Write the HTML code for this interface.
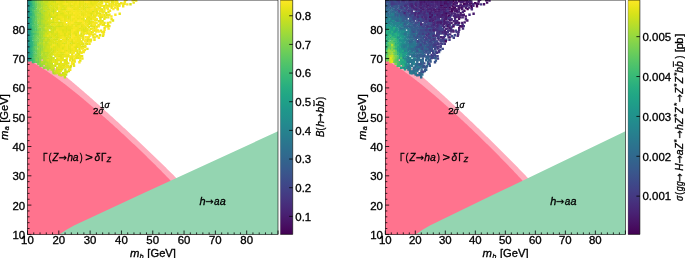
<!DOCTYPE html>
<html><head><meta charset="utf-8"><style>
html,body{margin:0;padding:0;background:#fff;}
svg{display:block;}
</style></head><body>
<svg width="685" height="258" viewBox="0 0 685 258" style="will-change:transform">
<rect width="685" height="258" fill="#fff"/>
<defs><clipPath id="clipL"><rect x="27.50" y="0.00" width="250.50" height="234.40"/></clipPath><clipPath id="clipR"><rect x="385.30" y="0.00" width="240.10" height="234.40"/></clipPath><linearGradient id="gL" x1="0" y1="0" x2="0" y2="1"><stop offset="0.0000" stop-color="#fde725"/><stop offset="0.0312" stop-color="#eae51a"/><stop offset="0.0625" stop-color="#d5e21a"/><stop offset="0.0938" stop-color="#c0df25"/><stop offset="0.1250" stop-color="#aadc32"/><stop offset="0.1562" stop-color="#95d840"/><stop offset="0.1875" stop-color="#81d34d"/><stop offset="0.2188" stop-color="#6ece58"/><stop offset="0.2500" stop-color="#5cc863"/><stop offset="0.2812" stop-color="#4cc26c"/><stop offset="0.3125" stop-color="#3dbc74"/><stop offset="0.3438" stop-color="#31b57b"/><stop offset="0.3750" stop-color="#27ad81"/><stop offset="0.4062" stop-color="#21a685"/><stop offset="0.4375" stop-color="#1f9f88"/><stop offset="0.4688" stop-color="#1f978b"/><stop offset="0.5000" stop-color="#21918c"/><stop offset="0.5312" stop-color="#23898e"/><stop offset="0.5625" stop-color="#26828e"/><stop offset="0.5938" stop-color="#297a8e"/><stop offset="0.6250" stop-color="#2c728e"/><stop offset="0.6562" stop-color="#2f6b8e"/><stop offset="0.6875" stop-color="#33638d"/><stop offset="0.7188" stop-color="#375b8d"/><stop offset="0.7500" stop-color="#3b528b"/><stop offset="0.7812" stop-color="#3e4989"/><stop offset="0.8125" stop-color="#424086"/><stop offset="0.8438" stop-color="#453781"/><stop offset="0.8750" stop-color="#472d7b"/><stop offset="0.9062" stop-color="#482374"/><stop offset="0.9375" stop-color="#48186a"/><stop offset="0.9688" stop-color="#470d60"/><stop offset="1.0000" stop-color="#440154"/></linearGradient><linearGradient id="gR" x1="0" y1="0" x2="0" y2="1"><stop offset="0.0000" stop-color="#fde725"/><stop offset="0.0312" stop-color="#eae51a"/><stop offset="0.0625" stop-color="#d5e21a"/><stop offset="0.0938" stop-color="#c0df25"/><stop offset="0.1250" stop-color="#aadc32"/><stop offset="0.1562" stop-color="#95d840"/><stop offset="0.1875" stop-color="#81d34d"/><stop offset="0.2188" stop-color="#6ece58"/><stop offset="0.2500" stop-color="#5cc863"/><stop offset="0.2812" stop-color="#4cc26c"/><stop offset="0.3125" stop-color="#3dbc74"/><stop offset="0.3438" stop-color="#31b57b"/><stop offset="0.3750" stop-color="#27ad81"/><stop offset="0.4062" stop-color="#21a685"/><stop offset="0.4375" stop-color="#1f9f88"/><stop offset="0.4688" stop-color="#1f978b"/><stop offset="0.5000" stop-color="#21918c"/><stop offset="0.5312" stop-color="#23898e"/><stop offset="0.5625" stop-color="#26828e"/><stop offset="0.5938" stop-color="#297a8e"/><stop offset="0.6250" stop-color="#2c728e"/><stop offset="0.6562" stop-color="#2f6b8e"/><stop offset="0.6875" stop-color="#33638d"/><stop offset="0.7188" stop-color="#375b8d"/><stop offset="0.7500" stop-color="#3b528b"/><stop offset="0.7812" stop-color="#3e4989"/><stop offset="0.8125" stop-color="#424086"/><stop offset="0.8438" stop-color="#453781"/><stop offset="0.8750" stop-color="#472d7b"/><stop offset="0.9062" stop-color="#482374"/><stop offset="0.9375" stop-color="#48186a"/><stop offset="0.9688" stop-color="#470d60"/><stop offset="1.0000" stop-color="#440154"/></linearGradient></defs>
<g clip-path="url(#clipL)">
<path d="M24.37 237.33 L24.37 47.15 L25.15 47.57 L25.93 47.99 L26.72 48.43 L27.50 48.87 L28.28 49.32 L29.07 49.78 L29.85 50.24 L30.63 50.71 L31.41 51.19 L32.20 51.68 L32.98 52.17 L33.76 52.66 L34.55 53.16 L35.33 53.67 L36.11 54.18 L36.89 54.70 L37.68 55.22 L38.46 55.75 L39.24 56.28 L40.02 56.82 L40.81 57.36 L41.59 57.91 L42.37 58.46 L43.16 59.01 L43.94 59.57 L44.72 60.14 L45.50 60.70 L46.29 61.28 L47.07 61.85 L47.85 62.43 L48.64 63.01 L49.42 63.60 L50.20 64.19 L50.98 64.78 L51.77 65.37 L52.55 65.97 L53.33 66.57 L54.12 67.18 L54.90 67.79 L55.68 68.40 L56.46 69.01 L57.25 69.62 L58.03 70.24 L58.81 70.86 L59.60 71.49 L60.38 72.11 L61.16 72.74 L61.94 73.37 L62.73 74.00 L63.51 74.64 L64.29 75.27 L65.08 75.91 L65.86 76.55 L66.64 77.20 L67.42 77.84 L68.21 78.49 L68.99 79.14 L69.77 79.79 L70.55 80.44 L71.34 81.09 L72.12 81.75 L72.90 82.41 L73.69 83.06 L74.47 83.73 L75.25 84.39 L76.03 85.05 L76.82 85.72 L77.60 86.38 L78.38 87.05 L79.17 87.72 L79.95 88.39 L80.73 89.06 L81.51 89.74 L82.30 90.41 L83.08 91.09 L83.86 91.77 L84.65 92.45 L85.43 93.13 L86.21 93.81 L86.99 94.49 L87.78 95.17 L88.56 95.86 L89.34 96.54 L90.12 97.23 L90.91 97.92 L91.69 98.61 L92.47 99.30 L93.26 99.99 L94.04 100.68 L94.82 101.38 L95.60 102.07 L96.39 102.76 L97.17 103.46 L97.95 104.16 L98.74 104.86 L99.52 105.56 L100.30 106.26 L101.08 106.96 L101.87 107.66 L102.65 108.36 L103.43 109.06 L104.22 109.77 L105.00 110.47 L105.78 111.18 L106.56 111.89 L107.35 112.60 L108.13 113.30 L108.91 114.01 L109.70 114.72 L110.48 115.44 L111.26 116.15 L112.04 116.86 L112.83 117.57 L113.61 118.29 L114.39 119.00 L115.17 119.72 L115.96 120.44 L116.74 121.15 L117.52 121.87 L118.31 122.59 L119.09 123.31 L119.87 124.03 L120.65 124.75 L121.44 125.47 L122.22 126.19 L123.00 126.92 L123.79 127.64 L124.57 128.37 L125.35 129.09 L126.13 129.82 L126.92 130.54 L127.70 131.27 L128.48 132.00 L129.27 132.73 L130.05 133.46 L130.83 134.19 L131.61 134.92 L132.40 135.65 L133.18 136.39 L133.96 137.12 L134.75 137.85 L135.53 138.59 L136.31 139.32 L137.09 140.06 L137.88 140.80 L138.66 141.53 L139.44 142.27 L140.22 143.01 L141.01 143.75 L141.79 144.49 L142.57 145.23 L143.36 145.97 L144.14 146.72 L144.92 147.46 L145.70 148.21 L146.49 148.95 L147.27 149.70 L148.05 150.44 L148.84 151.19 L149.62 151.94 L150.40 152.69 L151.18 153.44 L151.97 154.19 L152.75 154.94 L153.53 155.69 L154.32 156.45 L155.10 157.20 L155.88 157.96 L156.66 158.71 L157.45 159.47 L158.23 160.23 L159.01 160.98 L159.80 161.74 L160.58 162.51 L161.36 163.27 L162.14 164.03 L162.93 164.79 L163.71 165.56 L164.49 166.32 L165.28 167.09 L166.06 167.86 L166.84 168.63 L167.62 169.40 L168.41 170.17 L169.19 170.94 L169.97 171.71 L170.75 172.49 L171.54 173.26 L172.32 174.04 L173.10 174.82 L173.89 175.60 L174.67 176.38 L175.45 177.16 L176.23 177.94 L177.02 178.73 L177.80 179.51 L178.58 180.30 L179.37 181.09 L180.15 181.88 L180.93 182.67 L181.71 183.47 L182.50 184.26 L183.28 185.06 L184.06 185.86 L184.85 186.66 L185.63 187.46 L186.41 188.27 L187.19 189.07 L187.98 189.88 L188.76 190.69 L189.54 191.51 L190.32 192.32 L191.11 193.14 L191.89 193.96 L192.67 194.78 L193.46 195.61 L194.24 196.43 L195.02 197.26 L195.80 198.10 L196.59 198.93 L197.37 199.77 L198.15 200.61 L198.94 201.46 L199.72 202.31 L200.50 203.16 L201.28 204.02 L202.07 204.88 L202.85 205.74 L203.63 206.61 L204.42 207.48 L205.20 208.36 L205.98 209.24 L206.76 210.13 L207.55 211.02 L208.33 211.92 L209.11 212.82 L209.90 213.73 L210.68 214.64 L211.46 215.57 L212.24 216.50 L213.03 217.43 L213.81 218.38 L214.59 219.33 L215.38 220.30 L216.16 221.27 L216.94 222.25 L217.72 223.25 L218.51 224.25 L219.29 225.27 L220.07 226.31 L220.85 227.36 L221.64 228.42 L222.42 229.51 L223.20 230.61 L223.99 231.74 L224.77 232.89 L225.55 234.07 L226.33 235.27 L227.12 236.52 L227.90 237.80 L228.68 239.13 L229.47 240.51 L230.25 241.96 L231.03 243.48 L231.81 245.10 L232.60 246.85 L233.38 248.76 L233.38 237.33 Z" fill="#ffabbc"/>
<path d="M24.37 237.33 L24.37 58.33 L25.15 58.69 L25.93 59.05 L26.72 59.43 L27.50 59.81 L28.28 60.20 L29.07 60.59 L29.85 60.99 L30.63 61.40 L31.41 61.82 L32.20 62.24 L32.98 62.67 L33.76 63.10 L34.55 63.54 L35.33 63.99 L36.11 64.44 L36.89 64.90 L37.68 65.36 L38.46 65.83 L39.24 66.31 L40.02 66.79 L40.81 67.27 L41.59 67.76 L42.37 68.26 L43.16 68.76 L43.94 69.26 L44.72 69.77 L45.50 70.29 L46.29 70.81 L47.07 71.33 L47.85 71.86 L48.64 72.39 L49.42 72.92 L50.20 73.46 L50.98 74.01 L51.77 74.55 L52.55 75.10 L53.33 75.66 L54.12 76.22 L54.90 76.78 L55.68 77.34 L56.46 77.91 L57.25 78.48 L58.03 79.06 L58.81 79.64 L59.60 80.22 L60.38 80.80 L61.16 81.39 L61.94 81.98 L62.73 82.58 L63.51 83.17 L64.29 83.77 L65.08 84.37 L65.86 84.98 L66.64 85.59 L67.42 86.20 L68.21 86.81 L68.99 87.42 L69.77 88.04 L70.55 88.66 L71.34 89.28 L72.12 89.91 L72.90 90.53 L73.69 91.16 L74.47 91.79 L75.25 92.42 L76.03 93.06 L76.82 93.70 L77.60 94.34 L78.38 94.98 L79.17 95.62 L79.95 96.27 L80.73 96.91 L81.51 97.56 L82.30 98.21 L83.08 98.87 L83.86 99.52 L84.65 100.18 L85.43 100.84 L86.21 101.49 L86.99 102.16 L87.78 102.82 L88.56 103.48 L89.34 104.15 L90.12 104.82 L90.91 105.49 L91.69 106.16 L92.47 106.83 L93.26 107.51 L94.04 108.18 L94.82 108.86 L95.60 109.54 L96.39 110.22 L97.17 110.90 L97.95 111.58 L98.74 112.27 L99.52 112.95 L100.30 113.64 L101.08 114.33 L101.87 115.02 L102.65 115.71 L103.43 116.40 L104.22 117.10 L105.00 117.79 L105.78 118.49 L106.56 119.19 L107.35 119.88 L108.13 120.59 L108.91 121.29 L109.70 121.99 L110.48 122.69 L111.26 123.40 L112.04 124.11 L112.83 124.81 L113.61 125.52 L114.39 126.23 L115.17 126.94 L115.96 127.66 L116.74 128.37 L117.52 129.08 L118.31 129.80 L119.09 130.52 L119.87 131.24 L120.65 131.96 L121.44 132.68 L122.22 133.40 L123.00 134.12 L123.79 134.85 L124.57 135.57 L125.35 136.30 L126.13 137.03 L126.92 137.76 L127.70 138.49 L128.48 139.22 L129.27 139.95 L130.05 140.68 L130.83 141.42 L131.61 142.15 L132.40 142.89 L133.18 143.63 L133.96 144.37 L134.75 145.11 L135.53 145.85 L136.31 146.60 L137.09 147.34 L137.88 148.09 L138.66 148.83 L139.44 149.58 L140.22 150.33 L141.01 151.08 L141.79 151.83 L142.57 152.59 L143.36 153.34 L144.14 154.10 L144.92 154.86 L145.70 155.61 L146.49 156.37 L147.27 157.14 L148.05 157.90 L148.84 158.66 L149.62 159.43 L150.40 160.20 L151.18 160.96 L151.97 161.73 L152.75 162.51 L153.53 163.28 L154.32 164.05 L155.10 164.83 L155.88 165.61 L156.66 166.39 L157.45 167.17 L158.23 167.95 L159.01 168.74 L159.80 169.52 L160.58 170.31 L161.36 171.10 L162.14 171.89 L162.93 172.68 L163.71 173.48 L164.49 174.28 L165.28 175.08 L166.06 175.88 L166.84 176.68 L167.62 177.49 L168.41 178.30 L169.19 179.11 L169.97 179.92 L170.75 180.73 L171.54 181.55 L172.32 182.37 L173.10 183.19 L173.89 184.02 L174.67 184.84 L175.45 185.67 L176.23 186.51 L177.02 187.34 L177.80 188.18 L178.58 189.02 L179.37 189.87 L180.15 190.72 L180.93 191.57 L181.71 192.42 L182.50 193.28 L183.28 194.14 L184.06 195.01 L184.85 195.88 L185.63 196.76 L186.41 197.63 L187.19 198.52 L187.98 199.41 L188.76 200.30 L189.54 201.20 L190.32 202.10 L191.11 203.01 L191.89 203.92 L192.67 204.84 L193.46 205.77 L194.24 206.70 L195.02 207.64 L195.80 208.59 L196.59 209.54 L197.37 210.51 L198.15 211.48 L198.94 212.46 L199.72 213.45 L200.50 214.44 L201.28 215.45 L202.07 216.47 L202.85 217.51 L203.63 218.55 L204.42 219.61 L205.20 220.68 L205.98 221.77 L206.76 222.88 L207.55 224.00 L208.33 225.15 L209.11 226.31 L209.90 227.50 L210.68 228.72 L211.46 229.96 L212.24 231.24 L213.03 232.56 L213.81 233.91 L214.59 235.31 L215.38 236.77 L216.16 238.29 L216.94 239.89 L217.72 241.58 L218.51 243.38 L219.29 245.33 L220.07 247.49 L220.07 237.33 Z" fill="#ff738e"/>
<path d="M58.19 237.33 L58.81 234.40 L61.94 232.79 L66.01 230.06 L74.00 225.46 L140.01 194.84 L278.00 131.26 L284.26 128.33 L284.26 237.33 Z" fill="#94d5b1"/>
<path fill="#1e9b8a" d="M28.1 17.8h2.4v2.4h-2.4zM27.8 19.4h2.4v2.4h-2.4zM28.1 32.5h2.4v2.4h-2.4z"/>
<path fill="#1e9c89" d="M27.7 -1h2.4v2.4h-2.4zM27.8 43.9h2.4v2.4h-2.4zM28 59.1h2.4v2.4h-2.4z"/>
<path fill="#1f958b" d="M27.7 2.7h2.4v2.4h-2.4zM27.8 8.4h2.4v2.4h-2.4zM27.7 25.1h2.4v2.4h-2.4zM27.9 45.8h2.4v2.4h-2.4z"/>
<path fill="#1f968b" d="M27.9 10.1h2.4v2.4h-2.4zM28 28.8h2.4v2.4h-2.4zM27.8 42.2h2.4v2.4h-2.4z"/>
<path fill="#1f978b" d="M27.9 0.6h2.4v2.4h-2.4zM28 34.4h2.4v2.4h-2.4zM27.9 55.1h2.4v2.4h-2.4z"/>
<path fill="#1f988b" d="M28.1 6.5h2.4v2.4h-2.4z"/>
<path fill="#1f998a" d="M27.8 12.1h2.4v2.4h-2.4zM27.7 23.2h2.4v2.4h-2.4z"/>
<path fill="#1f9a8a" d="M27.8 15.7h2.4v2.4h-2.4zM27.7 27.1h2.4v2.4h-2.4zM27.8 36.3h2.4v2.4h-2.4zM28 38.4h2.4v2.4h-2.4z"/>
<path fill="#1f9e89" d="M28 14.1h2.4v2.4h-2.4z"/>
<path fill="#1f9f88" d="M27.8 47.8h2.4v2.4h-2.4z"/>
<path fill="#1fa088" d="M28 40h2.4v2.4h-2.4zM28.1 51.2h2.4v2.4h-2.4z"/>
<path fill="#1fa287" d="M29.8 2.7h2.4v2.4h-2.4zM28 4.5h2.4v2.4h-2.4z"/>
<path fill="#20928c" d="M27.7 21.3h2.4v2.4h-2.4zM27.9 57h2.4v2.4h-2.4z"/>
<path fill="#20938c" d="M27.9 49.7h2.4v2.4h-2.4zM27.8 53.3h2.4v2.4h-2.4z"/>
<path fill="#218f8d" d="M27.8 30.8h2.4v2.4h-2.4z"/>
<path fill="#21a585" d="M29.8 26.9h2.4v2.4h-2.4zM29.9 34.4h2.4v2.4h-2.4z"/>
<path fill="#228c8d" d="M26 30.9h2.4v2.4h-2.4zM26.1 36.5h2.4v2.4h-2.4z"/>
<path fill="#22a785" d="M29.5 51.6h2.4v2.4h-2.4z"/>
<path fill="#22a884" d="M29.7 4.6h2.4v2.4h-2.4zM29.6 43.9h2.4v2.4h-2.4z"/>
<path fill="#23a983" d="M29.6 12.2h2.4v2.4h-2.4zM29.7 31h2.4v2.4h-2.4zM29.8 32.6h2.4v2.4h-2.4zM29.8 45.8h2.4v2.4h-2.4z"/>
<path fill="#24868e" d="M26.2 4.6h2.4v2.4h-2.4zM26.1 29.1h2.4v2.4h-2.4z"/>
<path fill="#24878e" d="M26.2 16h2.4v2.4h-2.4zM26 19.4h2.4v2.4h-2.4zM26.2 34.5h2.4v2.4h-2.4zM26.1 47.7h2.4v2.4h-2.4z"/>
<path fill="#24aa83" d="M29.6 14.1h2.4v2.4h-2.4zM29.6 25.1h2.4v2.4h-2.4zM30 53.2h2.4v2.4h-2.4z"/>
<path fill="#25838e" d="M25.8 8.4h2.4v2.4h-2.4zM26.2 10.3h2.4v2.4h-2.4zM26.1 40.1h2.4v2.4h-2.4z"/>
<path fill="#25848e" d="M26.1 6.4h2.4v2.4h-2.4z"/>
<path fill="#25ab82" d="M29.7 -1h2.4v2.4h-2.4zM29.8 28.8h2.4v2.4h-2.4zM29.8 38.1h2.4v2.4h-2.4zM29.6 40.4h2.4v2.4h-2.4z"/>
<path fill="#25ac82" d="M29.6 10.1h2.4v2.4h-2.4zM29.6 17.8h2.4v2.4h-2.4zM29.5 19.5h2.4v2.4h-2.4zM29.7 36.6h2.4v2.4h-2.4zM29.9 57.1h2.4v2.4h-2.4z"/>
<path fill="#26818e" d="M26.2 27.2h2.4v2.4h-2.4zM26 32.8h2.4v2.4h-2.4z"/>
<path fill="#26828e" d="M26.2 0.8h2.4v2.4h-2.4zM25.9 12.2h2.4v2.4h-2.4zM25.9 17.6h2.4v2.4h-2.4zM25.8 38.3h2.4v2.4h-2.4zM26 45.9h2.4v2.4h-2.4zM25.8 51.4h2.4v2.4h-2.4zM25.9 53.5h2.4v2.4h-2.4zM25.9 55.1h2.4v2.4h-2.4z"/>
<path fill="#26ad81" d="M29.8 0.7h2.4v2.4h-2.4zM29.8 21.3h2.4v2.4h-2.4z"/>
<path fill="#277e8e" d="M25.9 49.5h2.4v2.4h-2.4z"/>
<path fill="#277f8e" d="M26.1 13.9h2.4v2.4h-2.4zM26 25.1h2.4v2.4h-2.4zM26.1 57h2.4v2.4h-2.4z"/>
<path fill="#27808e" d="M26 -1.2h2.4v2.4h-2.4zM26.1 21.3h2.4v2.4h-2.4z"/>
<path fill="#287d8e" d="M25.9 2.7h2.4v2.4h-2.4zM25.8 42.1h2.4v2.4h-2.4zM26.1 43.8h2.4v2.4h-2.4z"/>
<path fill="#28ae80" d="M29.9 49.6h2.4v2.4h-2.4z"/>
<path fill="#297a8e" d="M26.1 58.9h2.4v2.4h-2.4z"/>
<path fill="#297b8e" d="M26.1 23.2h2.4v2.4h-2.4z"/>
<path fill="#29af7f" d="M30 47.6h2.4v2.4h-2.4z"/>
<path fill="#2ab07f" d="M29.8 42h2.4v2.4h-2.4zM29.6 55.1h2.4v2.4h-2.4zM29.8 58.8h2.4v2.4h-2.4z"/>
<path fill="#2db27d" d="M29.8 6.4h2.4v2.4h-2.4z"/>
<path fill="#2eb37c" d="M29.9 8.3h2.4v2.4h-2.4z"/>
<path fill="#2fb47c" d="M31.5 4.4h2.4v2.4h-2.4zM29.8 23.2h2.4v2.4h-2.4zM31.4 51.3h2.4v2.4h-2.4z"/>
<path fill="#31b57b" d="M31.4 42h2.4v2.4h-2.4z"/>
<path fill="#34b679" d="M31.5 43.8h2.4v2.4h-2.4zM31.6 46h2.4v2.4h-2.4z"/>
<path fill="#35b779" d="M31.7 6.5h2.4v2.4h-2.4zM31.8 40.4h2.4v2.4h-2.4zM31.6 59h2.4v2.4h-2.4z"/>
<path fill="#37b878" d="M29.9 15.7h2.4v2.4h-2.4zM31.8 55h2.4v2.4h-2.4z"/>
<path fill="#38b977" d="M31.6 32.6h2.4v2.4h-2.4zM31.6 53.4h2.4v2.4h-2.4z"/>
<path fill="#3aba76" d="M31.7 12h2.4v2.4h-2.4zM31.8 13.8h2.4v2.4h-2.4zM31.4 34.4h2.4v2.4h-2.4zM31.8 60.8h2.4v2.4h-2.4z"/>
<path fill="#3bbb75" d="M31.8 2.8h2.4v2.4h-2.4zM31.5 29.1h2.4v2.4h-2.4zM31.8 49.4h2.4v2.4h-2.4z"/>
<path fill="#3dbc74" d="M31.6 19.5h2.4v2.4h-2.4zM31.8 23.1h2.4v2.4h-2.4zM31.7 27h2.4v2.4h-2.4zM31.8 36.3h2.4v2.4h-2.4z"/>
<path fill="#3fbc73" d="M31.8 -1h2.4v2.4h-2.4zM31.5 1h2.4v2.4h-2.4zM31.7 21.6h2.4v2.4h-2.4zM31.7 38.2h2.4v2.4h-2.4z"/>
<path fill="#40bd72" d="M31.8 10.3h2.4v2.4h-2.4zM31.4 15.9h2.4v2.4h-2.4zM31.5 47.6h2.4v2.4h-2.4z"/>
<path fill="#42be71" d="M31.8 57.2h2.4v2.4h-2.4z"/>
<path fill="#44bf70" d="M31.8 17.7h2.4v2.4h-2.4z"/>
<path fill="#46c06f" d="M31.6 25.2h2.4v2.4h-2.4zM31.4 30.7h2.4v2.4h-2.4z"/>
<path fill="#48c16e" d="M31.7 8.4h2.4v2.4h-2.4zM33.5 15.7h2.4v2.4h-2.4z"/>
<path fill="#4ac16d" d="M33.7 8.2h2.4v2.4h-2.4zM33.6 32.7h2.4v2.4h-2.4zM33.5 43.8h2.4v2.4h-2.4z"/>
<path fill="#4cc26c" d="M33.3 28.9h2.4v2.4h-2.4z"/>
<path fill="#4ec36b" d="M33.4 14.1h2.4v2.4h-2.4zM33.3 51.4h2.4v2.4h-2.4z"/>
<path fill="#50c46a" d="M33.3 2.7h2.4v2.4h-2.4zM33.5 4.7h2.4v2.4h-2.4zM33.7 6.3h2.4v2.4h-2.4zM33.4 23.4h2.4v2.4h-2.4zM33.3 27.1h2.4v2.4h-2.4zM33.3 47.8h2.4v2.4h-2.4zM33.5 58.9h2.4v2.4h-2.4z"/>
<path fill="#52c569" d="M33.4 0.8h2.4v2.4h-2.4zM33.5 17.6h2.4v2.4h-2.4z"/>
<path fill="#54c568" d="M33.6 -1.2h2.4v2.4h-2.4zM33.3 19.5h2.4v2.4h-2.4zM35.4 29.1h2.4v2.4h-2.4zM33.5 49.4h2.4v2.4h-2.4z"/>
<path fill="#56c667" d="M33.7 25.3h2.4v2.4h-2.4z"/>
<path fill="#58c765" d="M33.5 40.3h2.4v2.4h-2.4zM33.6 42h2.4v2.4h-2.4zM33.3 60.6h2.4v2.4h-2.4z"/>
<path fill="#5ac864" d="M33.7 11.9h2.4v2.4h-2.4zM33.6 34.6h2.4v2.4h-2.4zM33.6 36.6h2.4v2.4h-2.4zM33.6 57.2h2.4v2.4h-2.4z"/>
<path fill="#5cc863" d="M33.5 53.5h2.4v2.4h-2.4z"/>
<path fill="#5ec962" d="M33.6 30.7h2.4v2.4h-2.4zM35.3 44.1h2.4v2.4h-2.4z"/>
<path fill="#60ca60" d="M33.7 21.3h2.4v2.4h-2.4zM35.4 27.1h2.4v2.4h-2.4zM33.5 38.3h2.4v2.4h-2.4zM35.4 53.5h2.4v2.4h-2.4zM33.5 55.1h2.4v2.4h-2.4z"/>
<path fill="#63cb5f" d="M35.2 6.2h2.4v2.4h-2.4zM33.7 10.2h2.4v2.4h-2.4zM35.3 21.5h2.4v2.4h-2.4zM35.6 32.9h2.4v2.4h-2.4zM33.5 45.9h2.4v2.4h-2.4zM35.4 49.6h2.4v2.4h-2.4zM35.4 60.7h2.4v2.4h-2.4z"/>
<path fill="#67cc5c" d="M35.4 -1.2h2.4v2.4h-2.4zM35.3 2.8h2.4v2.4h-2.4zM35.2 23.5h2.4v2.4h-2.4zM35.4 25.1h2.4v2.4h-2.4z"/>
<path fill="#69cd5b" d="M35.2 10.2h2.4v2.4h-2.4zM35.4 19.6h2.4v2.4h-2.4zM35.4 40.3h2.4v2.4h-2.4zM35.5 51.3h2.4v2.4h-2.4z"/>
<path fill="#6ccd5a" d="M35.2 4.3h2.4v2.4h-2.4zM35.3 36.3h2.4v2.4h-2.4zM35.2 42.1h2.4v2.4h-2.4z"/>
<path fill="#6ece58" d="M35.4 15.8h2.4v2.4h-2.4zM35.5 30.7h2.4v2.4h-2.4zM35.3 55.1h2.4v2.4h-2.4zM37.1 60.8h2.4v2.4h-2.4z"/>
<path fill="#70cf57" d="M35.2 17.7h2.4v2.4h-2.4zM37.1 32.7h2.4v2.4h-2.4zM37.1 57h2.4v2.4h-2.4z"/>
<path fill="#73d056" d="M35.4 34.4h2.4v2.4h-2.4zM35.4 38.2h2.4v2.4h-2.4zM35.3 45.9h2.4v2.4h-2.4zM35.2 47.7h2.4v2.4h-2.4zM37.3 58.8h2.4v2.4h-2.4z"/>
<path fill="#77d153" d="M35.2 0.9h2.4v2.4h-2.4zM35.4 8.4h2.4v2.4h-2.4zM35.4 11.9h2.4v2.4h-2.4zM39.1 11.9h2.4v2.4h-2.4zM37.3 28.9h2.4v2.4h-2.4zM37.3 38.4h2.4v2.4h-2.4z"/>
<path fill="#7ad151" d="M35.4 13.7h2.4v2.4h-2.4zM37.5 23.1h2.4v2.4h-2.4zM37.2 40.3h2.4v2.4h-2.4zM35.4 57.1h2.4v2.4h-2.4z"/>
<path fill="#7cd250" d="M37.3 -1.1h2.4v2.4h-2.4zM37.2 25.2h2.4v2.4h-2.4z"/>
<path fill="#7fd34e" d="M37.1 10.1h2.4v2.4h-2.4zM37.1 34.7h2.4v2.4h-2.4zM37.4 45.6h2.4v2.4h-2.4zM39.3 64.6h2.4v2.4h-2.4z"/>
<path fill="#81d34d" d="M39 60.9h2.4v2.4h-2.4zM37.1 62.7h2.4v2.4h-2.4z"/>
<path fill="#84d44b" d="M37.1 12.2h2.4v2.4h-2.4zM37.1 15.7h2.4v2.4h-2.4zM37.1 49.5h2.4v2.4h-2.4zM35.5 59.1h2.4v2.4h-2.4z"/>
<path fill="#86d549" d="M37.4 30.9h2.4v2.4h-2.4zM37.4 36.3h2.4v2.4h-2.4zM39.2 47.8h2.4v2.4h-2.4zM37.4 51.5h2.4v2.4h-2.4zM37.1 53.2h2.4v2.4h-2.4zM37.4 55.3h2.4v2.4h-2.4z"/>
<path fill="#89d548" d="M37.3 2.8h2.4v2.4h-2.4zM37.2 4.5h2.4v2.4h-2.4zM37.1 8.3h2.4v2.4h-2.4zM39.1 21.5h2.4v2.4h-2.4zM39.1 36.5h2.4v2.4h-2.4zM39.1 53.2h2.4v2.4h-2.4z"/>
<path fill="#8bd646" d="M39.2 -1.1h2.4v2.4h-2.4zM37.3 17.5h2.4v2.4h-2.4zM39.2 23.2h2.4v2.4h-2.4zM37.4 27.2h2.4v2.4h-2.4zM39 27.2h2.4v2.4h-2.4zM39 29h2.4v2.4h-2.4zM37.1 42.2h2.4v2.4h-2.4zM39.1 49.6h2.4v2.4h-2.4zM39.1 55.3h2.4v2.4h-2.4z"/>
<path fill="#8ed645" d="M39.1 43.7h2.4v2.4h-2.4zM39.1 56.9h2.4v2.4h-2.4zM40.8 62.7h2.4v2.4h-2.4z"/>
<path fill="#90d743" d="M37.2 0.6h2.4v2.4h-2.4zM38.9 2.7h2.4v2.4h-2.4zM39 4.5h2.4v2.4h-2.4zM39.1 15.9h2.4v2.4h-2.4zM39.3 17.6h2.4v2.4h-2.4zM39.1 32.7h2.4v2.4h-2.4zM39.3 51.5h2.4v2.4h-2.4z"/>
<path fill="#93d741" d="M37.3 6.6h2.4v2.4h-2.4zM37.2 13.9h2.4v2.4h-2.4zM39.2 14.1h2.4v2.4h-2.4zM39.1 19.5h2.4v2.4h-2.4zM39.2 34.5h2.4v2.4h-2.4zM39 58.8h2.4v2.4h-2.4zM39 62.5h2.4v2.4h-2.4zM42.8 66.6h2.4v2.4h-2.4z"/>
<path fill="#95d840" d="M40.9 14h2.4v2.4h-2.4zM37.4 21.5h2.4v2.4h-2.4zM41.1 40h2.4v2.4h-2.4zM39.2 45.6h2.4v2.4h-2.4z"/>
<path fill="#98d83e" d="M39 6.4h2.4v2.4h-2.4zM40.8 17.9h2.4v2.4h-2.4zM37.4 19.3h2.4v2.4h-2.4z"/>
<path fill="#9bd93c" d="M41.1 27.1h2.4v2.4h-2.4zM39.1 31h2.4v2.4h-2.4zM39.3 38.5h2.4v2.4h-2.4zM39.1 40.3h2.4v2.4h-2.4zM37.5 47.7h2.4v2.4h-2.4z"/>
<path fill="#9dd93b" d="M39.3 8.4h2.4v2.4h-2.4zM41.2 8.4h2.4v2.4h-2.4zM39 10.3h2.4v2.4h-2.4zM41 23.3h2.4v2.4h-2.4zM37.2 43.7h2.4v2.4h-2.4zM40.9 45.8h2.4v2.4h-2.4zM41.2 47.7h2.4v2.4h-2.4zM41 56.9h2.4v2.4h-2.4zM40.9 64.6h2.4v2.4h-2.4z"/>
<path fill="#a0da39" d="M39.1 1h2.4v2.4h-2.4zM41.1 4.7h2.4v2.4h-2.4zM43.1 10.3h2.4v2.4h-2.4zM41 32.8h2.4v2.4h-2.4zM40.9 36.4h2.4v2.4h-2.4zM41.1 43.9h2.4v2.4h-2.4zM46.9 68.2h2.4v2.4h-2.4z"/>
<path fill="#a2da37" d="M38.9 25h2.4v2.4h-2.4zM42.7 29h2.4v2.4h-2.4zM41.2 34.5h2.4v2.4h-2.4zM41 38.4h2.4v2.4h-2.4zM45 66.4h2.4v2.4h-2.4z"/>
<path fill="#a5db36" d="M41 15.6h2.4v2.4h-2.4zM42.9 25.1h2.4v2.4h-2.4zM41.2 29.1h2.4v2.4h-2.4zM41 30.8h2.4v2.4h-2.4zM40.8 42.1h2.4v2.4h-2.4zM41 49.7h2.4v2.4h-2.4zM44.7 55.1h2.4v2.4h-2.4zM42.8 60.7h2.4v2.4h-2.4zM52.5 71.9h2.4v2.4h-2.4z"/>
<path fill="#a8db34" d="M41 -1.1h2.4v2.4h-2.4zM42.8 2.5h2.4v2.4h-2.4zM42.9 17.5h2.4v2.4h-2.4zM42.9 27.2h2.4v2.4h-2.4zM42.9 32.6h2.4v2.4h-2.4zM42.8 38.3h2.4v2.4h-2.4zM42.7 51.6h2.4v2.4h-2.4zM42.8 53.3h2.4v2.4h-2.4zM44.6 60.8h2.4v2.4h-2.4zM43 62.5h2.4v2.4h-2.4zM46.5 66.6h2.4v2.4h-2.4z"/>
<path fill="#aadc32" d="M41.2 6.5h2.4v2.4h-2.4zM40.9 11.9h2.4v2.4h-2.4zM40.8 21.5h2.4v2.4h-2.4zM40.9 25.3h2.4v2.4h-2.4zM39.2 42.2h2.4v2.4h-2.4zM41 55.2h2.4v2.4h-2.4z"/>
<path fill="#addc30" d="M41 1h2.4v2.4h-2.4zM40.9 19.5h2.4v2.4h-2.4zM42.7 23.1h2.4v2.4h-2.4zM43.1 36.4h2.4v2.4h-2.4zM46.5 62.6h2.4v2.4h-2.4z"/>
<path fill="#b0dd2f" d="M40.9 2.8h2.4v2.4h-2.4zM42.8 13.9h2.4v2.4h-2.4zM44.8 19.6h2.4v2.4h-2.4zM46.4 60.8h2.4v2.4h-2.4zM44.9 64.4h2.4v2.4h-2.4zM46.7 64.7h2.4v2.4h-2.4zM52.2 68.3h2.4v2.4h-2.4z"/>
<path fill="#b2dd2d" d="M44.7 4.4h2.4v2.4h-2.4zM40.9 10.1h2.4v2.4h-2.4zM46.5 23.1h2.4v2.4h-2.4zM42.8 55h2.4v2.4h-2.4zM48.6 66.6h2.4v2.4h-2.4z"/>
<path fill="#b5de2b" d="M42.7 16h2.4v2.4h-2.4zM44.9 28.7h2.4v2.4h-2.4zM44.9 41.9h2.4v2.4h-2.4zM43.1 45.7h2.4v2.4h-2.4zM42.8 47.9h2.4v2.4h-2.4zM41 51.2h2.4v2.4h-2.4zM44.6 51.4h2.4v2.4h-2.4zM46.6 51.6h2.4v2.4h-2.4zM44.6 58.9h2.4v2.4h-2.4zM52.1 70h2.4v2.4h-2.4z"/>
<path fill="#b8de29" d="M43.1 30.8h2.4v2.4h-2.4zM46.8 32.8h2.4v2.4h-2.4zM44.7 40.1h2.4v2.4h-2.4zM43 49.7h2.4v2.4h-2.4zM41.2 53.3h2.4v2.4h-2.4zM42.9 56.9h2.4v2.4h-2.4zM42.8 59h2.4v2.4h-2.4z"/>
<path fill="#bade28" d="M44.6 0.9h2.4v2.4h-2.4zM46.5 0.6h2.4v2.4h-2.4zM43 4.5h2.4v2.4h-2.4zM43 8.1h2.4v2.4h-2.4zM48.5 14.1h2.4v2.4h-2.4zM42.9 21.3h2.4v2.4h-2.4zM44.8 30.7h2.4v2.4h-2.4zM45 36.3h2.4v2.4h-2.4zM46.7 38.3h2.4v2.4h-2.4zM44.8 45.9h2.4v2.4h-2.4zM46.6 57.2h2.4v2.4h-2.4zM40.8 61h2.4v2.4h-2.4z"/>
<path fill="#bddf26" d="M43.1 1h2.4v2.4h-2.4zM43.1 6.3h2.4v2.4h-2.4zM46.6 8.4h2.4v2.4h-2.4zM44.8 10.2h2.4v2.4h-2.4zM42.8 12.1h2.4v2.4h-2.4zM42.9 19.7h2.4v2.4h-2.4zM50.6 25.2h2.4v2.4h-2.4zM46.5 53.4h2.4v2.4h-2.4zM44.8 57.1h2.4v2.4h-2.4zM48.6 64.6h2.4v2.4h-2.4z"/>
<path fill="#c0df25" d="M46.7 6.4h2.4v2.4h-2.4zM48.4 8.3h2.4v2.4h-2.4zM52.5 10h2.4v2.4h-2.4zM44.9 23.4h2.4v2.4h-2.4zM50.3 27.2h2.4v2.4h-2.4zM43 34.5h2.4v2.4h-2.4zM48.4 38.5h2.4v2.4h-2.4zM43 40.1h2.4v2.4h-2.4zM46.6 42.2h2.4v2.4h-2.4zM43 43.9h2.4v2.4h-2.4zM44.8 44h2.4v2.4h-2.4zM63.7 76h2.4v2.4h-2.4z"/>
<path fill="#c2df23" d="M48.7 -1.1h2.4v2.4h-2.4zM44.7 6.6h2.4v2.4h-2.4zM44.9 12h2.4v2.4h-2.4zM44.9 15.8h2.4v2.4h-2.4zM46.5 17.5h2.4v2.4h-2.4zM44.9 25.1h2.4v2.4h-2.4zM46.5 40.1h2.4v2.4h-2.4zM44.8 47.6h2.4v2.4h-2.4zM44.6 53.2h2.4v2.4h-2.4zM50.4 68.3h2.4v2.4h-2.4zM57.8 68.3h2.4v2.4h-2.4zM54.2 72h2.4v2.4h-2.4zM62 72.1h2.4v2.4h-2.4z"/>
<path fill="#c5e021" d="M46.6 -1.2h2.4v2.4h-2.4zM44.6 2.6h2.4v2.4h-2.4zM56.2 2.5h2.4v2.4h-2.4zM50.6 21.2h2.4v2.4h-2.4zM46.8 25.2h2.4v2.4h-2.4zM50.3 36.4h2.4v2.4h-2.4zM42.8 42.2h2.4v2.4h-2.4zM46.5 55.1h2.4v2.4h-2.4zM48.4 60.7h2.4v2.4h-2.4zM48.3 62.8h2.4v2.4h-2.4zM50.6 62.6h2.4v2.4h-2.4zM64.2 68.3h2.4v2.4h-2.4zM67.6 69.9h2.4v2.4h-2.4zM64.9 73.3h2.4v2.4h-2.4z"/>
<path fill="#c8e020" d="M46.9 4.7h2.4v2.4h-2.4zM44.8 8.1h2.4v2.4h-2.4zM52.4 8.2h2.4v2.4h-2.4zM48.7 12h2.4v2.4h-2.4zM46.7 15.7h2.4v2.4h-2.4zM44.6 17.5h2.4v2.4h-2.4zM45 21.5h2.4v2.4h-2.4zM46.7 21.2h2.4v2.4h-2.4zM48.6 25.2h2.4v2.4h-2.4zM57.8 25h2.4v2.4h-2.4zM46.5 27h2.4v2.4h-2.4zM46.5 28.9h2.4v2.4h-2.4zM46.7 36.5h2.4v2.4h-2.4zM46.8 44h2.4v2.4h-2.4zM46.6 47.7h2.4v2.4h-2.4zM46.8 49.6h2.4v2.4h-2.4zM48.3 51.3h2.4v2.4h-2.4zM50.4 57h2.4v2.4h-2.4zM45 62.7h2.4v2.4h-2.4z"/>
<path fill="#cae11f" d="M44.8 -1.1h2.4v2.4h-2.4zM54.3 0.6h2.4v2.4h-2.4zM50.4 4.4h2.4v2.4h-2.4zM52.5 12h2.4v2.4h-2.4zM44.7 13.8h2.4v2.4h-2.4zM50.5 15.6h2.4v2.4h-2.4zM52.5 21.4h2.4v2.4h-2.4zM48.7 27.1h2.4v2.4h-2.4zM52.3 28.7h2.4v2.4h-2.4zM48.7 30.7h2.4v2.4h-2.4zM50.4 30.7h2.4v2.4h-2.4zM48.4 43.9h2.4v2.4h-2.4zM50.2 55.2h2.4v2.4h-2.4zM48.4 57.2h2.4v2.4h-2.4zM69 66.4h2.4v2.4h-2.4zM58.2 72.3h2.4v2.4h-2.4zM58 73.4h2.4v2.4h-2.4z"/>
<path fill="#cde11d" d="M43 -1.2h2.4v2.4h-2.4zM52.3 0.8h2.4v2.4h-2.4zM46.6 2.7h2.4v2.4h-2.4zM46.5 11.9h2.4v2.4h-2.4zM48.6 15.9h2.4v2.4h-2.4zM52.5 15.9h2.4v2.4h-2.4zM48.3 23.3h2.4v2.4h-2.4zM54 34.4h2.4v2.4h-2.4zM48.6 40.1h2.4v2.4h-2.4zM56.2 42.2h2.4v2.4h-2.4zM52.4 49.7h2.4v2.4h-2.4zM48.7 53.2h2.4v2.4h-2.4zM48.7 55.4h2.4v2.4h-2.4zM52.4 57h2.4v2.4h-2.4zM48.6 58.8h2.4v2.4h-2.4zM50.5 64.6h2.4v2.4h-2.4zM52.4 64.4h2.4v2.4h-2.4zM50.5 66.3h2.4v2.4h-2.4z"/>
<path fill="#d0e11c" d="M46.8 10.1h2.4v2.4h-2.4zM50.6 10h2.4v2.4h-2.4zM46.8 14.1h2.4v2.4h-2.4zM55.9 14h2.4v2.4h-2.4zM44.6 27.2h2.4v2.4h-2.4zM52.3 30.6h2.4v2.4h-2.4zM44.8 32.6h2.4v2.4h-2.4zM44.7 34.5h2.4v2.4h-2.4zM48.5 36.3h2.4v2.4h-2.4zM44.7 38.5h2.4v2.4h-2.4zM54.1 38.3h2.4v2.4h-2.4zM56 38.2h2.4v2.4h-2.4zM48.3 45.6h2.4v2.4h-2.4zM50.3 47.6h2.4v2.4h-2.4zM44.6 49.7h2.4v2.4h-2.4zM48.5 49.7h2.4v2.4h-2.4zM50.3 51.4h2.4v2.4h-2.4zM58 55.2h2.4v2.4h-2.4zM50.4 59.1h2.4v2.4h-2.4zM50.2 60.6h2.4v2.4h-2.4zM54.1 64.5h2.4v2.4h-2.4zM52.2 66.5h2.4v2.4h-2.4zM56.2 71.9h2.4v2.4h-2.4zM59.6 74h2.4v2.4h-2.4z"/>
<path fill="#d2e21b" d="M52.3 -1.1h2.4v2.4h-2.4zM56 6.5h2.4v2.4h-2.4zM92 10.3h2.4v2.4h-2.4zM54.2 15.9h2.4v2.4h-2.4zM52.2 17.6h2.4v2.4h-2.4zM46.4 19.5h2.4v2.4h-2.4zM48.7 21.6h2.4v2.4h-2.4zM52.2 25.3h2.4v2.4h-2.4zM59.7 25.2h2.4v2.4h-2.4zM52.4 27h2.4v2.4h-2.4zM54.2 26.9h2.4v2.4h-2.4zM54.2 28.8h2.4v2.4h-2.4zM56.1 32.7h2.4v2.4h-2.4zM52.5 38.3h2.4v2.4h-2.4zM52.3 42.1h2.4v2.4h-2.4zM61.5 42h2.4v2.4h-2.4zM46.5 45.8h2.4v2.4h-2.4zM48.3 47.7h2.4v2.4h-2.4zM50.3 49.4h2.4v2.4h-2.4zM50.6 53.1h2.4v2.4h-2.4zM54.3 59h2.4v2.4h-2.4zM55.9 62.9h2.4v2.4h-2.4zM54.4 70.2h2.4v2.4h-2.4zM55.9 70.1h2.4v2.4h-2.4z"/>
<path fill="#d5e21a" d="M50.6 0.8h2.4v2.4h-2.4zM48.7 2.7h2.4v2.4h-2.4zM48.3 4.4h2.4v2.4h-2.4zM48.5 19.7h2.4v2.4h-2.4zM57.9 21.5h2.4v2.4h-2.4zM56 25.3h2.4v2.4h-2.4zM50.5 29.1h2.4v2.4h-2.4zM46.9 30.8h2.4v2.4h-2.4zM55.9 30.7h2.4v2.4h-2.4zM48.4 34.7h2.4v2.4h-2.4zM65.4 38.3h2.4v2.4h-2.4zM69.1 42.2h2.4v2.4h-2.4zM50.3 43.9h2.4v2.4h-2.4zM56.1 44.1h2.4v2.4h-2.4zM58.1 45.9h2.4v2.4h-2.4zM61.8 47.8h2.4v2.4h-2.4zM46.5 59.1h2.4v2.4h-2.4zM58.1 62.7h2.4v2.4h-2.4zM64.2 70.3h2.4v2.4h-2.4zM63.1 73.7h2.4v2.4h-2.4z"/>
<path fill="#d8e219" d="M48.5 1h2.4v2.4h-2.4zM129.3 3.1h2.4v2.4h-2.4zM52.3 6.6h2.4v2.4h-2.4zM63.6 8.3h2.4v2.4h-2.4zM48.5 10.2h2.4v2.4h-2.4zM54.2 10.1h2.4v2.4h-2.4zM58.1 10.4h2.4v2.4h-2.4zM56.1 12h2.4v2.4h-2.4zM48.4 17.5h2.4v2.4h-2.4zM56 17.8h2.4v2.4h-2.4zM57.9 17.8h2.4v2.4h-2.4zM101.3 20.1h2.4v2.4h-2.4zM59.8 21.4h2.4v2.4h-2.4zM54.2 25.2h2.4v2.4h-2.4zM65.5 27h2.4v2.4h-2.4zM61.6 29.1h2.4v2.4h-2.4zM50.6 32.7h2.4v2.4h-2.4zM63.8 32.6h2.4v2.4h-2.4zM80.3 32.5h2.4v2.4h-2.4zM69.3 34.4h2.4v2.4h-2.4zM74.7 34.4h2.4v2.4h-2.4zM55.9 36.3h2.4v2.4h-2.4zM86.2 39.8h2.4v2.4h-2.4zM52.2 45.7h2.4v2.4h-2.4zM65.5 49.7h2.4v2.4h-2.4zM52.1 51.2h2.4v2.4h-2.4zM59.7 51.3h2.4v2.4h-2.4zM61.7 53.4h2.4v2.4h-2.4zM71.6 59.1h2.4v2.4h-2.4zM55.9 68.4h2.4v2.4h-2.4zM59.6 68.3h2.4v2.4h-2.4zM61.4 73.9h2.4v2.4h-2.4z"/>
<path fill="#dae319" d="M50.5 -1.1h2.4v2.4h-2.4zM132.8 -1.5h2.4v2.4h-2.4zM110.9 0.5h2.4v2.4h-2.4zM52.3 4.5h2.4v2.4h-2.4zM61.8 4.5h2.4v2.4h-2.4zM63.5 4.4h2.4v2.4h-2.4zM48.7 6.3h2.4v2.4h-2.4zM50.4 6.4h2.4v2.4h-2.4zM50.6 8.5h2.4v2.4h-2.4zM56.2 8.1h2.4v2.4h-2.4zM61.6 8.4h2.4v2.4h-2.4zM59.8 12.2h2.4v2.4h-2.4zM89.9 12.1h2.4v2.4h-2.4zM87.9 15.7h2.4v2.4h-2.4zM80.6 17.8h2.4v2.4h-2.4zM52.3 19.7h2.4v2.4h-2.4zM54 21.4h2.4v2.4h-2.4zM61.9 25.3h2.4v2.4h-2.4zM84.4 27.1h2.4v2.4h-2.4zM69.1 29.1h2.4v2.4h-2.4zM82.5 28.9h2.4v2.4h-2.4zM54.2 32.6h2.4v2.4h-2.4zM57.8 36.4h2.4v2.4h-2.4zM50.4 40h2.4v2.4h-2.4zM50.3 42.2h2.4v2.4h-2.4zM54.2 42h2.4v2.4h-2.4zM63.5 42.2h2.4v2.4h-2.4zM81.9 45.2h2.4v2.4h-2.4zM52.4 53.2h2.4v2.4h-2.4zM54.3 55h2.4v2.4h-2.4zM63.5 59.1h2.4v2.4h-2.4zM65.3 58.9h2.4v2.4h-2.4zM54.2 60.9h2.4v2.4h-2.4zM72.4 62.6h2.4v2.4h-2.4zM61.6 64.4h2.4v2.4h-2.4zM56 66.6h2.4v2.4h-2.4zM61 68h2.4v2.4h-2.4zM65.8 70.8h2.4v2.4h-2.4z"/>
<path fill="#dde318" d="M50.6 2.6h2.4v2.4h-2.4zM54.2 2.9h2.4v2.4h-2.4zM60 2.5h2.4v2.4h-2.4zM84.3 2.5h2.4v2.4h-2.4zM89.8 2.5h2.4v2.4h-2.4zM70.9 4.4h2.4v2.4h-2.4zM82.3 4.6h2.4v2.4h-2.4zM54.4 6.4h2.4v2.4h-2.4zM84.3 6.3h2.4v2.4h-2.4zM59.6 8.3h2.4v2.4h-2.4zM100.8 8.2h2.4v2.4h-2.4zM61.6 12h2.4v2.4h-2.4zM99.1 12.6h2.4v2.4h-2.4zM50.5 13.7h2.4v2.4h-2.4zM89.9 13.9h2.4v2.4h-2.4zM67.5 15.6h2.4v2.4h-2.4zM98.8 16.1h2.4v2.4h-2.4zM88 19.6h2.4v2.4h-2.4zM55.8 21.4h2.4v2.4h-2.4zM80.6 25h2.4v2.4h-2.4zM78.8 27.2h2.4v2.4h-2.4zM67.5 28.8h2.4v2.4h-2.4zM65.4 30.9h2.4v2.4h-2.4zM52.4 32.7h2.4v2.4h-2.4zM67.2 32.7h2.4v2.4h-2.4zM74.9 32.6h2.4v2.4h-2.4zM52.5 34.5h2.4v2.4h-2.4zM56.2 34.5h2.4v2.4h-2.4zM63.7 34.6h2.4v2.4h-2.4zM52.1 40.3h2.4v2.4h-2.4zM70.9 40h2.4v2.4h-2.4zM48.5 42.1h2.4v2.4h-2.4zM71.3 42h2.4v2.4h-2.4zM54.1 45.6h2.4v2.4h-2.4zM52.2 47.5h2.4v2.4h-2.4zM56.2 49.4h2.4v2.4h-2.4zM69.3 51.4h2.4v2.4h-2.4zM76.3 51.7h2.4v2.4h-2.4zM77.8 53.3h2.4v2.4h-2.4zM77.1 56.7h2.4v2.4h-2.4zM52.2 58.8h2.4v2.4h-2.4zM56 59h2.4v2.4h-2.4zM58 58.9h2.4v2.4h-2.4zM79.1 59.4h2.4v2.4h-2.4zM69.6 65h2.4v2.4h-2.4zM57.8 70.1h2.4v2.4h-2.4z"/>
<path fill="#dfe318" d="M59.6 -1h2.4v2.4h-2.4zM93.4 -1.2h2.4v2.4h-2.4zM65.6 0.7h2.4v2.4h-2.4zM100.5 1.1h2.4v2.4h-2.4zM105 3.3h2.4v2.4h-2.4zM54.2 4.7h2.4v2.4h-2.4zM69.2 4.6h2.4v2.4h-2.4zM110.9 4.9h2.4v2.4h-2.4zM86.3 6.4h2.4v2.4h-2.4zM54.1 8.4h2.4v2.4h-2.4zM72.8 8.1h2.4v2.4h-2.4zM82.4 8.3h2.4v2.4h-2.4zM54 14.1h2.4v2.4h-2.4zM67.4 17.9h2.4v2.4h-2.4zM95.3 19h2.4v2.4h-2.4zM111.8 19.3h2.4v2.4h-2.4zM74.8 21.3h2.4v2.4h-2.4zM88.2 21h2.4v2.4h-2.4zM58 23.4h2.4v2.4h-2.4zM61.5 23.5h2.4v2.4h-2.4zM76.9 23.3h2.4v2.4h-2.4zM74.8 25h2.4v2.4h-2.4zM87.8 25.8h2.4v2.4h-2.4zM93.3 24.5h2.4v2.4h-2.4zM65.5 29h2.4v2.4h-2.4zM93.2 29.3h2.4v2.4h-2.4zM61.8 30.7h2.4v2.4h-2.4zM69.1 30.8h2.4v2.4h-2.4zM89.6 30.9h2.4v2.4h-2.4zM86.1 32.2h2.4v2.4h-2.4zM50.5 34.5h2.4v2.4h-2.4zM98.9 34h2.4v2.4h-2.4zM54.1 36.2h2.4v2.4h-2.4zM65.5 36.5h2.4v2.4h-2.4zM69.1 36.6h2.4v2.4h-2.4zM82 36.7h2.4v2.4h-2.4zM50.5 38.4h2.4v2.4h-2.4zM67.4 38.4h2.4v2.4h-2.4zM59.9 40.1h2.4v2.4h-2.4zM73.1 42.1h2.4v2.4h-2.4zM57.9 43.9h2.4v2.4h-2.4zM61.6 45.9h2.4v2.4h-2.4zM74.7 45.6h2.4v2.4h-2.4zM54.1 47.8h2.4v2.4h-2.4zM54.1 49.6h2.4v2.4h-2.4zM59.7 55h2.4v2.4h-2.4zM75.2 54.8h2.4v2.4h-2.4zM60 56.9h2.4v2.4h-2.4zM67.1 62.2h2.4v2.4h-2.4zM63.4 64.6h2.4v2.4h-2.4zM59.8 66.2h2.4v2.4h-2.4zM63.7 71.5h2.4v2.4h-2.4z"/>
<path fill="#e2e418" d="M54 -1.1h2.4v2.4h-2.4zM61.8 -1h2.4v2.4h-2.4zM99.6 -1.5h2.4v2.4h-2.4zM78.7 2.9h2.4v2.4h-2.4zM117.9 3h2.4v2.4h-2.4zM63.7 6.6h2.4v2.4h-2.4zM65.5 10.3h2.4v2.4h-2.4zM50.3 11.9h2.4v2.4h-2.4zM67.3 12h2.4v2.4h-2.4zM104.9 11.9h2.4v2.4h-2.4zM61.8 14h2.4v2.4h-2.4zM63.6 14h2.4v2.4h-2.4zM65.5 13.9h2.4v2.4h-2.4zM73.1 13.8h2.4v2.4h-2.4zM80.5 14h2.4v2.4h-2.4zM63.6 15.8h2.4v2.4h-2.4zM100.8 15.7h2.4v2.4h-2.4zM76.6 17.5h2.4v2.4h-2.4zM89.7 17.8h2.4v2.4h-2.4zM50.4 19.4h2.4v2.4h-2.4zM84.3 19.6h2.4v2.4h-2.4zM56.2 23.5h2.4v2.4h-2.4zM78.5 23.1h2.4v2.4h-2.4zM87.9 22.8h2.4v2.4h-2.4zM107 23.7h2.4v2.4h-2.4zM65.4 25.3h2.4v2.4h-2.4zM90.1 24.7h2.4v2.4h-2.4zM58.1 27.1h2.4v2.4h-2.4zM82.3 27h2.4v2.4h-2.4zM63.7 29h2.4v2.4h-2.4zM80.4 28.9h2.4v2.4h-2.4zM82.7 30.6h2.4v2.4h-2.4zM84.6 30.1h2.4v2.4h-2.4zM69 32.5h2.4v2.4h-2.4zM78.7 34.4h2.4v2.4h-2.4zM54.3 40.1h2.4v2.4h-2.4zM57.8 40.1h2.4v2.4h-2.4zM82 42.5h2.4v2.4h-2.4zM76.5 45.6h2.4v2.4h-2.4zM78.3 48.1h2.4v2.4h-2.4zM69.1 49.6h2.4v2.4h-2.4zM61.6 51.4h2.4v2.4h-2.4zM59.7 53.4h2.4v2.4h-2.4zM77.2 53.3h2.4v2.4h-2.4zM56.1 57.2h2.4v2.4h-2.4zM71.2 57h2.4v2.4h-2.4zM59.7 60.9h2.4v2.4h-2.4zM54.2 62.5h2.4v2.4h-2.4zM65.3 62.5h2.4v2.4h-2.4zM58 64.7h2.4v2.4h-2.4zM59.7 64.5h2.4v2.4h-2.4zM57.9 66.4h2.4v2.4h-2.4z"/>
<path fill="#e5e419" d="M57.9 -1.1h2.4v2.4h-2.4zM65.4 -1.2h2.4v2.4h-2.4zM78.5 -1.1h2.4v2.4h-2.4zM84.1 -1.3h2.4v2.4h-2.4zM110.2 -1.2h2.4v2.4h-2.4zM59.6 0.8h2.4v2.4h-2.4zM61.8 1h2.4v2.4h-2.4zM82.3 0.6h2.4v2.4h-2.4zM89.7 0.9h2.4v2.4h-2.4zM97.1 0.3h2.4v2.4h-2.4zM52.4 2.7h2.4v2.4h-2.4zM58 2.5h2.4v2.4h-2.4zM72.8 2.8h2.4v2.4h-2.4zM55.8 4.5h2.4v2.4h-2.4zM59.8 4.5h2.4v2.4h-2.4zM86.3 4.4h2.4v2.4h-2.4zM95.4 4.2h2.4v2.4h-2.4zM107 4.9h2.4v2.4h-2.4zM59.7 6.6h2.4v2.4h-2.4zM61.8 6.4h2.4v2.4h-2.4zM78.5 6.2h2.4v2.4h-2.4zM87.9 6.3h2.4v2.4h-2.4zM84.4 8.3h2.4v2.4h-2.4zM59.8 10.3h2.4v2.4h-2.4zM80.4 10.3h2.4v2.4h-2.4zM95.9 9.8h2.4v2.4h-2.4zM107.3 10.5h2.4v2.4h-2.4zM95.5 12.1h2.4v2.4h-2.4zM97.6 12.2h2.4v2.4h-2.4zM60 13.9h2.4v2.4h-2.4zM69.1 14.1h2.4v2.4h-2.4zM105.4 13.6h2.4v2.4h-2.4zM56.2 16h2.4v2.4h-2.4zM65.2 15.8h2.4v2.4h-2.4zM69.3 15.9h2.4v2.4h-2.4zM104.7 16.2h2.4v2.4h-2.4zM63.6 17.7h2.4v2.4h-2.4zM103.2 17.7h2.4v2.4h-2.4zM90.3 20.2h2.4v2.4h-2.4zM97.8 20h2.4v2.4h-2.4zM61.6 21.6h2.4v2.4h-2.4zM50.6 23.3h2.4v2.4h-2.4zM86.2 23.4h2.4v2.4h-2.4zM102.7 23.7h2.4v2.4h-2.4zM56 27.2h2.4v2.4h-2.4zM63.8 27.1h2.4v2.4h-2.4zM70.9 27.2h2.4v2.4h-2.4zM93.3 26.8h2.4v2.4h-2.4zM103.4 26.7h2.4v2.4h-2.4zM57.8 28.7h2.4v2.4h-2.4zM76.7 29.1h2.4v2.4h-2.4zM86.3 28.7h2.4v2.4h-2.4zM76.8 30.7h2.4v2.4h-2.4zM73 32.5h2.4v2.4h-2.4zM46.7 34.4h2.4v2.4h-2.4zM58 34.6h2.4v2.4h-2.4zM101.8 34.5h2.4v2.4h-2.4zM87.8 38.7h2.4v2.4h-2.4zM80.1 40.3h2.4v2.4h-2.4zM57.9 42.1h2.4v2.4h-2.4zM56.1 45.8h2.4v2.4h-2.4zM67.3 45.9h2.4v2.4h-2.4zM73.1 45.9h2.4v2.4h-2.4zM80.1 45.9h2.4v2.4h-2.4zM67.2 47.6h2.4v2.4h-2.4zM69.1 47.7h2.4v2.4h-2.4zM86.2 47.7h2.4v2.4h-2.4zM56 53.4h2.4v2.4h-2.4zM57.9 53.4h2.4v2.4h-2.4zM67.2 55.1h2.4v2.4h-2.4zM69.3 57h2.4v2.4h-2.4zM52.2 60.7h2.4v2.4h-2.4zM56 60.6h2.4v2.4h-2.4zM63.7 60.8h2.4v2.4h-2.4zM65.6 60.9h2.4v2.4h-2.4zM61.6 66.5h2.4v2.4h-2.4zM59.7 69.8h2.4v2.4h-2.4z"/>
<path fill="#e7e419" d="M95.6 -1.1h2.4v2.4h-2.4zM112 -1.3h2.4v2.4h-2.4zM63.4 0.8h2.4v2.4h-2.4zM67.5 0.7h2.4v2.4h-2.4zM74.8 0.6h2.4v2.4h-2.4zM78.7 0.7h2.4v2.4h-2.4zM99.2 1.2h2.4v2.4h-2.4zM103.4 0.1h2.4v2.4h-2.4zM106.7 0.5h2.4v2.4h-2.4zM91.6 2.7h2.4v2.4h-2.4zM65.4 4.5h2.4v2.4h-2.4zM78.6 4.6h2.4v2.4h-2.4zM91.9 4.6h2.4v2.4h-2.4zM103 5h2.4v2.4h-2.4zM65.4 6.3h2.4v2.4h-2.4zM71.1 6.4h2.4v2.4h-2.4zM82.3 6.5h2.4v2.4h-2.4zM97.9 6.8h2.4v2.4h-2.4zM98.9 6.3h2.4v2.4h-2.4zM103 6h2.4v2.4h-2.4zM105.6 6.3h2.4v2.4h-2.4zM78.5 8.4h2.4v2.4h-2.4zM67.5 10.2h2.4v2.4h-2.4zM91.8 12h2.4v2.4h-2.4zM57.7 13.9h2.4v2.4h-2.4zM82.5 14h2.4v2.4h-2.4zM92.4 14.5h2.4v2.4h-2.4zM102.9 13.8h2.4v2.4h-2.4zM82.4 17.8h2.4v2.4h-2.4zM85.9 17.8h2.4v2.4h-2.4zM59.6 19.4h2.4v2.4h-2.4zM76.8 21.4h2.4v2.4h-2.4zM78.4 21.5h2.4v2.4h-2.4zM80.6 21.4h2.4v2.4h-2.4zM103.3 21.7h2.4v2.4h-2.4zM52.3 23.1h2.4v2.4h-2.4zM54.1 23.4h2.4v2.4h-2.4zM93.4 23.4h2.4v2.4h-2.4zM63.6 25.3h2.4v2.4h-2.4zM67.1 25.1h2.4v2.4h-2.4zM69.2 25h2.4v2.4h-2.4zM91.9 25h2.4v2.4h-2.4zM95.6 25.5h2.4v2.4h-2.4zM60 27.1h2.4v2.4h-2.4zM67.4 27h2.4v2.4h-2.4zM69.4 26.9h2.4v2.4h-2.4zM89.5 27.7h2.4v2.4h-2.4zM59.8 28.9h2.4v2.4h-2.4zM84.6 28.4h2.4v2.4h-2.4zM63.7 30.7h2.4v2.4h-2.4zM73.1 30.6h2.4v2.4h-2.4zM48.5 32.5h2.4v2.4h-2.4zM57.8 32.5h2.4v2.4h-2.4zM59.9 34.6h2.4v2.4h-2.4zM65.6 34.3h2.4v2.4h-2.4zM52.2 36.4h2.4v2.4h-2.4zM92.3 36.2h2.4v2.4h-2.4zM61.6 38.4h2.4v2.4h-2.4zM70.9 38.4h2.4v2.4h-2.4zM86.8 38h2.4v2.4h-2.4zM55.9 40.4h2.4v2.4h-2.4zM65.3 40.2h2.4v2.4h-2.4zM65.3 41.9h2.4v2.4h-2.4zM76.9 42.2h2.4v2.4h-2.4zM78.3 41.9h2.4v2.4h-2.4zM85.9 42.5h2.4v2.4h-2.4zM59.8 44h2.4v2.4h-2.4zM67.2 43.9h2.4v2.4h-2.4zM63.6 45.7h2.4v2.4h-2.4zM56 47.5h2.4v2.4h-2.4zM75 47.5h2.4v2.4h-2.4zM78.8 50.3h2.4v2.4h-2.4zM54 51.3h2.4v2.4h-2.4zM63.7 51.3h2.4v2.4h-2.4zM71.1 53.4h2.4v2.4h-2.4zM63.6 55.2h2.4v2.4h-2.4zM65.5 55.1h2.4v2.4h-2.4zM61.5 56.9h2.4v2.4h-2.4zM75 56.9h2.4v2.4h-2.4zM61.8 62.9h2.4v2.4h-2.4zM63.5 62.7h2.4v2.4h-2.4z"/>
<path fill="#eae51a" d="M56 -1h2.4v2.4h-2.4zM75 -1.3h2.4v2.4h-2.4zM87.9 -1.1h2.4v2.4h-2.4zM107.1 -0.6h2.4v2.4h-2.4zM58.1 0.9h2.4v2.4h-2.4zM70.9 0.9h2.4v2.4h-2.4zM93.8 0.6h2.4v2.4h-2.4zM112.4 0.7h2.4v2.4h-2.4zM132.5 1.4h2.4v2.4h-2.4zM61.7 2.8h2.4v2.4h-2.4zM69.1 2.7h2.4v2.4h-2.4zM80.5 2.5h2.4v2.4h-2.4zM82.3 2.7h2.4v2.4h-2.4zM93.6 2.8h2.4v2.4h-2.4zM100.9 2.1h2.4v2.4h-2.4zM111.7 2.8h2.4v2.4h-2.4zM116.1 2.2h2.4v2.4h-2.4zM58.1 4.4h2.4v2.4h-2.4zM67.2 4.7h2.4v2.4h-2.4zM73 4.5h2.4v2.4h-2.4zM104.8 4.2h2.4v2.4h-2.4zM80.5 6.6h2.4v2.4h-2.4zM89.9 6.2h2.4v2.4h-2.4zM93.5 6.4h2.4v2.4h-2.4zM74.7 8.1h2.4v2.4h-2.4zM88.1 8.3h2.4v2.4h-2.4zM99.4 8.3h2.4v2.4h-2.4zM103.1 10.3h2.4v2.4h-2.4zM54.2 12h2.4v2.4h-2.4zM57.8 11.9h2.4v2.4h-2.4zM71.1 12.1h2.4v2.4h-2.4zM80.7 12.2h2.4v2.4h-2.4zM87.9 12h2.4v2.4h-2.4zM118.5 12.5h2.4v2.4h-2.4zM52.2 14.1h2.4v2.4h-2.4zM67.2 13.9h2.4v2.4h-2.4zM76.9 13.9h2.4v2.4h-2.4zM95.4 14.1h2.4v2.4h-2.4zM61.7 15.8h2.4v2.4h-2.4zM86.2 15.7h2.4v2.4h-2.4zM54.2 17.7h2.4v2.4h-2.4zM60 17.7h2.4v2.4h-2.4zM69.1 17.5h2.4v2.4h-2.4zM99.3 18.1h2.4v2.4h-2.4zM54.1 19.4h2.4v2.4h-2.4zM56.2 19.5h2.4v2.4h-2.4zM69.2 19.7h2.4v2.4h-2.4zM82.2 19.7h2.4v2.4h-2.4zM73.1 21.3h2.4v2.4h-2.4zM86.2 21.4h2.4v2.4h-2.4zM89.7 21.8h2.4v2.4h-2.4zM59.7 23.2h2.4v2.4h-2.4zM65.3 23.2h2.4v2.4h-2.4zM71 23.4h2.4v2.4h-2.4zM71 25.3h2.4v2.4h-2.4zM106.6 25.3h2.4v2.4h-2.4zM61.8 26.9h2.4v2.4h-2.4zM80.5 27h2.4v2.4h-2.4zM96.7 29.2h2.4v2.4h-2.4zM99.9 29.4h2.4v2.4h-2.4zM74.7 31h2.4v2.4h-2.4zM61.8 34.7h2.4v2.4h-2.4zM67.1 34.7h2.4v2.4h-2.4zM80.1 34.5h2.4v2.4h-2.4zM67.2 36.2h2.4v2.4h-2.4zM81.9 38.3h2.4v2.4h-2.4zM89.8 38.5h2.4v2.4h-2.4zM69 40.2h2.4v2.4h-2.4zM54.3 43.9h2.4v2.4h-2.4zM63.4 43.9h2.4v2.4h-2.4zM75 43.9h2.4v2.4h-2.4zM78.8 43.8h2.4v2.4h-2.4zM80.4 43.2h2.4v2.4h-2.4zM69.2 46h2.4v2.4h-2.4zM63.8 49.6h2.4v2.4h-2.4zM71 49.4h2.4v2.4h-2.4zM76.3 49.5h2.4v2.4h-2.4zM56.1 51.6h2.4v2.4h-2.4zM58.1 51.3h2.4v2.4h-2.4zM78.9 51.2h2.4v2.4h-2.4zM54.1 53.5h2.4v2.4h-2.4zM63.5 53.4h2.4v2.4h-2.4zM67.2 53.5h2.4v2.4h-2.4zM56.1 55.1h2.4v2.4h-2.4zM76.5 54.9h2.4v2.4h-2.4zM61.8 58.9h2.4v2.4h-2.4zM73.5 60.3h2.4v2.4h-2.4zM59.9 62.9h2.4v2.4h-2.4zM65.9 64.8h2.4v2.4h-2.4zM72.8 64.5h2.4v2.4h-2.4zM63.3 66.1h2.4v2.4h-2.4z"/>
<path fill="#ece51b" d="M82.3 -1.3h2.4v2.4h-2.4zM89.8 -1h2.4v2.4h-2.4zM114.6 -0.8h2.4v2.4h-2.4zM69.1 0.7h2.4v2.4h-2.4zM105.1 0.6h2.4v2.4h-2.4zM116 0.3h2.4v2.4h-2.4zM67.2 2.8h2.4v2.4h-2.4zM74.8 2.6h2.4v2.4h-2.4zM86.3 2.5h2.4v2.4h-2.4zM88.2 2.8h2.4v2.4h-2.4zM95.4 2.4h2.4v2.4h-2.4zM99 3.3h2.4v2.4h-2.4zM76.5 4.6h2.4v2.4h-2.4zM76.7 6.5h2.4v2.4h-2.4zM65.6 8.2h2.4v2.4h-2.4zM76.9 8.4h2.4v2.4h-2.4zM93.5 8.2h2.4v2.4h-2.4zM95.7 7.6h2.4v2.4h-2.4zM61.5 10.1h2.4v2.4h-2.4zM69.1 10.1h2.4v2.4h-2.4zM84.2 10.1h2.4v2.4h-2.4zM86.3 10.3h2.4v2.4h-2.4zM93.9 10.4h2.4v2.4h-2.4zM82.3 12h2.4v2.4h-2.4zM70.9 13.8h2.4v2.4h-2.4zM107.1 14h2.4v2.4h-2.4zM78.6 15.9h2.4v2.4h-2.4zM82.2 15.8h2.4v2.4h-2.4zM93.9 15.9h2.4v2.4h-2.4zM65.5 17.7h2.4v2.4h-2.4zM72.8 17.7h2.4v2.4h-2.4zM88 17.8h2.4v2.4h-2.4zM63.8 19.7h2.4v2.4h-2.4zM71.2 19.6h2.4v2.4h-2.4zM74.9 19.6h2.4v2.4h-2.4zM84.3 21.3h2.4v2.4h-2.4zM67.5 23.2h2.4v2.4h-2.4zM72.8 23.2h2.4v2.4h-2.4zM74.9 23.2h2.4v2.4h-2.4zM80.7 23.3h2.4v2.4h-2.4zM90.4 23.1h2.4v2.4h-2.4zM97.5 23.7h2.4v2.4h-2.4zM84.3 25.3h2.4v2.4h-2.4zM108.2 24.9h2.4v2.4h-2.4zM91.1 27.4h2.4v2.4h-2.4zM75 28.8h2.4v2.4h-2.4zM88.4 29.5h2.4v2.4h-2.4zM54.2 30.6h2.4v2.4h-2.4zM67.1 30.9h2.4v2.4h-2.4zM91.5 31.3h2.4v2.4h-2.4zM61.8 32.8h2.4v2.4h-2.4zM88.1 32.6h2.4v2.4h-2.4zM82 34.9h2.4v2.4h-2.4zM58.1 38.2h2.4v2.4h-2.4zM76.8 38.1h2.4v2.4h-2.4zM63.6 40.1h2.4v2.4h-2.4zM89.4 40h2.4v2.4h-2.4zM60 41.9h2.4v2.4h-2.4zM80.8 41.5h2.4v2.4h-2.4zM69.2 44.1h2.4v2.4h-2.4zM71.1 43.9h2.4v2.4h-2.4zM76.9 44h2.4v2.4h-2.4zM84.1 44.7h2.4v2.4h-2.4zM50.5 45.6h2.4v2.4h-2.4zM57.9 47.7h2.4v2.4h-2.4zM59.7 47.7h2.4v2.4h-2.4zM58 49.7h2.4v2.4h-2.4zM59.7 49.7h2.4v2.4h-2.4zM74.9 49.7h2.4v2.4h-2.4zM61.8 55h2.4v2.4h-2.4zM80.9 55.1h2.4v2.4h-2.4zM66.8 64.9h2.4v2.4h-2.4zM67.6 66.3h2.4v2.4h-2.4zM67.8 68.9h2.4v2.4h-2.4z"/>
<path fill="#efe51c" d="M125.2 -1.4h2.4v2.4h-2.4zM55.9 1h2.4v2.4h-2.4zM80.6 0.8h2.4v2.4h-2.4zM91.9 0.9h2.4v2.4h-2.4zM95.6 0.8h2.4v2.4h-2.4zM108.2 2.8h2.4v2.4h-2.4zM120 2.1h2.4v2.4h-2.4zM80.7 4.4h2.4v2.4h-2.4zM84.3 4.4h2.4v2.4h-2.4zM96.6 5.2h2.4v2.4h-2.4zM108.4 5.1h2.4v2.4h-2.4zM114.2 4h2.4v2.4h-2.4zM122 5.1h2.4v2.4h-2.4zM58.1 6.5h2.4v2.4h-2.4zM69.1 6.4h2.4v2.4h-2.4zM74.9 6.5h2.4v2.4h-2.4zM110.5 6.5h2.4v2.4h-2.4zM116.4 7h2.4v2.4h-2.4zM103.3 8.1h2.4v2.4h-2.4zM88 10.3h2.4v2.4h-2.4zM100.9 10.1h2.4v2.4h-2.4zM63.7 12h2.4v2.4h-2.4zM78.5 12.2h2.4v2.4h-2.4zM86.3 12.1h2.4v2.4h-2.4zM94 14.2h2.4v2.4h-2.4zM99.6 14.3h2.4v2.4h-2.4zM108.2 13.6h2.4v2.4h-2.4zM57.9 16h2.4v2.4h-2.4zM74.7 16h2.4v2.4h-2.4zM91.9 16.3h2.4v2.4h-2.4zM103.4 15.6h2.4v2.4h-2.4zM107.1 16.2h2.4v2.4h-2.4zM71.3 17.6h2.4v2.4h-2.4zM78.5 17.7h2.4v2.4h-2.4zM93.7 18.2h2.4v2.4h-2.4zM61.5 19.4h2.4v2.4h-2.4zM86 19.5h2.4v2.4h-2.4zM93.6 19.2h2.4v2.4h-2.4zM67.4 21.3h2.4v2.4h-2.4zM82.3 23.3h2.4v2.4h-2.4zM101.6 23.6h2.4v2.4h-2.4zM76.6 25h2.4v2.4h-2.4zM82.5 25.1h2.4v2.4h-2.4zM76.8 26.9h2.4v2.4h-2.4zM86.3 27.4h2.4v2.4h-2.4zM56.3 28.8h2.4v2.4h-2.4zM57.8 30.7h2.4v2.4h-2.4zM59.8 30.8h2.4v2.4h-2.4zM86.2 30.9h2.4v2.4h-2.4zM82.6 32.5h2.4v2.4h-2.4zM76.6 34.5h2.4v2.4h-2.4zM95.9 35h2.4v2.4h-2.4zM59.6 36.5h2.4v2.4h-2.4zM76.5 36.6h2.4v2.4h-2.4zM78.5 36.5h2.4v2.4h-2.4zM81.3 36.7h2.4v2.4h-2.4zM93.5 36.2h2.4v2.4h-2.4zM63.6 38.3h2.4v2.4h-2.4zM73.1 38.1h2.4v2.4h-2.4zM78.6 38.4h2.4v2.4h-2.4zM93.3 38.7h2.4v2.4h-2.4zM76.9 40.1h2.4v2.4h-2.4zM78.5 40.2h2.4v2.4h-2.4zM74.7 42.1h2.4v2.4h-2.4zM84.5 42.3h2.4v2.4h-2.4zM59.7 45.7h2.4v2.4h-2.4zM71.1 47.8h2.4v2.4h-2.4zM81.6 47.2h2.4v2.4h-2.4zM67.4 49.4h2.4v2.4h-2.4zM67.3 51.3h2.4v2.4h-2.4zM82.4 50.9h2.4v2.4h-2.4zM65.3 53.4h2.4v2.4h-2.4zM70.9 55.2h2.4v2.4h-2.4zM65.6 57.2h2.4v2.4h-2.4zM59.7 59h2.4v2.4h-2.4zM73 58.9h2.4v2.4h-2.4z"/>
<path fill="#f1e51d" d="M71.1 -0.9h2.4v2.4h-2.4zM73.1 0.8h2.4v2.4h-2.4zM123.7 0.3h2.4v2.4h-2.4zM114.4 2.7h2.4v2.4h-2.4zM123.4 2.7h2.4v2.4h-2.4zM88.2 4.5h2.4v2.4h-2.4zM89.8 4.5h2.4v2.4h-2.4zM72.9 6.4h2.4v2.4h-2.4zM80.5 8.2h2.4v2.4h-2.4zM116.6 8.1h2.4v2.4h-2.4zM63.4 10h2.4v2.4h-2.4zM72.9 10.2h2.4v2.4h-2.4zM76.7 10.1h2.4v2.4h-2.4zM108.8 9.6h2.4v2.4h-2.4zM84.1 12h2.4v2.4h-2.4zM101.7 11.4h2.4v2.4h-2.4zM84.3 13.9h2.4v2.4h-2.4zM60 15.8h2.4v2.4h-2.4zM89.8 15.7h2.4v2.4h-2.4zM95.5 18.1h2.4v2.4h-2.4zM110.4 18.1h2.4v2.4h-2.4zM99.4 20.1h2.4v2.4h-2.4zM91.7 20.8h2.4v2.4h-2.4zM99.7 21.7h2.4v2.4h-2.4zM106.6 21.8h2.4v2.4h-2.4zM109.1 21.2h2.4v2.4h-2.4zM86.5 24.6h2.4v2.4h-2.4zM78.4 29.1h2.4v2.4h-2.4zM102.8 30.5h2.4v2.4h-2.4zM60 32.6h2.4v2.4h-2.4zM65.7 32.7h2.4v2.4h-2.4zM71.3 32.7h2.4v2.4h-2.4zM76.9 32.8h2.4v2.4h-2.4zM94 33.2h2.4v2.4h-2.4zM91.6 34.1h2.4v2.4h-2.4zM63.6 36.4h2.4v2.4h-2.4zM73 36.5h2.4v2.4h-2.4zM75 36.3h2.4v2.4h-2.4zM87.5 36h2.4v2.4h-2.4zM67.4 40.1h2.4v2.4h-2.4zM74.8 40h2.4v2.4h-2.4zM78.1 45.6h2.4v2.4h-2.4zM84 45.9h2.4v2.4h-2.4zM63.6 47.5h2.4v2.4h-2.4zM72.8 49.5h2.4v2.4h-2.4zM71.3 51.5h2.4v2.4h-2.4zM74.6 53.8h2.4v2.4h-2.4zM69.3 55.3h2.4v2.4h-2.4zM78.8 54.7h2.4v2.4h-2.4zM81.2 57.4h2.4v2.4h-2.4zM69 59h2.4v2.4h-2.4zM65.5 66h2.4v2.4h-2.4z"/>
<path fill="#f4e61e" d="M69.1 -1.2h2.4v2.4h-2.4zM72.9 -1h2.4v2.4h-2.4zM100.7 -1.1h2.4v2.4h-2.4zM131.5 -1h2.4v2.4h-2.4zM135 -0.6h2.4v2.4h-2.4zM87.8 0.8h2.4v2.4h-2.4zM76.6 2.6h2.4v2.4h-2.4zM97.6 3h2.4v2.4h-2.4zM110.3 3h2.4v2.4h-2.4zM75 4.3h2.4v2.4h-2.4zM93.5 4.6h2.4v2.4h-2.4zM99.9 4.4h2.4v2.4h-2.4zM116.1 4.6h2.4v2.4h-2.4zM118.2 4.6h2.4v2.4h-2.4zM58 8.3h2.4v2.4h-2.4zM78.6 10.3h2.4v2.4h-2.4zM82.3 10.2h2.4v2.4h-2.4zM89.7 10.1h2.4v2.4h-2.4zM98.8 9.8h2.4v2.4h-2.4zM69.2 11.9h2.4v2.4h-2.4zM74.9 12.1h2.4v2.4h-2.4zM86.1 13.7h2.4v2.4h-2.4zM88.1 14h2.4v2.4h-2.4zM76.9 15.7h2.4v2.4h-2.4zM92.1 17.6h2.4v2.4h-2.4zM65.6 19.7h2.4v2.4h-2.4zM63.7 23.3h2.4v2.4h-2.4zM99.3 23h2.4v2.4h-2.4zM72.8 27h2.4v2.4h-2.4zM71.1 28.9h2.4v2.4h-2.4zM80.6 30.9h2.4v2.4h-2.4zM95.1 30.4h2.4v2.4h-2.4zM89.6 32.9h2.4v2.4h-2.4zM102.3 33h2.4v2.4h-2.4zM69.1 38.3h2.4v2.4h-2.4zM74.7 38.5h2.4v2.4h-2.4zM84.5 38.4h2.4v2.4h-2.4zM61.7 40.3h2.4v2.4h-2.4zM88.3 42.7h2.4v2.4h-2.4zM52.2 43.8h2.4v2.4h-2.4zM65.3 45.8h2.4v2.4h-2.4zM65.3 47.7h2.4v2.4h-2.4zM72.8 51.3h2.4v2.4h-2.4zM80.4 51.5h2.4v2.4h-2.4zM73.5 57.2h2.4v2.4h-2.4zM78.8 57h2.4v2.4h-2.4zM69 68.7h2.4v2.4h-2.4z"/>
<path fill="#f6e620" d="M67.4 -1.1h2.4v2.4h-2.4zM76.7 -1h2.4v2.4h-2.4zM91.6 -1.1h2.4v2.4h-2.4zM97.3 -1.3h2.4v2.4h-2.4zM63.5 2.8h2.4v2.4h-2.4zM65.3 2.9h2.4v2.4h-2.4zM122.1 2.5h2.4v2.4h-2.4zM67.2 6.4h2.4v2.4h-2.4zM106.3 6.2h2.4v2.4h-2.4zM114 6.4h2.4v2.4h-2.4zM71 8.3h2.4v2.4h-2.4zM106.6 7.9h2.4v2.4h-2.4zM71 10.2h2.4v2.4h-2.4zM74.6 10.1h2.4v2.4h-2.4zM65.4 12.2h2.4v2.4h-2.4zM76.6 12.1h2.4v2.4h-2.4zM93.3 12.3h2.4v2.4h-2.4zM74.8 14.1h2.4v2.4h-2.4zM97.9 14.5h2.4v2.4h-2.4zM61.5 17.8h2.4v2.4h-2.4zM93.3 21.5h2.4v2.4h-2.4zM95.4 21.9h2.4v2.4h-2.4zM101.4 21.4h2.4v2.4h-2.4zM84.4 23.1h2.4v2.4h-2.4zM73 25.3h2.4v2.4h-2.4zM78.5 25.1h2.4v2.4h-2.4zM104.5 25.1h2.4v2.4h-2.4zM75 27.1h2.4v2.4h-2.4zM94.9 28.7h2.4v2.4h-2.4zM100.7 30.9h2.4v2.4h-2.4zM61.7 36.3h2.4v2.4h-2.4zM73 40.2h2.4v2.4h-2.4zM67.3 42.1h2.4v2.4h-2.4zM61.6 44.1h2.4v2.4h-2.4zM65.3 43.9h2.4v2.4h-2.4zM61.5 49.6h2.4v2.4h-2.4zM83.7 48.8h2.4v2.4h-2.4zM58 57.2h2.4v2.4h-2.4zM71 60.9h2.4v2.4h-2.4z"/>
<path fill="#f8e621" d="M63.6 -1h2.4v2.4h-2.4zM80.4 -1.2h2.4v2.4h-2.4zM86.2 -1.1h2.4v2.4h-2.4zM108.2 -0.8h2.4v2.4h-2.4zM76.7 0.8h2.4v2.4h-2.4zM84.3 0.6h2.4v2.4h-2.4zM114.9 0.5h2.4v2.4h-2.4zM71.2 2.8h2.4v2.4h-2.4zM126.1 3.2h2.4v2.4h-2.4zM100.8 4.7h2.4v2.4h-2.4zM67.2 8.3h2.4v2.4h-2.4zM69.1 8.4h2.4v2.4h-2.4zM86.2 8.3h2.4v2.4h-2.4zM89.7 8.2h2.4v2.4h-2.4zM91.9 8.2h2.4v2.4h-2.4zM97.1 8.3h2.4v2.4h-2.4zM78.4 13.7h2.4v2.4h-2.4zM73.2 15.6h2.4v2.4h-2.4zM74.8 17.7h2.4v2.4h-2.4zM67.3 19.4h2.4v2.4h-2.4zM72.9 19.5h2.4v2.4h-2.4zM63.6 21.6h2.4v2.4h-2.4zM69.4 21.2h2.4v2.4h-2.4zM69 23.3h2.4v2.4h-2.4zM97.5 25.2h2.4v2.4h-2.4zM70.9 30.8h2.4v2.4h-2.4zM84.4 32.2h2.4v2.4h-2.4zM86.5 36.3h2.4v2.4h-2.4zM72.8 47.8h2.4v2.4h-2.4zM80.8 47.4h2.4v2.4h-2.4zM82.2 49.9h2.4v2.4h-2.4z"/>
<path fill="#fbe723" d="M105.4 -0.6h2.4v2.4h-2.4zM91.6 6.4h2.4v2.4h-2.4zM101.5 14.1h2.4v2.4h-2.4zM76.5 19.4h2.4v2.4h-2.4zM80.5 19.6h2.4v2.4h-2.4zM73.1 28.9h2.4v2.4h-2.4zM91.8 29.6h2.4v2.4h-2.4zM71.3 36.5h2.4v2.4h-2.4zM71.1 45.8h2.4v2.4h-2.4zM72.8 55.2h2.4v2.4h-2.4zM78.2 61h2.4v2.4h-2.4z"/>
<path fill="#fde725" d="M103.4 -0.6h2.4v2.4h-2.4zM124.1 -1.2h2.4v2.4h-2.4zM85.9 0.7h2.4v2.4h-2.4zM108 0.4h2.4v2.4h-2.4zM111.9 4.4h2.4v2.4h-2.4zM112.2 7.8h2.4v2.4h-2.4zM73 12h2.4v2.4h-2.4zM114.2 13.6h2.4v2.4h-2.4zM71.3 15.8h2.4v2.4h-2.4zM80.5 15.8h2.4v2.4h-2.4zM84.4 15.7h2.4v2.4h-2.4zM110.2 15.3h2.4v2.4h-2.4zM78.6 19.5h2.4v2.4h-2.4zM71.2 21.6h2.4v2.4h-2.4zM82.1 21.3h2.4v2.4h-2.4zM92.5 23.5h2.4v2.4h-2.4zM95.1 27.2h2.4v2.4h-2.4zM107.4 27.4h2.4v2.4h-2.4zM103.4 28.7h2.4v2.4h-2.4zM88.6 30.8h2.4v2.4h-2.4zM97.5 30.3h2.4v2.4h-2.4zM71.3 34.6h2.4v2.4h-2.4zM72.9 34.6h2.4v2.4h-2.4zM88.4 34.7h2.4v2.4h-2.4zM84.5 36h2.4v2.4h-2.4zM97.7 36.6h2.4v2.4h-2.4zM83.9 39.8h2.4v2.4h-2.4zM87.9 40.4h2.4v2.4h-2.4zM73.1 44h2.4v2.4h-2.4zM65.4 51.6h2.4v2.4h-2.4zM70.7 62.8h2.4v2.4h-2.4z"/>
</g>
<path d="M27.50 234.40v-3.9M27.50 234.40h3.9M33.76 234.40v-2.0M27.50 228.54h2.0M40.02 234.40v-2.0M27.50 222.68h2.0M46.29 234.40v-2.0M27.50 216.82h2.0M52.55 234.40v-2.0M27.50 210.96h2.0M58.81 234.40v-3.9M27.50 205.10h3.9M65.08 234.40v-2.0M27.50 199.24h2.0M71.34 234.40v-2.0M27.50 193.38h2.0M77.60 234.40v-2.0M27.50 187.52h2.0M83.86 234.40v-2.0M27.50 181.66h2.0M90.12 234.40v-3.9M27.50 175.80h3.9M96.39 234.40v-2.0M27.50 169.94h2.0M102.65 234.40v-2.0M27.50 164.08h2.0M108.91 234.40v-2.0M27.50 158.22h2.0M115.17 234.40v-2.0M27.50 152.36h2.0M121.44 234.40v-3.9M27.50 146.50h3.9M127.70 234.40v-2.0M27.50 140.64h2.0M133.96 234.40v-2.0M27.50 134.78h2.0M140.22 234.40v-2.0M27.50 128.92h2.0M146.49 234.40v-2.0M27.50 123.06h2.0M152.75 234.40v-3.9M27.50 117.20h3.9M159.01 234.40v-2.0M27.50 111.34h2.0M165.28 234.40v-2.0M27.50 105.48h2.0M171.54 234.40v-2.0M27.50 99.62h2.0M177.80 234.40v-2.0M27.50 93.76h2.0M184.06 234.40v-3.9M27.50 87.90h3.9M190.32 234.40v-2.0M27.50 82.04h2.0M196.59 234.40v-2.0M27.50 76.18h2.0M202.85 234.40v-2.0M27.50 70.32h2.0M209.11 234.40v-2.0M27.50 64.46h2.0M215.38 234.40v-3.9M27.50 58.60h3.9M221.64 234.40v-2.0M27.50 52.74h2.0M227.90 234.40v-2.0M27.50 46.88h2.0M234.16 234.40v-2.0M27.50 41.02h2.0M240.43 234.40v-2.0M27.50 35.16h2.0M246.69 234.40v-3.9M27.50 29.30h3.9M252.95 234.40v-2.0M27.50 23.44h2.0M259.21 234.40v-2.0M27.50 17.58h2.0M265.48 234.40v-2.0M27.50 11.72h2.0M271.74 234.40v-2.0M27.50 5.86h2.0M278.00 234.40v-3.9M27.50 0.00h3.9" stroke="#000" stroke-width="0.8" fill="none"/>
<rect x="27.50" y="0.10" width="250.50" height="234.30" fill="none" stroke="#000" stroke-width="0.6"/>
<g font-family="Liberation Sans, sans-serif" stroke="#000" stroke-width="0.3" fill="#000"><text x="21.14" y="244.30" font-size="10.30" textLength="12.72" lengthAdjust="spacingAndGlyphs">10</text><text x="12.48" y="238.80" font-size="10.30" textLength="12.72" lengthAdjust="spacingAndGlyphs">10</text><text x="52.45" y="244.30" font-size="10.30" textLength="12.72" lengthAdjust="spacingAndGlyphs">20</text><text x="12.48" y="209.50" font-size="10.30" textLength="12.72" lengthAdjust="spacingAndGlyphs">20</text><text x="83.76" y="244.30" font-size="10.30" textLength="12.72" lengthAdjust="spacingAndGlyphs">30</text><text x="12.48" y="180.20" font-size="10.30" textLength="12.72" lengthAdjust="spacingAndGlyphs">30</text><text x="115.08" y="244.30" font-size="10.30" textLength="12.72" lengthAdjust="spacingAndGlyphs">40</text><text x="12.48" y="150.90" font-size="10.30" textLength="12.72" lengthAdjust="spacingAndGlyphs">40</text><text x="146.39" y="244.30" font-size="10.30" textLength="12.72" lengthAdjust="spacingAndGlyphs">50</text><text x="12.48" y="121.60" font-size="10.30" textLength="12.72" lengthAdjust="spacingAndGlyphs">50</text><text x="177.70" y="244.30" font-size="10.30" textLength="12.72" lengthAdjust="spacingAndGlyphs">60</text><text x="12.48" y="92.30" font-size="10.30" textLength="12.72" lengthAdjust="spacingAndGlyphs">60</text><text x="209.01" y="244.30" font-size="10.30" textLength="12.72" lengthAdjust="spacingAndGlyphs">70</text><text x="12.48" y="63.00" font-size="10.30" textLength="12.72" lengthAdjust="spacingAndGlyphs">70</text><text x="240.33" y="244.30" font-size="10.30" textLength="12.72" lengthAdjust="spacingAndGlyphs">80</text><text x="12.48" y="33.70" font-size="10.30" textLength="12.72" lengthAdjust="spacingAndGlyphs">80</text></g>
<g clip-path="url(#clipR)">
<path d="M382.30 237.33 L382.30 47.15 L383.05 47.57 L383.80 47.99 L384.55 48.43 L385.30 48.87 L386.05 49.32 L386.80 49.78 L387.55 50.24 L388.30 50.71 L389.05 51.19 L389.80 51.68 L390.55 52.17 L391.30 52.66 L392.05 53.16 L392.80 53.67 L393.55 54.18 L394.30 54.70 L395.05 55.22 L395.80 55.75 L396.55 56.28 L397.31 56.82 L398.06 57.36 L398.81 57.91 L399.56 58.46 L400.31 59.01 L401.06 59.57 L401.81 60.14 L402.56 60.70 L403.31 61.28 L404.06 61.85 L404.81 62.43 L405.56 63.01 L406.31 63.60 L407.06 64.19 L407.81 64.78 L408.56 65.37 L409.31 65.97 L410.06 66.57 L410.81 67.18 L411.56 67.79 L412.31 68.40 L413.06 69.01 L413.81 69.62 L414.56 70.24 L415.31 70.86 L416.06 71.49 L416.81 72.11 L417.56 72.74 L418.31 73.37 L419.06 74.00 L419.81 74.64 L420.56 75.27 L421.31 75.91 L422.07 76.55 L422.82 77.20 L423.57 77.84 L424.32 78.49 L425.07 79.14 L425.82 79.79 L426.57 80.44 L427.32 81.09 L428.07 81.75 L428.82 82.41 L429.57 83.06 L430.32 83.73 L431.07 84.39 L431.82 85.05 L432.57 85.72 L433.32 86.38 L434.07 87.05 L434.82 87.72 L435.57 88.39 L436.32 89.06 L437.07 89.74 L437.82 90.41 L438.57 91.09 L439.32 91.77 L440.07 92.45 L440.82 93.13 L441.57 93.81 L442.32 94.49 L443.07 95.17 L443.82 95.86 L444.57 96.54 L445.32 97.23 L446.08 97.92 L446.83 98.61 L447.58 99.30 L448.33 99.99 L449.08 100.68 L449.83 101.38 L450.58 102.07 L451.33 102.76 L452.08 103.46 L452.83 104.16 L453.58 104.86 L454.33 105.56 L455.08 106.26 L455.83 106.96 L456.58 107.66 L457.33 108.36 L458.08 109.06 L458.83 109.77 L459.58 110.47 L460.33 111.18 L461.08 111.89 L461.83 112.60 L462.58 113.30 L463.33 114.01 L464.08 114.72 L464.83 115.44 L465.58 116.15 L466.33 116.86 L467.08 117.57 L467.83 118.29 L468.58 119.00 L469.34 119.72 L470.09 120.44 L470.84 121.15 L471.59 121.87 L472.34 122.59 L473.09 123.31 L473.84 124.03 L474.59 124.75 L475.34 125.47 L476.09 126.19 L476.84 126.92 L477.59 127.64 L478.34 128.37 L479.09 129.09 L479.84 129.82 L480.59 130.54 L481.34 131.27 L482.09 132.00 L482.84 132.73 L483.59 133.46 L484.34 134.19 L485.09 134.92 L485.84 135.65 L486.59 136.39 L487.34 137.12 L488.09 137.85 L488.84 138.59 L489.59 139.32 L490.34 140.06 L491.09 140.80 L491.84 141.53 L492.59 142.27 L493.35 143.01 L494.10 143.75 L494.85 144.49 L495.60 145.23 L496.35 145.97 L497.10 146.72 L497.85 147.46 L498.60 148.21 L499.35 148.95 L500.10 149.70 L500.85 150.44 L501.60 151.19 L502.35 151.94 L503.10 152.69 L503.85 153.44 L504.60 154.19 L505.35 154.94 L506.10 155.69 L506.85 156.45 L507.60 157.20 L508.35 157.96 L509.10 158.71 L509.85 159.47 L510.60 160.23 L511.35 160.98 L512.10 161.74 L512.85 162.51 L513.60 163.27 L514.35 164.03 L515.10 164.79 L515.85 165.56 L516.60 166.32 L517.36 167.09 L518.11 167.86 L518.86 168.63 L519.61 169.40 L520.36 170.17 L521.11 170.94 L521.86 171.71 L522.61 172.49 L523.36 173.26 L524.11 174.04 L524.86 174.82 L525.61 175.60 L526.36 176.38 L527.11 177.16 L527.86 177.94 L528.61 178.73 L529.36 179.51 L530.11 180.30 L530.86 181.09 L531.61 181.88 L532.36 182.67 L533.11 183.47 L533.86 184.26 L534.61 185.06 L535.36 185.86 L536.11 186.66 L536.86 187.46 L537.61 188.27 L538.36 189.07 L539.11 189.88 L539.86 190.69 L540.61 191.51 L541.37 192.32 L542.12 193.14 L542.87 193.96 L543.62 194.78 L544.37 195.61 L545.12 196.43 L545.87 197.26 L546.62 198.10 L547.37 198.93 L548.12 199.77 L548.87 200.61 L549.62 201.46 L550.37 202.31 L551.12 203.16 L551.87 204.02 L552.62 204.88 L553.37 205.74 L554.12 206.61 L554.87 207.48 L555.62 208.36 L556.37 209.24 L557.12 210.13 L557.87 211.02 L558.62 211.92 L559.37 212.82 L560.12 213.73 L560.87 214.64 L561.62 215.57 L562.37 216.50 L563.12 217.43 L563.87 218.38 L564.62 219.33 L565.38 220.30 L566.13 221.27 L566.88 222.25 L567.63 223.25 L568.38 224.25 L569.13 225.27 L569.88 226.31 L570.63 227.36 L571.38 228.42 L572.13 229.51 L572.88 230.61 L573.63 231.74 L574.38 232.89 L575.13 234.07 L575.88 235.27 L576.63 236.52 L577.38 237.80 L578.13 239.13 L578.88 240.51 L579.63 241.96 L580.38 243.48 L581.13 245.10 L581.88 246.85 L582.63 248.76 L582.63 237.33 Z" fill="#ffabbc"/>
<path d="M382.30 237.33 L382.30 58.33 L383.05 58.69 L383.80 59.05 L384.55 59.43 L385.30 59.81 L386.05 60.20 L386.80 60.59 L387.55 60.99 L388.30 61.40 L389.05 61.82 L389.80 62.24 L390.55 62.67 L391.30 63.10 L392.05 63.54 L392.80 63.99 L393.55 64.44 L394.30 64.90 L395.05 65.36 L395.80 65.83 L396.55 66.31 L397.31 66.79 L398.06 67.27 L398.81 67.76 L399.56 68.26 L400.31 68.76 L401.06 69.26 L401.81 69.77 L402.56 70.29 L403.31 70.81 L404.06 71.33 L404.81 71.86 L405.56 72.39 L406.31 72.92 L407.06 73.46 L407.81 74.01 L408.56 74.55 L409.31 75.10 L410.06 75.66 L410.81 76.22 L411.56 76.78 L412.31 77.34 L413.06 77.91 L413.81 78.48 L414.56 79.06 L415.31 79.64 L416.06 80.22 L416.81 80.80 L417.56 81.39 L418.31 81.98 L419.06 82.58 L419.81 83.17 L420.56 83.77 L421.31 84.37 L422.07 84.98 L422.82 85.59 L423.57 86.20 L424.32 86.81 L425.07 87.42 L425.82 88.04 L426.57 88.66 L427.32 89.28 L428.07 89.91 L428.82 90.53 L429.57 91.16 L430.32 91.79 L431.07 92.42 L431.82 93.06 L432.57 93.70 L433.32 94.34 L434.07 94.98 L434.82 95.62 L435.57 96.27 L436.32 96.91 L437.07 97.56 L437.82 98.21 L438.57 98.87 L439.32 99.52 L440.07 100.18 L440.82 100.84 L441.57 101.49 L442.32 102.16 L443.07 102.82 L443.82 103.48 L444.57 104.15 L445.32 104.82 L446.08 105.49 L446.83 106.16 L447.58 106.83 L448.33 107.51 L449.08 108.18 L449.83 108.86 L450.58 109.54 L451.33 110.22 L452.08 110.90 L452.83 111.58 L453.58 112.27 L454.33 112.95 L455.08 113.64 L455.83 114.33 L456.58 115.02 L457.33 115.71 L458.08 116.40 L458.83 117.10 L459.58 117.79 L460.33 118.49 L461.08 119.19 L461.83 119.88 L462.58 120.59 L463.33 121.29 L464.08 121.99 L464.83 122.69 L465.58 123.40 L466.33 124.11 L467.08 124.81 L467.83 125.52 L468.58 126.23 L469.34 126.94 L470.09 127.66 L470.84 128.37 L471.59 129.08 L472.34 129.80 L473.09 130.52 L473.84 131.24 L474.59 131.96 L475.34 132.68 L476.09 133.40 L476.84 134.12 L477.59 134.85 L478.34 135.57 L479.09 136.30 L479.84 137.03 L480.59 137.76 L481.34 138.49 L482.09 139.22 L482.84 139.95 L483.59 140.68 L484.34 141.42 L485.09 142.15 L485.84 142.89 L486.59 143.63 L487.34 144.37 L488.09 145.11 L488.84 145.85 L489.59 146.60 L490.34 147.34 L491.09 148.09 L491.84 148.83 L492.59 149.58 L493.35 150.33 L494.10 151.08 L494.85 151.83 L495.60 152.59 L496.35 153.34 L497.10 154.10 L497.85 154.86 L498.60 155.61 L499.35 156.37 L500.10 157.14 L500.85 157.90 L501.60 158.66 L502.35 159.43 L503.10 160.20 L503.85 160.96 L504.60 161.73 L505.35 162.51 L506.10 163.28 L506.85 164.05 L507.60 164.83 L508.35 165.61 L509.10 166.39 L509.85 167.17 L510.60 167.95 L511.35 168.74 L512.10 169.52 L512.85 170.31 L513.60 171.10 L514.35 171.89 L515.10 172.68 L515.85 173.48 L516.60 174.28 L517.36 175.08 L518.11 175.88 L518.86 176.68 L519.61 177.49 L520.36 178.30 L521.11 179.11 L521.86 179.92 L522.61 180.73 L523.36 181.55 L524.11 182.37 L524.86 183.19 L525.61 184.02 L526.36 184.84 L527.11 185.67 L527.86 186.51 L528.61 187.34 L529.36 188.18 L530.11 189.02 L530.86 189.87 L531.61 190.72 L532.36 191.57 L533.11 192.42 L533.86 193.28 L534.61 194.14 L535.36 195.01 L536.11 195.88 L536.86 196.76 L537.61 197.63 L538.36 198.52 L539.11 199.41 L539.86 200.30 L540.61 201.20 L541.37 202.10 L542.12 203.01 L542.87 203.92 L543.62 204.84 L544.37 205.77 L545.12 206.70 L545.87 207.64 L546.62 208.59 L547.37 209.54 L548.12 210.51 L548.87 211.48 L549.62 212.46 L550.37 213.45 L551.12 214.44 L551.87 215.45 L552.62 216.47 L553.37 217.51 L554.12 218.55 L554.87 219.61 L555.62 220.68 L556.37 221.77 L557.12 222.88 L557.87 224.00 L558.62 225.15 L559.37 226.31 L560.12 227.50 L560.87 228.72 L561.62 229.96 L562.37 231.24 L563.12 232.56 L563.87 233.91 L564.62 235.31 L565.38 236.77 L566.13 238.29 L566.88 239.89 L567.63 241.58 L568.38 243.38 L569.13 245.33 L569.88 247.49 L569.88 237.33 Z" fill="#ff738e"/>
<path d="M414.71 237.33 L415.31 234.40 L418.31 232.79 L422.22 230.06 L429.87 225.46 L493.13 194.84 L625.40 131.26 L631.40 128.33 L631.40 237.33 Z" fill="#94d5b1"/>
<path fill="#1e9b8a" d="M383.9 21.3h2.4v2.4h-2.4zM401.8 30.7h2.4v2.4h-2.4zM398.3 43.9h2.4v2.4h-2.4z"/>
<path fill="#1e9c89" d="M398.4 34.5h2.4v2.4h-2.4z"/>
<path fill="#1e9d89" d="M398.4 47.7h2.4v2.4h-2.4zM398.2 49.7h2.4v2.4h-2.4z"/>
<path fill="#1f948c" d="M385.5 23.2h2.4v2.4h-2.4zM394.5 25.2h2.4v2.4h-2.4zM400.1 34.5h2.4v2.4h-2.4zM403.5 55.1h2.4v2.4h-2.4z"/>
<path fill="#1f958b" d="M401.7 34.5h2.4v2.4h-2.4zM400.1 43.9h2.4v2.4h-2.4zM401.6 51.4h2.4v2.4h-2.4zM403.6 51.6h2.4v2.4h-2.4zM403.4 62.6h2.4v2.4h-2.4z"/>
<path fill="#1f968b" d="M385.5 27.1h2.4v2.4h-2.4zM390.8 27.1h2.4v2.4h-2.4zM403.5 47.7h2.4v2.4h-2.4z"/>
<path fill="#1f978b" d="M387.2 19.5h2.4v2.4h-2.4z"/>
<path fill="#1f988b" d="M383.9 23.2h2.4v2.4h-2.4zM387.5 23.2h2.4v2.4h-2.4zM390.8 28.9h2.4v2.4h-2.4zM396.2 29h2.4v2.4h-2.4zM389 30.7h2.4v2.4h-2.4zM383.8 32.8h2.4v2.4h-2.4zM398.2 40h2.4v2.4h-2.4zM401.7 53.2h2.4v2.4h-2.4zM401.7 55.1h2.4v2.4h-2.4zM407.2 59.1h2.4v2.4h-2.4z"/>
<path fill="#1f998a" d="M394.7 30.9h2.4v2.4h-2.4zM400.1 49.7h2.4v2.4h-2.4z"/>
<path fill="#1f9a8a" d="M389.3 17.7h2.4v2.4h-2.4zM390.9 23.4h2.4v2.4h-2.4zM387.3 25.1h2.4v2.4h-2.4zM389.2 25.2h2.4v2.4h-2.4zM396.2 27.2h2.4v2.4h-2.4zM402 66.4h2.4v2.4h-2.4z"/>
<path fill="#1f9e89" d="M385.7 28.8h2.4v2.4h-2.4zM391.1 32.7h2.4v2.4h-2.4zM383.6 38.3h2.4v2.4h-2.4zM383.9 40.1h2.4v2.4h-2.4zM399.9 47.9h2.4v2.4h-2.4zM405.2 51.3h2.4v2.4h-2.4zM403.5 59.1h2.4v2.4h-2.4z"/>
<path fill="#1f9f88" d="M398.2 32.8h2.4v2.4h-2.4zM400 38.3h2.4v2.4h-2.4zM401.7 60.8h2.4v2.4h-2.4z"/>
<path fill="#1fa088" d="M387.4 31h2.4v2.4h-2.4zM399.9 66.6h2.4v2.4h-2.4z"/>
<path fill="#1fa187" d="M389.2 27h2.4v2.4h-2.4zM389.4 36.3h2.4v2.4h-2.4zM400.2 36.4h2.4v2.4h-2.4zM385.5 42.2h2.4v2.4h-2.4zM403.5 53.4h2.4v2.4h-2.4z"/>
<path fill="#1fa188" d="M383.8 25.1h2.4v2.4h-2.4zM396.3 31h2.4v2.4h-2.4zM385.5 36.3h2.4v2.4h-2.4z"/>
<path fill="#1fa287" d="M396.3 32.7h2.4v2.4h-2.4zM396.5 42.2h2.4v2.4h-2.4zM398.1 45.8h2.4v2.4h-2.4z"/>
<path fill="#20928c" d="M399.9 23.1h2.4v2.4h-2.4zM385.5 25.1h2.4v2.4h-2.4zM391.2 25.3h2.4v2.4h-2.4zM392.8 25.1h2.4v2.4h-2.4zM398.1 30.8h2.4v2.4h-2.4zM398.1 36.4h2.4v2.4h-2.4zM401.7 38.5h2.4v2.4h-2.4zM401.7 40.1h2.4v2.4h-2.4zM399.9 42.2h2.4v2.4h-2.4zM405.4 49.7h2.4v2.4h-2.4zM405.5 53.2h2.4v2.4h-2.4z"/>
<path fill="#20938c" d="M390.8 19.5h2.4v2.4h-2.4zM403.6 57.2h2.4v2.4h-2.4z"/>
<path fill="#20a386" d="M393 32.9h2.4v2.4h-2.4zM383.9 36.5h2.4v2.4h-2.4zM398.2 51.2h2.4v2.4h-2.4zM399.8 51.6h2.4v2.4h-2.4zM403.7 64.7h2.4v2.4h-2.4z"/>
<path fill="#20a486" d="M389.1 29.1h2.4v2.4h-2.4zM392.8 29.1h2.4v2.4h-2.4zM383.6 42.1h2.4v2.4h-2.4zM398.3 53.3h2.4v2.4h-2.4z"/>
<path fill="#218e8d" d="M394.6 28.9h2.4v2.4h-2.4z"/>
<path fill="#218f8d" d="M392.9 30.7h2.4v2.4h-2.4zM403.6 36.5h2.4v2.4h-2.4zM403.5 42.2h2.4v2.4h-2.4z"/>
<path fill="#21908d" d="M385.6 19.4h2.4v2.4h-2.4zM392.8 19.6h2.4v2.4h-2.4zM389.3 21.6h2.4v2.4h-2.4zM400 32.6h2.4v2.4h-2.4zM400.1 40.1h2.4v2.4h-2.4zM403.4 40.1h2.4v2.4h-2.4zM409.1 57h2.4v2.4h-2.4zM405.2 62.8h2.4v2.4h-2.4z"/>
<path fill="#21918c" d="M387.3 17.8h2.4v2.4h-2.4zM394.7 27.2h2.4v2.4h-2.4zM402 36.3h2.4v2.4h-2.4zM407.1 43.9h2.4v2.4h-2.4zM409.1 49.7h2.4v2.4h-2.4z"/>
<path fill="#21a585" d="M396.5 45.6h2.4v2.4h-2.4zM396.4 47.8h2.4v2.4h-2.4z"/>
<path fill="#21a685" d="M384 34.5h2.4v2.4h-2.4zM391.1 34.6h2.4v2.4h-2.4zM392.8 34.4h2.4v2.4h-2.4zM398 42.1h2.4v2.4h-2.4zM383.9 47.7h2.4v2.4h-2.4zM403.8 68.2h2.4v2.4h-2.4z"/>
<path fill="#228b8d" d="M389.4 23.1h2.4v2.4h-2.4zM403.7 34.4h2.4v2.4h-2.4zM401.8 45.9h2.4v2.4h-2.4zM401.8 47.6h2.4v2.4h-2.4z"/>
<path fill="#228c8d" d="M383.9 29.1h2.4v2.4h-2.4zM400.2 30.8h2.4v2.4h-2.4z"/>
<path fill="#228d8d" d="M396.4 21.5h2.4v2.4h-2.4zM398.2 38.4h2.4v2.4h-2.4zM401.9 41.9h2.4v2.4h-2.4zM405.3 60.7h2.4v2.4h-2.4zM405.5 66.6h2.4v2.4h-2.4z"/>
<path fill="#22a785" d="M385.8 32.5h2.4v2.4h-2.4zM389.2 32.6h2.4v2.4h-2.4zM396.4 49.6h2.4v2.4h-2.4zM401.6 49.7h2.4v2.4h-2.4zM403.4 60.8h2.4v2.4h-2.4z"/>
<path fill="#22a884" d="M396.4 34.5h2.4v2.4h-2.4zM400.1 62.5h2.4v2.4h-2.4z"/>
<path fill="#23888e" d="M394.8 23.1h2.4v2.4h-2.4zM399.8 29h2.4v2.4h-2.4zM407.3 64.6h2.4v2.4h-2.4z"/>
<path fill="#23898e" d="M398.4 29.1h2.4v2.4h-2.4zM405.3 38.5h2.4v2.4h-2.4zM407.1 51.4h2.4v2.4h-2.4zM412.5 62.9h2.4v2.4h-2.4zM405.5 64.6h2.4v2.4h-2.4zM403.4 66.6h2.4v2.4h-2.4z"/>
<path fill="#238a8d" d="M384 27.2h2.4v2.4h-2.4zM396.4 36.5h2.4v2.4h-2.4zM400.2 45.7h2.4v2.4h-2.4zM410.7 45.6h2.4v2.4h-2.4zM405.2 47.7h2.4v2.4h-2.4zM405.6 55.4h2.4v2.4h-2.4zM407.4 62.6h2.4v2.4h-2.4z"/>
<path fill="#23a983" d="M387.5 26.9h2.4v2.4h-2.4zM394.5 34.7h2.4v2.4h-2.4z"/>
<path fill="#24868e" d="M383.9 19.4h2.4v2.4h-2.4zM403.8 30.8h2.4v2.4h-2.4zM401.8 32.6h2.4v2.4h-2.4zM401.9 57.1h2.4v2.4h-2.4z"/>
<path fill="#24878e" d="M398.1 25.3h2.4v2.4h-2.4zM405.3 57.2h2.4v2.4h-2.4zM408.9 68.3h2.4v2.4h-2.4z"/>
<path fill="#24aa83" d="M387.6 34.4h2.4v2.4h-2.4zM396.5 38.5h2.4v2.4h-2.4zM396.3 40.3h2.4v2.4h-2.4zM402 62.7h2.4v2.4h-2.4z"/>
<path fill="#25838e" d="M391.2 21.3h2.4v2.4h-2.4zM407.4 32.7h2.4v2.4h-2.4zM405.3 34.7h2.4v2.4h-2.4zM407.1 55.2h2.4v2.4h-2.4z"/>
<path fill="#25848e" d="M385.5 21.3h2.4v2.4h-2.4zM402 21.5h2.4v2.4h-2.4zM392.6 23.5h2.4v2.4h-2.4zM396.5 23.2h2.4v2.4h-2.4zM401.9 28.7h2.4v2.4h-2.4zM401.8 44h2.4v2.4h-2.4zM408.9 66.5h2.4v2.4h-2.4z"/>
<path fill="#25858e" d="M385.6 15.7h2.4v2.4h-2.4zM398 21.5h2.4v2.4h-2.4zM407.2 30.7h2.4v2.4h-2.4zM407.2 45.6h2.4v2.4h-2.4zM403.8 49.6h2.4v2.4h-2.4zM414.4 57.2h2.4v2.4h-2.4z"/>
<path fill="#25ab82" d="M394.4 42.2h2.4v2.4h-2.4zM398.1 56.9h2.4v2.4h-2.4z"/>
<path fill="#25ac82" d="M383.8 30.9h2.4v2.4h-2.4zM385.5 30.8h2.4v2.4h-2.4zM385.7 34.4h2.4v2.4h-2.4zM394.8 36.3h2.4v2.4h-2.4zM399.9 59h2.4v2.4h-2.4zM400 60.7h2.4v2.4h-2.4z"/>
<path fill="#26828e" d="M392.8 13.7h2.4v2.4h-2.4zM392.7 21.5h2.4v2.4h-2.4zM394.8 21.5h2.4v2.4h-2.4zM398.3 27.1h2.4v2.4h-2.4zM403.5 28.9h2.4v2.4h-2.4zM409.1 28.7h2.4v2.4h-2.4zM403.7 38.3h2.4v2.4h-2.4zM405.2 45.6h2.4v2.4h-2.4zM412.6 51.6h2.4v2.4h-2.4zM407.4 53.1h2.4v2.4h-2.4zM405.5 58.8h2.4v2.4h-2.4zM412.6 60.6h2.4v2.4h-2.4zM409.2 71.9h2.4v2.4h-2.4z"/>
<path fill="#26ad81" d="M385.7 40h2.4v2.4h-2.4zM385.6 45.8h2.4v2.4h-2.4z"/>
<path fill="#277e8e" d="M389.3 13.8h2.4v2.4h-2.4zM400.1 25.1h2.4v2.4h-2.4zM401.9 25.1h2.4v2.4h-2.4zM405.5 40.1h2.4v2.4h-2.4zM405.3 43.9h2.4v2.4h-2.4z"/>
<path fill="#277f8e" d="M391.2 11.9h2.4v2.4h-2.4zM383.7 17.6h2.4v2.4h-2.4zM403.7 44h2.4v2.4h-2.4z"/>
<path fill="#27808e" d="M390.9 14.1h2.4v2.4h-2.4zM387.5 15.7h2.4v2.4h-2.4zM405.4 36.3h2.4v2.4h-2.4zM407.3 38.4h2.4v2.4h-2.4zM405.4 42.1h2.4v2.4h-2.4zM412.6 57.2h2.4v2.4h-2.4z"/>
<path fill="#27ad81" d="M392.8 27.1h2.4v2.4h-2.4z"/>
<path fill="#287c8e" d="M398 17.9h2.4v2.4h-2.4zM407.3 29.1h2.4v2.4h-2.4zM405.4 32.5h2.4v2.4h-2.4zM414.5 34.6h2.4v2.4h-2.4zM408.9 51.2h2.4v2.4h-2.4zM410.8 64.5h2.4v2.4h-2.4zM414.6 72.3h2.4v2.4h-2.4z"/>
<path fill="#287d8e" d="M398.2 23.3h2.4v2.4h-2.4zM396.2 25h2.4v2.4h-2.4zM405.5 30.7h2.4v2.4h-2.4zM407.2 68.3h2.4v2.4h-2.4z"/>
<path fill="#28ae80" d="M391 30.7h2.4v2.4h-2.4zM387.4 32.6h2.4v2.4h-2.4zM394.5 32.7h2.4v2.4h-2.4zM392.8 36.3h2.4v2.4h-2.4zM383.7 53.5h2.4v2.4h-2.4zM398.2 55.2h2.4v2.4h-2.4z"/>
<path fill="#29798e" d="M392.8 11.9h2.4v2.4h-2.4zM414.4 43.9h2.4v2.4h-2.4zM403.4 45.8h2.4v2.4h-2.4zM409 45.7h2.4v2.4h-2.4zM410.9 55h2.4v2.4h-2.4zM408.9 60.7h2.4v2.4h-2.4zM416.1 64.5h2.4v2.4h-2.4zM411 70.2h2.4v2.4h-2.4z"/>
<path fill="#297a8e" d="M401.9 23.4h2.4v2.4h-2.4zM412.8 42.2h2.4v2.4h-2.4zM412.6 45.8h2.4v2.4h-2.4zM410.6 51.3h2.4v2.4h-2.4zM408.9 58.8h2.4v2.4h-2.4z"/>
<path fill="#297b8e" d="M389.2 19.5h2.4v2.4h-2.4zM407.1 42.2h2.4v2.4h-2.4zM417.8 49.6h2.4v2.4h-2.4zM416.3 66.2h2.4v2.4h-2.4zM418 66.5h2.4v2.4h-2.4zM414.3 70.1h2.4v2.4h-2.4zM410.8 72h2.4v2.4h-2.4z"/>
<path fill="#29af7f" d="M387.2 40.4h2.4v2.4h-2.4zM399.9 53.3h2.4v2.4h-2.4z"/>
<path fill="#2a768e" d="M408.9 43.8h2.4v2.4h-2.4zM411 43.9h2.4v2.4h-2.4zM410.8 53.5h2.4v2.4h-2.4zM414.4 53.4h2.4v2.4h-2.4zM412.6 59h2.4v2.4h-2.4zM416.1 69.8h2.4v2.4h-2.4z"/>
<path fill="#2a778e" d="M385.8 14.1h2.4v2.4h-2.4zM389 15.9h2.4v2.4h-2.4zM391 17.6h2.4v2.4h-2.4zM401.6 27.2h2.4v2.4h-2.4zM405.6 27.1h2.4v2.4h-2.4zM412.5 40.4h2.4v2.4h-2.4zM414.4 42.1h2.4v2.4h-2.4zM407.1 47.6h2.4v2.4h-2.4z"/>
<path fill="#2a788e" d="M394.7 17.5h2.4v2.4h-2.4zM400 17.5h2.4v2.4h-2.4zM387.5 21.3h2.4v2.4h-2.4zM407.1 49.4h2.4v2.4h-2.4zM410.8 60.9h2.4v2.4h-2.4z"/>
<path fill="#2ab07f" d="M394.5 43.7h2.4v2.4h-2.4zM385.6 47.8h2.4v2.4h-2.4zM396.3 53.2h2.4v2.4h-2.4zM401.6 58.9h2.4v2.4h-2.4z"/>
<path fill="#2b748e" d="M384 16h2.4v2.4h-2.4zM392.7 17.7h2.4v2.4h-2.4zM409.1 32.7h2.4v2.4h-2.4zM410.8 38.3h2.4v2.4h-2.4zM412.6 44.1h2.4v2.4h-2.4zM410.9 62.5h2.4v2.4h-2.4zM407.3 66.3h2.4v2.4h-2.4zM414.5 73.4h2.4v2.4h-2.4z"/>
<path fill="#2b758e" d="M385.8 17.8h2.4v2.4h-2.4zM403.5 27h2.4v2.4h-2.4zM407.3 34.5h2.4v2.4h-2.4zM407.2 40h2.4v2.4h-2.4zM408.9 47.5h2.4v2.4h-2.4zM418.1 47.8h2.4v2.4h-2.4zM414.5 49.7h2.4v2.4h-2.4zM410.9 59h2.4v2.4h-2.4z"/>
<path fill="#2c718e" d="M389.3 12h2.4v2.4h-2.4zM383.9 13.9h2.4v2.4h-2.4zM391 15.7h2.4v2.4h-2.4zM398.2 15.6h2.4v2.4h-2.4zM396.6 17.6h2.4v2.4h-2.4zM407.1 27.2h2.4v2.4h-2.4zM412.6 32.7h2.4v2.4h-2.4zM410.7 34.4h2.4v2.4h-2.4z"/>
<path fill="#2c728e" d="M383.7 12.2h2.4v2.4h-2.4zM392.8 15.8h2.4v2.4h-2.4zM407.4 23.3h2.4v2.4h-2.4zM403.8 32.8h2.4v2.4h-2.4zM410.9 42h2.4v2.4h-2.4zM420 49.6h2.4v2.4h-2.4zM407.2 57h2.4v2.4h-2.4zM414.5 58.9h2.4v2.4h-2.4zM412.7 71.9h2.4v2.4h-2.4zM420 71.5h2.4v2.4h-2.4z"/>
<path fill="#2c738e" d="M387.5 8.3h2.4v2.4h-2.4zM398.1 19.5h2.4v2.4h-2.4zM407.1 36.4h2.4v2.4h-2.4zM407 60.6h2.4v2.4h-2.4zM414.6 62.7h2.4v2.4h-2.4z"/>
<path fill="#2cb17e" d="M399.9 55h2.4v2.4h-2.4z"/>
<path fill="#2d708e" d="M389.4 10.3h2.4v2.4h-2.4zM409.2 38.3h2.4v2.4h-2.4zM416.1 60.9h2.4v2.4h-2.4zM409.1 64.4h2.4v2.4h-2.4z"/>
<path fill="#2d718e" d="M383.9 6.4h2.4v2.4h-2.4zM398.1 14h2.4v2.4h-2.4zM400 19.7h2.4v2.4h-2.4zM400 21.3h2.4v2.4h-2.4zM405.2 23.3h2.4v2.4h-2.4zM414.3 40.1h2.4v2.4h-2.4zM409.1 53.2h2.4v2.4h-2.4zM421.5 53.4h2.4v2.4h-2.4z"/>
<path fill="#2e6d8e" d="M389.2 8.4h2.4v2.4h-2.4zM387.3 14.1h2.4v2.4h-2.4zM394.7 19.3h2.4v2.4h-2.4zM403.4 19.5h2.4v2.4h-2.4zM409.1 30.6h2.4v2.4h-2.4zM421.6 51.6h2.4v2.4h-2.4zM412.6 53.4h2.4v2.4h-2.4zM421.7 60.9h2.4v2.4h-2.4zM419.5 66.1h2.4v2.4h-2.4zM416 74h2.4v2.4h-2.4z"/>
<path fill="#2e6e8e" d="M392.7 10.2h2.4v2.4h-2.4zM385.5 12.1h2.4v2.4h-2.4zM396.4 11.9h2.4v2.4h-2.4zM407.4 21.2h2.4v2.4h-2.4zM400 27.2h2.4v2.4h-2.4zM410.7 36.2h2.4v2.4h-2.4zM409 42.1h2.4v2.4h-2.4zM427.1 47.8h2.4v2.4h-2.4zM418.1 58.9h2.4v2.4h-2.4zM419.7 59.1h2.4v2.4h-2.4zM412.5 68.4h2.4v2.4h-2.4zM408.8 70h2.4v2.4h-2.4zM421.1 73.3h2.4v2.4h-2.4z"/>
<path fill="#2e6f8e" d="M394.4 15.7h2.4v2.4h-2.4zM410.8 49.6h2.4v2.4h-2.4zM416.1 51.3h2.4v2.4h-2.4zM414.3 68.3h2.4v2.4h-2.4z"/>
<path fill="#2eb37c" d="M394.6 38.4h2.4v2.4h-2.4zM396.3 43.7h2.4v2.4h-2.4zM394.8 47.7h2.4v2.4h-2.4z"/>
<path fill="#2f6b8e" d="M396.4 15.9h2.4v2.4h-2.4zM409.1 27h2.4v2.4h-2.4zM412.8 28.8h2.4v2.4h-2.4zM414.3 32.5h2.4v2.4h-2.4zM409.2 34.5h2.4v2.4h-2.4zM427 43.9h2.4v2.4h-2.4zM423.3 47.6h2.4v2.4h-2.4zM412.8 49.4h2.4v2.4h-2.4zM421.4 62.5h2.4v2.4h-2.4zM426.6 62.8h2.4v2.4h-2.4zM419.7 64.6h2.4v2.4h-2.4zM417.7 73.9h2.4v2.4h-2.4zM420 76h2.4v2.4h-2.4z"/>
<path fill="#2f6c8e" d="M391.2 6.3h2.4v2.4h-2.4zM383.6 8.4h2.4v2.4h-2.4zM391.2 8.2h2.4v2.4h-2.4zM398.4 8.4h2.4v2.4h-2.4zM412.5 47.5h2.4v2.4h-2.4zM414.5 51.3h2.4v2.4h-2.4zM417.9 56.9h2.4v2.4h-2.4zM414.4 66.4h2.4v2.4h-2.4zM416.1 68.3h2.4v2.4h-2.4zM412.5 70.1h2.4v2.4h-2.4z"/>
<path fill="#2fb47c" d="M387.4 38.1h2.4v2.4h-2.4zM391 38.3h2.4v2.4h-2.4z"/>
<path fill="#30698e" d="M409.2 21.4h2.4v2.4h-2.4zM410.7 23.4h2.4v2.4h-2.4zM426.8 27.2h2.4v2.4h-2.4zM423.4 45.9h2.4v2.4h-2.4zM410.7 47.8h2.4v2.4h-2.4zM418 51.4h2.4v2.4h-2.4zM421.5 58.9h2.4v2.4h-2.4z"/>
<path fill="#306a8e" d="M385.7 4.5h2.4v2.4h-2.4zM385.5 8.4h2.4v2.4h-2.4zM405.6 21.6h2.4v2.4h-2.4zM425.1 47.7h2.4v2.4h-2.4zM416.4 56.9h2.4v2.4h-2.4zM427.5 59.1h2.4v2.4h-2.4z"/>
<path fill="#31668e" d="M392.8 -1.2h2.4v2.4h-2.4zM387.2 12.2h2.4v2.4h-2.4zM412.5 36.3h2.4v2.4h-2.4zM425 40.2h2.4v2.4h-2.4zM416.2 44h2.4v2.4h-2.4zM412.7 55.1h2.4v2.4h-2.4zM416.3 62.9h2.4v2.4h-2.4zM420.4 68.3h2.4v2.4h-2.4z"/>
<path fill="#31678e" d="M387.3 10.1h2.4v2.4h-2.4zM399.8 16h2.4v2.4h-2.4zM409 23.1h2.4v2.4h-2.4zM418.2 34.7h2.4v2.4h-2.4zM412.5 38.2h2.4v2.4h-2.4zM414.5 45.9h2.4v2.4h-2.4zM416.2 59h2.4v2.4h-2.4zM414.5 64.7h2.4v2.4h-2.4z"/>
<path fill="#31688e" d="M387.4 -1h2.4v2.4h-2.4zM387.4 6.4h2.4v2.4h-2.4zM385.6 10.1h2.4v2.4h-2.4zM394.5 10.1h2.4v2.4h-2.4zM396.4 19.5h2.4v2.4h-2.4zM403.6 21.2h2.4v2.4h-2.4zM416.4 32.6h2.4v2.4h-2.4zM408.9 36.4h2.4v2.4h-2.4zM410.9 40.1h2.4v2.4h-2.4zM421.5 43.9h2.4v2.4h-2.4zM418.1 55h2.4v2.4h-2.4zM417.9 64.4h2.4v2.4h-2.4z"/>
<path fill="#31b57b" d="M387.4 28.8h2.4v2.4h-2.4zM392.8 40.3h2.4v2.4h-2.4zM383.9 43.8h2.4v2.4h-2.4zM383.8 45.9h2.4v2.4h-2.4zM398 61h2.4v2.4h-2.4z"/>
<path fill="#32648e" d="M391.2 10.2h2.4v2.4h-2.4zM401.8 13.8h2.4v2.4h-2.4zM408.9 17.6h2.4v2.4h-2.4zM405.4 19.7h2.4v2.4h-2.4zM410.9 30.6h2.4v2.4h-2.4zM416.2 30.8h2.4v2.4h-2.4zM410.8 32.6h2.4v2.4h-2.4zM416.1 47.7h2.4v2.4h-2.4zM416.2 53.4h2.4v2.4h-2.4zM414.5 55.2h2.4v2.4h-2.4zM425.4 57h2.4v2.4h-2.4zM427.1 57h2.4v2.4h-2.4z"/>
<path fill="#32658e" d="M392.8 8.4h2.4v2.4h-2.4zM403.7 15.7h2.4v2.4h-2.4zM417.8 23.5h2.4v2.4h-2.4zM405.5 25.2h2.4v2.4h-2.4zM420 51.3h2.4v2.4h-2.4zM412.6 66.6h2.4v2.4h-2.4zM425 68.7h2.4v2.4h-2.4z"/>
<path fill="#32b67a" d="M387.3 36.6h2.4v2.4h-2.4zM396.5 51.5h2.4v2.4h-2.4z"/>
<path fill="#33628d" d="M385.4 2.7h2.4v2.4h-2.4zM407.2 19.4h2.4v2.4h-2.4zM417.9 21.6h2.4v2.4h-2.4zM410.8 26.9h2.4v2.4h-2.4zM416.4 27.1h2.4v2.4h-2.4zM423.3 53.5h2.4v2.4h-2.4zM425.3 55.3h2.4v2.4h-2.4zM420 60.8h2.4v2.4h-2.4z"/>
<path fill="#33638d" d="M383.8 -1.2h2.4v2.4h-2.4zM394.6 4.5h2.4v2.4h-2.4zM384 10.3h2.4v2.4h-2.4zM396.3 10.3h2.4v2.4h-2.4zM403.7 25.2h2.4v2.4h-2.4zM417.9 38.4h2.4v2.4h-2.4zM421.6 38.3h2.4v2.4h-2.4zM408.9 40.3h2.4v2.4h-2.4zM426.9 60.9h2.4v2.4h-2.4z"/>
<path fill="#34608d" d="M401.8 19.6h2.4v2.4h-2.4zM414.6 27.1h2.4v2.4h-2.4zM418.1 53.4h2.4v2.4h-2.4zM419.8 55.2h2.4v2.4h-2.4zM425 59h2.4v2.4h-2.4zM419.4 73.7h2.4v2.4h-2.4z"/>
<path fill="#34618d" d="M389.1 4.4h2.4v2.4h-2.4zM401.7 17.5h2.4v2.4h-2.4zM414.3 30.7h2.4v2.4h-2.4zM414.6 38.2h2.4v2.4h-2.4zM416.4 41.9h2.4v2.4h-2.4zM416.1 55h2.4v2.4h-2.4zM426.9 55.2h2.4v2.4h-2.4zM421.7 57.2h2.4v2.4h-2.4zM434.5 57h2.4v2.4h-2.4zM425.6 65h2.4v2.4h-2.4zM417.3 68h2.4v2.4h-2.4zM418.3 72.1h2.4v2.4h-2.4z"/>
<path fill="#34b679" d="M385.8 38.4h2.4v2.4h-2.4zM394.5 40.3h2.4v2.4h-2.4zM402 64.4h2.4v2.4h-2.4z"/>
<path fill="#355e8d" d="M384 4.6h2.4v2.4h-2.4zM394.5 12.2h2.4v2.4h-2.4zM398.1 11.9h2.4v2.4h-2.4zM417.8 42h2.4v2.4h-2.4zM419.9 45.7h2.4v2.4h-2.4zM419.8 47.5h2.4v2.4h-2.4zM432 49.5h2.4v2.4h-2.4z"/>
<path fill="#355f8d" d="M401.9 15.8h2.4v2.4h-2.4zM410.8 25.2h2.4v2.4h-2.4zM412.6 25.3h2.4v2.4h-2.4zM429 42.1h2.4v2.4h-2.4zM421.6 49.7h2.4v2.4h-2.4z"/>
<path fill="#35b779" d="M383.7 49.5h2.4v2.4h-2.4z"/>
<path fill="#365c8d" d="M392.6 4.3h2.4v2.4h-2.4zM403.5 17.5h2.4v2.4h-2.4zM408.9 25.3h2.4v2.4h-2.4zM412.6 27.2h2.4v2.4h-2.4zM420 27.1h2.4v2.4h-2.4zM419.8 40.1h2.4v2.4h-2.4zM417.9 44.1h2.4v2.4h-2.4zM425.2 44.1h2.4v2.4h-2.4zM414.4 47.7h2.4v2.4h-2.4zM419.8 53.4h2.4v2.4h-2.4zM422 64.8h2.4v2.4h-2.4zM428.6 64.5h2.4v2.4h-2.4z"/>
<path fill="#365d8d" d="M387.4 2.7h2.4v2.4h-2.4zM385.8 6.5h2.4v2.4h-2.4zM403.7 6.4h2.4v2.4h-2.4zM394.5 13.9h2.4v2.4h-2.4zM403.5 23.1h2.4v2.4h-2.4zM416.1 23.2h2.4v2.4h-2.4zM423.2 34.7h2.4v2.4h-2.4zM423.3 43.9h2.4v2.4h-2.4zM430.5 45.6h2.4v2.4h-2.4z"/>
<path fill="#375a8c" d="M387.5 0.7h2.4v2.4h-2.4zM387.4 4.6h2.4v2.4h-2.4zM396.3 6.4h2.4v2.4h-2.4zM412.4 21.4h2.4v2.4h-2.4zM416 36.5h2.4v2.4h-2.4zM421.5 41.9h2.4v2.4h-2.4zM428.6 51.3h2.4v2.4h-2.4zM421.7 55.1h2.4v2.4h-2.4zM429.3 57.2h2.4v2.4h-2.4zM428.8 58.9h2.4v2.4h-2.4zM429.4 60.3h2.4v2.4h-2.4zM418.1 62.9h2.4v2.4h-2.4zM423.7 66.3h2.4v2.4h-2.4zM423.9 68.9h2.4v2.4h-2.4z"/>
<path fill="#375b8d" d="M398.3 4.7h2.4v2.4h-2.4zM389.3 6.5h2.4v2.4h-2.4zM392.7 6.2h2.4v2.4h-2.4zM396.4 14.1h2.4v2.4h-2.4zM419.9 17.7h2.4v2.4h-2.4zM419.9 25.3h2.4v2.4h-2.4zM414.3 28.7h2.4v2.4h-2.4zM421.8 34.3h2.4v2.4h-2.4zM418 36.3h2.4v2.4h-2.4zM427.2 51.5h2.4v2.4h-2.4zM432.9 53.3h2.4v2.4h-2.4zM434.7 59.4h2.4v2.4h-2.4zM421.6 66h2.4v2.4h-2.4z"/>
<path fill="#38588c" d="M400 2.5h2.4v2.4h-2.4zM417.9 17.8h2.4v2.4h-2.4zM410.7 19.4h2.4v2.4h-2.4zM418.2 26.9h2.4v2.4h-2.4zM428.6 27h2.4v2.4h-2.4zM417.9 29.1h2.4v2.4h-2.4zM430.8 36.3h2.4v2.4h-2.4zM429 45.9h2.4v2.4h-2.4zM433.8 45.6h2.4v2.4h-2.4z"/>
<path fill="#38598c" d="M400.2 10.3h2.4v2.4h-2.4zM407.3 25.2h2.4v2.4h-2.4zM410.9 28.8h2.4v2.4h-2.4zM412.8 34.5h2.4v2.4h-2.4zM428.8 34.6h2.4v2.4h-2.4zM421.6 36.5h2.4v2.4h-2.4zM418 40.3h2.4v2.4h-2.4zM423.5 49.4h2.4v2.4h-2.4zM428.7 49.5h2.4v2.4h-2.4zM423.6 69.9h2.4v2.4h-2.4z"/>
<path fill="#38b977" d="M385.6 43.9h2.4v2.4h-2.4z"/>
<path fill="#39558c" d="M412.8 2.5h2.4v2.4h-2.4zM410.8 17.7h2.4v2.4h-2.4zM416.1 19.4h2.4v2.4h-2.4zM414.4 23.4h2.4v2.4h-2.4zM420 30.7h2.4v2.4h-2.4zM432.6 40.1h2.4v2.4h-2.4zM419.7 42.2h2.4v2.4h-2.4zM430.7 43.9h2.4v2.4h-2.4zM416.1 49.7h2.4v2.4h-2.4zM423.4 51.3h2.4v2.4h-2.4zM432.8 56.7h2.4v2.4h-2.4z"/>
<path fill="#39568c" d="M394.6 6.6h2.4v2.4h-2.4zM405.5 15.9h2.4v2.4h-2.4zM416.2 25.2h2.4v2.4h-2.4zM419.9 34.6h2.4v2.4h-2.4zM426.8 38.4h2.4v2.4h-2.4zM435.7 40.3h2.4v2.4h-2.4zM425.2 46h2.4v2.4h-2.4zM427 49.4h2.4v2.4h-2.4zM428.6 55.2h2.4v2.4h-2.4zM425 66.4h2.4v2.4h-2.4z"/>
<path fill="#3a538b" d="M389.1 1h2.4v2.4h-2.4zM394.6 0.6h2.4v2.4h-2.4zM396.2 4.5h2.4v2.4h-2.4zM394.5 8.3h2.4v2.4h-2.4zM399.9 12.1h2.4v2.4h-2.4zM410.7 14.1h2.4v2.4h-2.4zM418.1 14h2.4v2.4h-2.4zM410.6 21.4h2.4v2.4h-2.4zM412.7 23.5h2.4v2.4h-2.4zM418.2 25.3h2.4v2.4h-2.4zM421.7 27h2.4v2.4h-2.4zM423.2 30.9h2.4v2.4h-2.4zM428.8 32.5h2.4v2.4h-2.4zM414.3 36.4h2.4v2.4h-2.4zM437.5 36.7h2.4v2.4h-2.4zM429 38.1h2.4v2.4h-2.4zM425.1 42.2h2.4v2.4h-2.4zM432.6 42.2h2.4v2.4h-2.4zM421.5 45.8h2.4v2.4h-2.4zM419.7 62.7h2.4v2.4h-2.4z"/>
<path fill="#3a548c" d="M400.1 8.1h2.4v2.4h-2.4zM402 12h2.4v2.4h-2.4zM400 13.9h2.4v2.4h-2.4zM407.3 13.7h2.4v2.4h-2.4zM405.3 17.5h2.4v2.4h-2.4zM414.3 25h2.4v2.4h-2.4zM416.3 28.9h2.4v2.4h-2.4zM423.3 32.7h2.4v2.4h-2.4zM416.1 45.7h2.4v2.4h-2.4zM434.5 51.2h2.4v2.4h-2.4zM423.3 55.1h2.4v2.4h-2.4zM431 54.8h2.4v2.4h-2.4z"/>
<path fill="#3aba76" d="M398 62.7h2.4v2.4h-2.4z"/>
<path fill="#3b518b" d="M385.5 -1h2.4v2.4h-2.4zM409.2 15.9h2.4v2.4h-2.4zM418.2 30.7h2.4v2.4h-2.4zM430.6 32.6h2.4v2.4h-2.4zM419.9 36.4h2.4v2.4h-2.4zM432.2 36.6h2.4v2.4h-2.4zM426.8 40h2.4v2.4h-2.4zM418 45.9h2.4v2.4h-2.4zM425.1 49.6h2.4v2.4h-2.4zM437.9 50.9h2.4v2.4h-2.4zM433.8 61h2.4v2.4h-2.4zM420.4 70.3h2.4v2.4h-2.4z"/>
<path fill="#3b528b" d="M398.4 6.5h2.4v2.4h-2.4zM425 23.3h2.4v2.4h-2.4zM423.5 27h2.4v2.4h-2.4zM425.1 30.8h2.4v2.4h-2.4zM420 32.6h2.4v2.4h-2.4zM430.8 47.5h2.4v2.4h-2.4zM423 64.9h2.4v2.4h-2.4z"/>
<path fill="#3bbb75" d="M391.1 36.6h2.4v2.4h-2.4zM389.1 47.6h2.4v2.4h-2.4zM385.6 53.3h2.4v2.4h-2.4z"/>
<path fill="#3c4f8a" d="M389.4 2.8h2.4v2.4h-2.4zM403.7 14.1h2.4v2.4h-2.4zM412.8 19.5h2.4v2.4h-2.4zM421.6 30.9h2.4v2.4h-2.4zM429 30.6h2.4v2.4h-2.4zM443 38.7h2.4v2.4h-2.4zM443.1 40.4h2.4v2.4h-2.4zM427 53.4h2.4v2.4h-2.4zM423.2 62.2h2.4v2.4h-2.4z"/>
<path fill="#3c508b" d="M385.6 0.6h2.4v2.4h-2.4zM401.9 8.1h2.4v2.4h-2.4zM414.6 10.4h2.4v2.4h-2.4zM407.3 15.6h2.4v2.4h-2.4zM439.7 27.1h2.4v2.4h-2.4zM439.8 32.2h2.4v2.4h-2.4zM419.8 38.3h2.4v2.4h-2.4zM434.5 50.3h2.4v2.4h-2.4zM425.3 51.4h2.4v2.4h-2.4z"/>
<path fill="#3d4d8a" d="M383.7 2.7h2.4v2.4h-2.4zM401.7 4.4h2.4v2.4h-2.4zM396.5 8.4h2.4v2.4h-2.4zM405.5 12h2.4v2.4h-2.4zM412.5 14h2.4v2.4h-2.4zM427.1 21.6h2.4v2.4h-2.4zM428.9 21.3h2.4v2.4h-2.4zM430.8 28.8h2.4v2.4h-2.4zM432.6 32.8h2.4v2.4h-2.4zM423.4 38.4h2.4v2.4h-2.4zM423.5 40.1h2.4v2.4h-2.4z"/>
<path fill="#3d4e8a" d="M407.2 4.4h2.4v2.4h-2.4zM401.7 6.6h2.4v2.4h-2.4zM403.8 10.1h2.4v2.4h-2.4zM407.1 11.9h2.4v2.4h-2.4zM434.1 13.7h2.4v2.4h-2.4zM412.5 30.7h2.4v2.4h-2.4zM416.3 34.6h2.4v2.4h-2.4zM430.5 40h2.4v2.4h-2.4zM427.2 42h2.4v2.4h-2.4z"/>
<path fill="#3dbc74" d="M389 34.4h2.4v2.4h-2.4zM392.7 47.7h2.4v2.4h-2.4zM396.5 64.6h2.4v2.4h-2.4zM398.1 64.6h2.4v2.4h-2.4z"/>
<path fill="#3e4989" d="M430.8 -1.3h2.4v2.4h-2.4zM409 6.6h2.4v2.4h-2.4zM405.4 10.2h2.4v2.4h-2.4zM427 23.4h2.4v2.4h-2.4zM421.7 29h2.4v2.4h-2.4zM427 28.9h2.4v2.4h-2.4zM418.1 32.8h2.4v2.4h-2.4zM425 32.5h2.4v2.4h-2.4zM445 38.5h2.4v2.4h-2.4zM434.1 40.2h2.4v2.4h-2.4zM428.6 47.8h2.4v2.4h-2.4z"/>
<path fill="#3e4a89" d="M414.4 -1.1h2.4v2.4h-2.4zM384 0.8h2.4v2.4h-2.4zM416.4 17.7h2.4v2.4h-2.4zM430.8 27.1h2.4v2.4h-2.4zM426.8 30.8h2.4v2.4h-2.4zM421.4 40.2h2.4v2.4h-2.4zM441.3 42.5h2.4v2.4h-2.4zM421.4 47.7h2.4v2.4h-2.4z"/>
<path fill="#3e4c8a" d="M409.2 12h2.4v2.4h-2.4zM410.8 15.9h2.4v2.4h-2.4zM409.1 19.7h2.4v2.4h-2.4zM430.5 34.4h2.4v2.4h-2.4zM450.8 35h2.4v2.4h-2.4zM434.1 36.5h2.4v2.4h-2.4zM439.1 48.8h2.4v2.4h-2.4zM421.9 70.8h2.4v2.4h-2.4z"/>
<path fill="#3f4788" d="M396.4 1h2.4v2.4h-2.4zM421.6 4.5h2.4v2.4h-2.4zM407.4 8.5h2.4v2.4h-2.4zM417.9 10.1h2.4v2.4h-2.4zM419.8 15.8h2.4v2.4h-2.4zM423.6 23.2h2.4v2.4h-2.4zM439.7 25.3h2.4v2.4h-2.4zM420 29h2.4v2.4h-2.4zM432.5 30.7h2.4v2.4h-2.4zM427.2 34.6h2.4v2.4h-2.4zM443.6 34.7h2.4v2.4h-2.4zM441.5 47.7h2.4v2.4h-2.4zM436.4 55.1h2.4v2.4h-2.4z"/>
<path fill="#3f4889" d="M392.7 0.9h2.4v2.4h-2.4zM396.2 2.7h2.4v2.4h-2.4zM398.1 2.8h2.4v2.4h-2.4zM391 4.7h2.4v2.4h-2.4zM403.5 8.4h2.4v2.4h-2.4zM421.6 13.9h2.4v2.4h-2.4zM420 19.7h2.4v2.4h-2.4zM414.4 21.5h2.4v2.4h-2.4zM450.5 25.5h2.4v2.4h-2.4zM453.7 34h2.4v2.4h-2.4zM428.9 44h2.4v2.4h-2.4zM427.1 45.8h2.4v2.4h-2.4zM432.2 45.6h2.4v2.4h-2.4zM433.5 53.3h2.4v2.4h-2.4z"/>
<path fill="#3fbc73" d="M394.8 45.6h2.4v2.4h-2.4z"/>
<path fill="#404588" d="M414.4 17.8h2.4v2.4h-2.4zM421.5 23.2h2.4v2.4h-2.4zM428.7 23.2h2.4v2.4h-2.4zM454.1 23h2.4v2.4h-2.4zM441.6 27.4h2.4v2.4h-2.4zM423.6 28.8h2.4v2.4h-2.4zM454.6 29.4h2.4v2.4h-2.4zM423.3 36.2h2.4v2.4h-2.4zM416.3 40.1h2.4v2.4h-2.4zM419.6 43.9h2.4v2.4h-2.4zM430.7 49.7h2.4v2.4h-2.4zM434.4 54.7h2.4v2.4h-2.4z"/>
<path fill="#404688" d="M400.2 1h2.4v2.4h-2.4zM425.2 11.9h2.4v2.4h-2.4zM427.1 12.1h2.4v2.4h-2.4zM405.4 14.1h2.4v2.4h-2.4zM414.4 16h2.4v2.4h-2.4zM423.2 25.1h2.4v2.4h-2.4zM437.9 28.9h2.4v2.4h-2.4zM441.6 28.7h2.4v2.4h-2.4zM430.5 42.1h2.4v2.4h-2.4zM436.3 47.4h2.4v2.4h-2.4zM432.2 54.9h2.4v2.4h-2.4zM428.2 62.6h2.4v2.4h-2.4z"/>
<path fill="#40bd72" d="M387.3 43.9h2.4v2.4h-2.4zM396.3 58.8h2.4v2.4h-2.4z"/>
<path fill="#414287" d="M446.9 0.9h2.4v2.4h-2.4zM394.6 2.8h2.4v2.4h-2.4zM403.6 2.7h2.4v2.4h-2.4zM409.1 8.2h2.4v2.4h-2.4zM409.2 10h2.4v2.4h-2.4zM412.7 12h2.4v2.4h-2.4zM412.7 16h2.4v2.4h-2.4zM421.5 25.3h2.4v2.4h-2.4zM445.2 24.7h2.4v2.4h-2.4zM425.1 36.6h2.4v2.4h-2.4zM439.9 38.4h2.4v2.4h-2.4zM433.9 41.9h2.4v2.4h-2.4zM434 48.1h2.4v2.4h-2.4zM430.7 56.9h2.4v2.4h-2.4z"/>
<path fill="#414487" d="M391.1 -1.2h2.4v2.4h-2.4zM394.7 -1.1h2.4v2.4h-2.4zM401.6 0.9h2.4v2.4h-2.4zM405.4 1h2.4v2.4h-2.4zM401.6 2.6h2.4v2.4h-2.4zM400.1 4.5h2.4v2.4h-2.4zM401.8 10.2h2.4v2.4h-2.4zM416.2 21.4h2.4v2.4h-2.4zM430.6 21.3h2.4v2.4h-2.4zM428.8 25.3h2.4v2.4h-2.4zM430.4 31h2.4v2.4h-2.4zM434.2 38.4h2.4v2.4h-2.4zM439.3 39.8h2.4v2.4h-2.4zM441.6 39.8h2.4v2.4h-2.4zM423.4 42.1h2.4v2.4h-2.4z"/>
<path fill="#423f85" d="M405.5 -1.1h2.4v2.4h-2.4zM441.6 12.1h2.4v2.4h-2.4zM419.8 14h2.4v2.4h-2.4zM421.7 17.7h2.4v2.4h-2.4zM437.9 17.8h2.4v2.4h-2.4zM434.2 19.5h2.4v2.4h-2.4zM419.8 21.6h2.4v2.4h-2.4zM440 30.1h2.4v2.4h-2.4zM421.8 32.7h2.4v2.4h-2.4zM425.1 38.3h2.4v2.4h-2.4z"/>
<path fill="#424086" d="M436.1 6.6h2.4v2.4h-2.4zM410.8 8.4h2.4v2.4h-2.4zM412.8 8.1h2.4v2.4h-2.4zM398.1 10.1h2.4v2.4h-2.4zM416.2 10.3h2.4v2.4h-2.4zM426.9 13.8h2.4v2.4h-2.4zM418 15.8h2.4v2.4h-2.4zM427.1 19.6h2.4v2.4h-2.4zM437.9 25.1h2.4v2.4h-2.4zM425.4 26.9h2.4v2.4h-2.4zM443.3 32.6h2.4v2.4h-2.4zM446.7 34.1h2.4v2.4h-2.4zM435.7 45.9h2.4v2.4h-2.4zM432 51.7h2.4v2.4h-2.4zM436.7 57.4h2.4v2.4h-2.4z"/>
<path fill="#424186" d="M409 0.8h2.4v2.4h-2.4zM405.6 2.7h2.4v2.4h-2.4zM407.2 6.4h2.4v2.4h-2.4zM427.2 15.8h2.4v2.4h-2.4zM421.8 19.7h2.4v2.4h-2.4zM437.7 27h2.4v2.4h-2.4zM439.9 28.4h2.4v2.4h-2.4zM437.5 34.9h2.4v2.4h-2.4zM427.2 36.5h2.4v2.4h-2.4zM452.6 36.6h2.4v2.4h-2.4zM430.5 38.5h2.4v2.4h-2.4z"/>
<path fill="#42be71" d="M389.2 38.2h2.4v2.4h-2.4z"/>
<path fill="#433d84" d="M389.4 -1h2.4v2.4h-2.4zM407.4 2.6h2.4v2.4h-2.4zM412.4 4.5h2.4v2.4h-2.4zM421.7 10.3h2.4v2.4h-2.4zM423.5 21.3h2.4v2.4h-2.4zM430.7 23.2h2.4v2.4h-2.4zM434.1 23.1h2.4v2.4h-2.4zM437.8 23.3h2.4v2.4h-2.4zM448.3 38.7h2.4v2.4h-2.4zM428.9 40.2h2.4v2.4h-2.4zM432.6 44h2.4v2.4h-2.4zM439.4 45.9h2.4v2.4h-2.4z"/>
<path fill="#433e85" d="M390.9 0.8h2.4v2.4h-2.4zM412.5 1h2.4v2.4h-2.4zM392.8 2.8h2.4v2.4h-2.4zM416.1 6.6h2.4v2.4h-2.4zM409 14.1h2.4v2.4h-2.4zM432.6 13.9h2.4v2.4h-2.4zM447 16.3h2.4v2.4h-2.4zM412.6 17.8h2.4v2.4h-2.4zM427.2 17.6h2.4v2.4h-2.4zM423.4 19.4h2.4v2.4h-2.4zM436.2 30.9h2.4v2.4h-2.4zM428.9 36.5h2.4v2.4h-2.4zM439.5 44.7h2.4v2.4h-2.4z"/>
<path fill="#440154" d="M452 0.3h2.4v2.4h-2.4zM439.7 4.4h2.4v2.4h-2.4zM475.8 5.1h2.4v2.4h-2.4zM448.5 6.4h2.4v2.4h-2.4zM453.7 6.3h2.4v2.4h-2.4zM450.8 9.8h2.4v2.4h-2.4zM455.6 10.1h2.4v2.4h-2.4zM449 14.2h2.4v2.4h-2.4z"/>
<path fill="#440256" d="M452.1 -1.3h2.4v2.4h-2.4zM470.5 7h2.4v2.4h-2.4zM445 12.1h2.4v2.4h-2.4z"/>
<path fill="#443983" d="M400.2 -1.2h2.4v2.4h-2.4zM418.1 1h2.4v2.4h-2.4zM400.2 6.3h2.4v2.4h-2.4zM405.6 6.3h2.4v2.4h-2.4zM405.3 8.3h2.4v2.4h-2.4zM425.1 10.1h2.4v2.4h-2.4zM450.3 14.1h2.4v2.4h-2.4zM436.1 17.8h2.4v2.4h-2.4zM457.3 23.7h2.4v2.4h-2.4zM435.7 34.5h2.4v2.4h-2.4zM430.4 53.8h2.4v2.4h-2.4z"/>
<path fill="#443a83" d="M410.9 0.6h2.4v2.4h-2.4zM390.8 2.7h2.4v2.4h-2.4zM423.3 6.4h2.4v2.4h-2.4zM441.2 17.8h2.4v2.4h-2.4zM447.2 17.6h2.4v2.4h-2.4zM456.3 23.6h2.4v2.4h-2.4zM425.3 25h2.4v2.4h-2.4zM434.2 25.1h2.4v2.4h-2.4zM462.6 24.9h2.4v2.4h-2.4zM437.5 42.5h2.4v2.4h-2.4z"/>
<path fill="#443b84" d="M398.1 1h2.4v2.4h-2.4zM403.4 0.6h2.4v2.4h-2.4zM419.9 8.3h2.4v2.4h-2.4zM447 10.3h2.4v2.4h-2.4zM416.4 13.9h2.4v2.4h-2.4zM432.6 15.7h2.4v2.4h-2.4zM423.5 17.9h2.4v2.4h-2.4zM428.7 17.7h2.4v2.4h-2.4zM436.1 19.6h2.4v2.4h-2.4zM441.3 19.5h2.4v2.4h-2.4zM425.4 21.2h2.4v2.4h-2.4zM448.5 23.4h2.4v2.4h-2.4zM461.5 23.7h2.4v2.4h-2.4zM436.1 27h2.4v2.4h-2.4zM425.1 29.1h2.4v2.4h-2.4zM436.8 36.7h2.4v2.4h-2.4zM442 38h2.4v2.4h-2.4zM436.3 41.5h2.4v2.4h-2.4z"/>
<path fill="#450457" d="M462.6 2.8h2.4v2.4h-2.4zM470.1 4.6h2.4v2.4h-2.4zM445.1 6.2h2.4v2.4h-2.4z"/>
<path fill="#450559" d="M458 0.1h2.4v2.4h-2.4zM473.9 2.1h2.4v2.4h-2.4zM457.6 6h2.4v2.4h-2.4zM466.4 7.8h2.4v2.4h-2.4zM452.3 25.2h2.4v2.4h-2.4z"/>
<path fill="#453581" d="M398.1 -1.1h2.4v2.4h-2.4zM450.4 2.4h2.4v2.4h-2.4zM434.2 6.2h2.4v2.4h-2.4zM444.9 10.1h2.4v2.4h-2.4zM410.9 12h2.4v2.4h-2.4zM448.7 18.2h2.4v2.4h-2.4zM417.8 19.4h2.4v2.4h-2.4zM441.5 21.4h2.4v2.4h-2.4zM446.6 31.3h2.4v2.4h-2.4zM437.4 45.2h2.4v2.4h-2.4zM435.9 51.5h2.4v2.4h-2.4z"/>
<path fill="#453781" d="M461.2 0.5h2.4v2.4h-2.4zM430.6 2.6h2.4v2.4h-2.4zM428.7 10.2h2.4v2.4h-2.4zM425.2 19.7h2.4v2.4h-2.4zM445.5 20.2h2.4v2.4h-2.4zM432.5 38.1h2.4v2.4h-2.4zM443.6 42.7h2.4v2.4h-2.4zM437.1 47.2h2.4v2.4h-2.4z"/>
<path fill="#453882" d="M407.4 0.8h2.4v2.4h-2.4zM450.3 4.2h2.4v2.4h-2.4zM414.5 6.5h2.4v2.4h-2.4zM460.8 6.2h2.4v2.4h-2.4zM432.4 10.1h2.4v2.4h-2.4zM419.9 12h2.4v2.4h-2.4zM430.7 12.1h2.4v2.4h-2.4zM437.7 19.7h2.4v2.4h-2.4zM432.3 25h2.4v2.4h-2.4zM446.9 29.6h2.4v2.4h-2.4zM455.4 30.9h2.4v2.4h-2.4zM435.9 32.5h2.4v2.4h-2.4zM438 32.5h2.4v2.4h-2.4zM447.4 36.2h2.4v2.4h-2.4zM439.9 42.3h2.4v2.4h-2.4zM434.4 43.8h2.4v2.4h-2.4zM436 43.2h2.4v2.4h-2.4z"/>
<path fill="#46075a" d="M466.3 -1.3h2.4v2.4h-2.4zM470.2 2.2h2.4v2.4h-2.4zM460.1 6.3h2.4v2.4h-2.4z"/>
<path fill="#46085c" d="M443.4 2.8h2.4v2.4h-2.4zM451.5 5.2h2.4v2.4h-2.4zM447.5 14.5h2.4v2.4h-2.4zM447.5 23.5h2.4v2.4h-2.4z"/>
<path fill="#460a5d" d="M441.6 4.4h2.4v2.4h-2.4zM452.7 6.8h2.4v2.4h-2.4zM450.6 7.6h2.4v2.4h-2.4zM463.2 9.6h2.4v2.4h-2.4zM447 25h2.4v2.4h-2.4z"/>
<path fill="#460b5e" d="M464.5 -1.2h2.4v2.4h-2.4z"/>
<path fill="#46307e" d="M403.6 -1.2h2.4v2.4h-2.4zM425.2 -1.2h2.4v2.4h-2.4zM436.2 4.4h2.4v2.4h-2.4zM425.1 8.4h2.4v2.4h-2.4zM444.9 8.2h2.4v2.4h-2.4zM441.6 10.3h2.4v2.4h-2.4zM421.6 12.2h2.4v2.4h-2.4zM432.4 12.1h2.4v2.4h-2.4zM439.5 12h2.4v2.4h-2.4zM448.9 15.9h2.4v2.4h-2.4zM450.4 18.1h2.4v2.4h-2.4zM428.9 28.9h2.4v2.4h-2.4zM425.4 34.4h2.4v2.4h-2.4zM432.3 34.5h2.4v2.4h-2.4zM442.8 36h2.4v2.4h-2.4z"/>
<path fill="#46327e" d="M410.6 -1.1h2.4v2.4h-2.4zM412.5 -1h2.4v2.4h-2.4zM409 4.5h2.4v2.4h-2.4zM423.3 8.3h2.4v2.4h-2.4zM410.8 10.1h2.4v2.4h-2.4zM430.5 16h2.4v2.4h-2.4zM439.8 23.1h2.4v2.4h-2.4zM427 25.3h2.4v2.4h-2.4zM430.5 25h2.4v2.4h-2.4zM448.3 29.3h2.4v2.4h-2.4zM437.6 49.9h2.4v2.4h-2.4z"/>
<path fill="#46337f" d="M416 0.8h2.4v2.4h-2.4zM407.4 10h2.4v2.4h-2.4zM425.1 14.1h2.4v2.4h-2.4zM439.7 19.6h2.4v2.4h-2.4zM448.3 24.5h2.4v2.4h-2.4zM432.5 26.9h2.4v2.4h-2.4zM450 27.2h2.4v2.4h-2.4zM435.9 28.9h2.4v2.4h-2.4zM451.6 29.2h2.4v2.4h-2.4zM427.2 32.7h2.4v2.4h-2.4zM457 33h2.4v2.4h-2.4z"/>
<path fill="#463480" d="M407.3 -1.1h2.4v2.4h-2.4zM414.5 0.9h2.4v2.4h-2.4zM416.4 2.5h2.4v2.4h-2.4zM418 2.8h2.4v2.4h-2.4zM479.8 3.2h2.4v2.4h-2.4zM416.2 4.5h2.4v2.4h-2.4zM465.2 4.9h2.4v2.4h-2.4zM427 6.4h2.4v2.4h-2.4zM428.8 6.4h2.4v2.4h-2.4zM417.9 8.4h2.4v2.4h-2.4zM434.1 21.5h2.4v2.4h-2.4zM434.4 27.2h2.4v2.4h-2.4z"/>
<path fill="#46c06f" d="M392.8 38.2h2.4v2.4h-2.4zM383.7 51.4h2.4v2.4h-2.4zM400 56.9h2.4v2.4h-2.4zM396.3 62.5h2.4v2.4h-2.4z"/>
<path fill="#470d60" d="M446.7 -1.1h2.4v2.4h-2.4zM485.9 1.4h2.4v2.4h-2.4zM437.9 8.3h2.4v2.4h-2.4zM454.2 8.3h2.4v2.4h-2.4zM429 15.6h2.4v2.4h-2.4z"/>
<path fill="#470e61" d="M448.4 -1.2h2.4v2.4h-2.4zM462.4 0.4h2.4v2.4h-2.4zM452.4 3h2.4v2.4h-2.4zM466 2.8h2.4v2.4h-2.4zM443.2 6.3h2.4v2.4h-2.4zM457.8 17.7h2.4v2.4h-2.4zM444.6 40h2.4v2.4h-2.4z"/>
<path fill="#471063" d="M458 -0.6h2.4v2.4h-2.4zM459.9 -0.6h2.4v2.4h-2.4zM423.5 0.7h2.4v2.4h-2.4zM451.9 8.3h2.4v2.4h-2.4zM454.5 21.7h2.4v2.4h-2.4z"/>
<path fill="#471164" d="M443 0.8h2.4v2.4h-2.4zM468.5 2.7h2.4v2.4h-2.4zM475.9 2.5h2.4v2.4h-2.4zM482.8 3.1h2.4v2.4h-2.4zM448.6 19.2h2.4v2.4h-2.4zM459.1 25.1h2.4v2.4h-2.4zM461.1 25.3h2.4v2.4h-2.4z"/>
<path fill="#471365" d="M439.5 -1.3h2.4v2.4h-2.4zM465.2 0.5h2.4v2.4h-2.4zM445 2.5h2.4v2.4h-2.4zM447 4.6h2.4v2.4h-2.4zM459.4 11.9h2.4v2.4h-2.4zM430.6 14.1h2.4v2.4h-2.4zM459.3 16.2h2.4v2.4h-2.4zM443.2 19.6h2.4v2.4h-2.4z"/>
<path fill="#472a7a" d="M437.7 -1.3h2.4v2.4h-2.4zM425.1 0.7h2.4v2.4h-2.4zM441.3 0.7h2.4v2.4h-2.4zM409.1 2.7h2.4v2.4h-2.4zM434.3 2.9h2.4v2.4h-2.4zM430.8 4.3h2.4v2.4h-2.4zM457.7 10.3h2.4v2.4h-2.4zM434.1 12.2h2.4v2.4h-2.4zM436.2 12.2h2.4v2.4h-2.4zM468.3 13.6h2.4v2.4h-2.4zM416.4 15.8h2.4v2.4h-2.4zM420 23.3h2.4v2.4h-2.4zM436.2 23.3h2.4v2.4h-2.4zM444.6 27.7h2.4v2.4h-2.4zM449.8 28.7h2.4v2.4h-2.4zM449 33.2h2.4v2.4h-2.4z"/>
<path fill="#472c7a" d="M426.9 0.9h2.4v2.4h-2.4zM470.7 8.1h2.4v2.4h-2.4zM416.2 12.2h2.4v2.4h-2.4zM423.6 15.6h2.4v2.4h-2.4zM450.1 30.4h2.4v2.4h-2.4z"/>
<path fill="#472d7b" d="M421.6 -1.2h2.4v2.4h-2.4zM441.5 -1.1h2.4v2.4h-2.4zM443.1 -1.1h2.4v2.4h-2.4zM403.8 4.7h2.4v2.4h-2.4zM425.2 4.6h2.4v2.4h-2.4zM444.9 4.5h2.4v2.4h-2.4zM416 8.3h2.4v2.4h-2.4zM423.6 10.2h2.4v2.4h-2.4zM439.6 10.1h2.4v2.4h-2.4zM429 13.8h2.4v2.4h-2.4zM439.7 13.9h2.4v2.4h-2.4zM457.4 30.5h2.4v2.4h-2.4zM434.3 34.4h2.4v2.4h-2.4z"/>
<path fill="#472e7c" d="M468.8 -0.8h2.4v2.4h-2.4zM477.8 -1.2h2.4v2.4h-2.4zM471.9 3h2.4v2.4h-2.4zM432.4 6.5h2.4v2.4h-2.4zM423.3 13.9h2.4v2.4h-2.4zM443.1 15.7h2.4v2.4h-2.4zM446.8 20.8h2.4v2.4h-2.4zM448.3 21.5h2.4v2.4h-2.4zM461.8 27.4h2.4v2.4h-2.4zM438.1 30.6h2.4v2.4h-2.4zM441.4 32.2h2.4v2.4h-2.4z"/>
<path fill="#472f7d" d="M396.5 -1.1h2.4v2.4h-2.4zM416 -1h2.4v2.4h-2.4zM428.6 2.8h2.4v2.4h-2.4zM432.3 2.6h2.4v2.4h-2.4zM437.8 2.7h2.4v2.4h-2.4zM405.2 4.4h2.4v2.4h-2.4zM418.1 4.5h2.4v2.4h-2.4zM446.9 8.2h2.4v2.4h-2.4zM452.5 12.2h2.4v2.4h-2.4zM425.3 15.9h2.4v2.4h-2.4zM454 18.1h2.4v2.4h-2.4zM430.7 19.6h2.4v2.4h-2.4zM441.5 23.4h2.4v2.4h-2.4zM441.8 24.6h2.4v2.4h-2.4zM434 29.1h2.4v2.4h-2.4zM444.8 30.9h2.4v2.4h-2.4zM437.4 38.3h2.4v2.4h-2.4z"/>
<path fill="#481467" d="M485 -1h2.4v2.4h-2.4zM453.9 1.2h2.4v2.4h-2.4zM464.6 3h2.4v2.4h-2.4zM426.8 4.4h2.4v2.4h-2.4zM434.2 10.3h2.4v2.4h-2.4zM448.9 10.4h2.4v2.4h-2.4zM461.6 14h2.4v2.4h-2.4zM455.5 15.7h2.4v2.4h-2.4z"/>
<path fill="#481668" d="M434.1 -1.1h2.4v2.4h-2.4zM444.9 0.9h2.4v2.4h-2.4zM477.5 0.3h2.4v2.4h-2.4zM455.6 2.1h2.4v2.4h-2.4zM441.5 13.7h2.4v2.4h-2.4zM444.9 17.8h2.4v2.4h-2.4zM466.1 19.3h2.4v2.4h-2.4zM457.9 21.7h2.4v2.4h-2.4z"/>
<path fill="#481769" d="M446.7 2.7h2.4v2.4h-2.4zM434.1 8.4h2.4v2.4h-2.4zM464.5 15.3h2.4v2.4h-2.4z"/>
<path fill="#48186a" d="M445 -1h2.4v2.4h-2.4zM486.2 -1.5h2.4v2.4h-2.4zM419.6 0.8h2.4v2.4h-2.4zM436.1 0.8h2.4v2.4h-2.4zM477.2 2.7h2.4v2.4h-2.4zM459.4 4.2h2.4v2.4h-2.4zM464.8 6.5h2.4v2.4h-2.4zM457.9 8.1h2.4v2.4h-2.4zM461 7.9h2.4v2.4h-2.4zM453.6 9.8h2.4v2.4h-2.4zM428.8 12h2.4v2.4h-2.4zM445.1 13.9h2.4v2.4h-2.4zM462.6 13.6h2.4v2.4h-2.4z"/>
<path fill="#481a6c" d="M439.7 0.6h2.4v2.4h-2.4zM419.8 2.8h2.4v2.4h-2.4zM439.7 2.5h2.4v2.4h-2.4zM453.8 3.3h2.4v2.4h-2.4zM420 6.6h2.4v2.4h-2.4zM439.7 6.3h2.4v2.4h-2.4zM421.8 8.2h2.4v2.4h-2.4zM432.6 8.4h2.4v2.4h-2.4zM437.8 10.2h2.4v2.4h-2.4zM443.2 12h2.4v2.4h-2.4zM432.2 19.4h2.4v2.4h-2.4zM439.7 21.3h2.4v2.4h-2.4z"/>
<path fill="#481b6d" d="M427.1 -0.9h2.4v2.4h-2.4zM454.3 -1.5h2.4v2.4h-2.4zM425.1 2.7h2.4v2.4h-2.4zM441.5 8.3h2.4v2.4h-2.4zM443.3 8.3h2.4v2.4h-2.4zM472.4 12.5h2.4v2.4h-2.4zM436.1 14h2.4v2.4h-2.4zM457.5 13.8h2.4v2.4h-2.4zM445 15.7h2.4v2.4h-2.4zM436.1 21.4h2.4v2.4h-2.4zM456.1 21.4h2.4v2.4h-2.4zM463.5 21.2h2.4v2.4h-2.4zM448.3 26.8h2.4v2.4h-2.4zM458 26.7h2.4v2.4h-2.4z"/>
<path fill="#481c6e" d="M455.4 -1.1h2.4v2.4h-2.4zM461.6 -0.6h2.4v2.4h-2.4zM430.6 0.6h2.4v2.4h-2.4zM455.2 1.1h2.4v2.4h-2.4zM466.6 0.7h2.4v2.4h-2.4zM461.5 4.9h2.4v2.4h-2.4zM455.5 8.2h2.4v2.4h-2.4zM448.5 36.2h2.4v2.4h-2.4z"/>
<path fill="#481d6f" d="M409 -1.1h2.4v2.4h-2.4zM462.6 -0.8h2.4v2.4h-2.4zM488.3 -0.6h2.4v2.4h-2.4zM459.7 0.6h2.4v2.4h-2.4zM459.5 3.3h2.4v2.4h-2.4zM410.8 4.7h2.4v2.4h-2.4zM441.6 6.4h2.4v2.4h-2.4zM448.5 8.2h2.4v2.4h-2.4zM430.4 10.1h2.4v2.4h-2.4zM443.2 10.3h2.4v2.4h-2.4zM443.4 14h2.4v2.4h-2.4zM458 15.6h2.4v2.4h-2.4zM452.7 20h2.4v2.4h-2.4zM443.4 21h2.4v2.4h-2.4zM450.3 21.9h2.4v2.4h-2.4zM461.1 21.8h2.4v2.4h-2.4zM443.1 22.8h2.4v2.4h-2.4z"/>
<path fill="#481f70" d="M401.8 -1.1h2.4v2.4h-2.4zM434.4 0.7h2.4v2.4h-2.4zM448.8 0.6h2.4v2.4h-2.4zM427 8.3h2.4v2.4h-2.4zM446.9 12h2.4v2.4h-2.4zM450.5 12.1h2.4v2.4h-2.4zM439.8 15.7h2.4v2.4h-2.4zM453.6 16.1h2.4v2.4h-2.4zM428.8 19.5h2.4v2.4h-2.4zM437.6 21.3h2.4v2.4h-2.4zM443.6 29.5h2.4v2.4h-2.4zM452.3 30.3h2.4v2.4h-2.4z"/>
<path fill="#482071" d="M432.4 -1h2.4v2.4h-2.4zM478.9 -1.4h2.4v2.4h-2.4zM450.6 0.8h2.4v2.4h-2.4zM470.1 0.3h2.4v2.4h-2.4zM419.7 4.4h2.4v2.4h-2.4zM457.6 5h2.4v2.4h-2.4zM428.7 8.1h2.4v2.4h-2.4zM430.5 8.1h2.4v2.4h-2.4zM435.9 10.3h2.4v2.4h-2.4zM460 13.6h2.4v2.4h-2.4zM443.2 17.8h2.4v2.4h-2.4zM444.8 21.8h2.4v2.4h-2.4z"/>
<path fill="#482173" d="M419.8 -1h2.4v2.4h-2.4zM428.8 -1h2.4v2.4h-2.4zM435.9 -1.2h2.4v2.4h-2.4zM421.8 0.7h2.4v2.4h-2.4zM436.1 2.5h2.4v2.4h-2.4zM448.6 2.8h2.4v2.4h-2.4zM414.6 4.4h2.4v2.4h-2.4zM455.5 4.7h2.4v2.4h-2.4zM472.2 4.6h2.4v2.4h-2.4zM425.2 6.4h2.4v2.4h-2.4zM456 20.1h2.4v2.4h-2.4z"/>
<path fill="#482374" d="M423.5 -1.1h2.4v2.4h-2.4zM450.5 -1.1h2.4v2.4h-2.4zM414.5 2.5h2.4v2.4h-2.4zM468.3 4h2.4v2.4h-2.4zM437.8 6.5h2.4v2.4h-2.4zM414.5 8.3h2.4v2.4h-2.4zM439.8 8.3h2.4v2.4h-2.4zM448.4 12.3h2.4v2.4h-2.4zM456.3 11.4h2.4v2.4h-2.4zM452.7 14.5h2.4v2.4h-2.4zM454.4 14.3h2.4v2.4h-2.4zM430.6 17.7h2.4v2.4h-2.4z"/>
<path fill="#482475" d="M432.4 0.8h2.4v2.4h-2.4zM469 0.5h2.4v2.4h-2.4zM427.1 2.8h2.4v2.4h-2.4zM412.5 6.5h2.4v2.4h-2.4zM468.1 6.4h2.4v2.4h-2.4zM419.7 10h2.4v2.4h-2.4zM427 10.2h2.4v2.4h-2.4zM453.9 12.6h2.4v2.4h-2.4zM438 14h2.4v2.4h-2.4zM432.6 23.3h2.4v2.4h-2.4zM445.6 23.1h2.4v2.4h-2.4zM443 25.8h2.4v2.4h-2.4zM446.2 27.4h2.4v2.4h-2.4zM439.9 36h2.4v2.4h-2.4z"/>
<path fill="#482576" d="M418.2 -1h2.4v2.4h-2.4zM437.7 0.6h2.4v2.4h-2.4zM441.6 2.5h2.4v2.4h-2.4zM423.3 4.7h2.4v2.4h-2.4zM428.9 4.5h2.4v2.4h-2.4zM432.3 4.6h2.4v2.4h-2.4zM462.8 5.1h2.4v2.4h-2.4zM430.6 6.5h2.4v2.4h-2.4zM446.7 6.4h2.4v2.4h-2.4zM461.7 10.5h2.4v2.4h-2.4zM418 12h2.4v2.4h-2.4zM437.8 12h2.4v2.4h-2.4zM456.2 14.1h2.4v2.4h-2.4zM434.2 15.9h2.4v2.4h-2.4zM437.6 15.8h2.4v2.4h-2.4zM461.5 16.2h2.4v2.4h-2.4zM434.1 17.7h2.4v2.4h-2.4zM464.7 18.1h2.4v2.4h-2.4zM452.3 23.7h2.4v2.4h-2.4zM432.4 29.1h2.4v2.4h-2.4zM444.8 32.9h2.4v2.4h-2.4z"/>
<path fill="#482677" d="M428.9 0.8h2.4v2.4h-2.4zM410.9 2.9h2.4v2.4h-2.4zM421.5 2.9h2.4v2.4h-2.4zM436 8.2h2.4v2.4h-2.4zM403.5 11.9h2.4v2.4h-2.4zM414.3 11.9h2.4v2.4h-2.4zM414.2 13.9h2.4v2.4h-2.4zM441.5 15.7h2.4v2.4h-2.4zM450.2 19h2.4v2.4h-2.4zM432.5 21.4h2.4v2.4h-2.4zM443.9 30.8h2.4v2.4h-2.4z"/>
<path fill="#482878" d="M437.8 4.6h2.4v2.4h-2.4zM448.5 4.6h2.4v2.4h-2.4zM454.7 4.4h2.4v2.4h-2.4zM411 6.4h2.4v2.4h-2.4zM423.4 12h2.4v2.4h-2.4zM421.4 15.8h2.4v2.4h-2.4zM436.1 15.8h2.4v2.4h-2.4zM432.3 17.5h2.4v2.4h-2.4zM436.1 25h2.4v2.4h-2.4zM458 28.7h2.4v2.4h-2.4zM441.5 30.9h2.4v2.4h-2.4zM441.8 36.3h2.4v2.4h-2.4z"/>
<path fill="#482979" d="M423.3 2.8h2.4v2.4h-2.4zM434.2 4.6h2.4v2.4h-2.4zM443.4 4.5h2.4v2.4h-2.4zM466.1 4.4h2.4v2.4h-2.4zM418.1 6.4h2.4v2.4h-2.4zM421.6 6.3h2.4v2.4h-2.4zM425.1 17.5h2.4v2.4h-2.4zM454.2 20.1h2.4v2.4h-2.4zM456.5 34.5h2.4v2.4h-2.4z"/>
<path fill="#48c16e" d="M392.7 44.1h2.4v2.4h-2.4z"/>
<path fill="#4ac16d" d="M389.4 40.4h2.4v2.4h-2.4z"/>
<path fill="#4cc26c" d="M385.8 51.2h2.4v2.4h-2.4zM385.7 57h2.4v2.4h-2.4zM396.3 56.9h2.4v2.4h-2.4z"/>
<path fill="#4ec36b" d="M392.6 42.1h2.4v2.4h-2.4z"/>
<path fill="#50c46a" d="M387.5 45.8h2.4v2.4h-2.4zM394.7 58.8h2.4v2.4h-2.4z"/>
<path fill="#52c569" d="M396.3 60.9h2.4v2.4h-2.4z"/>
<path fill="#54c568" d="M391.1 42h2.4v2.4h-2.4z"/>
<path fill="#56c667" d="M385.6 49.7h2.4v2.4h-2.4zM394.5 49.5h2.4v2.4h-2.4zM396.3 55.3h2.4v2.4h-2.4z"/>
<path fill="#58c765" d="M389.1 43.8h2.4v2.4h-2.4zM383.7 55.1h2.4v2.4h-2.4z"/>
<path fill="#5ac864" d="M385.7 55.1h2.4v2.4h-2.4zM394.4 60.8h2.4v2.4h-2.4z"/>
<path fill="#5cc863" d="M391 40.3h2.4v2.4h-2.4zM394.4 53.2h2.4v2.4h-2.4z"/>
<path fill="#5ec962" d="M394.7 51.5h2.4v2.4h-2.4z"/>
<path fill="#60ca60" d="M387.5 42h2.4v2.4h-2.4zM383.9 57h2.4v2.4h-2.4z"/>
<path fill="#63cb5f" d="M389.2 46h2.4v2.4h-2.4zM392.7 45.9h2.4v2.4h-2.4z"/>
<path fill="#65cb5e" d="M392.9 51.3h2.4v2.4h-2.4zM383.9 58.9h2.4v2.4h-2.4zM392.8 60.7h2.4v2.4h-2.4z"/>
<path fill="#67cc5c" d="M389 42h2.4v2.4h-2.4zM394.5 57h2.4v2.4h-2.4z"/>
<path fill="#6ccd5a" d="M392.9 59.1h2.4v2.4h-2.4z"/>
<path fill="#6ece58" d="M391 49.4h2.4v2.4h-2.4zM392.8 53.5h2.4v2.4h-2.4z"/>
<path fill="#70cf57" d="M387.4 58.8h2.4v2.4h-2.4z"/>
<path fill="#73d056" d="M387.6 47.6h2.4v2.4h-2.4zM385.7 59.1h2.4v2.4h-2.4z"/>
<path fill="#75d054" d="M394.7 55.3h2.4v2.4h-2.4z"/>
<path fill="#7ad151" d="M391 45.9h2.4v2.4h-2.4z"/>
<path fill="#7fd34e" d="M387.2 51.6h2.4v2.4h-2.4zM387.5 57.1h2.4v2.4h-2.4z"/>
<path fill="#81d34d" d="M394.4 62.7h2.4v2.4h-2.4z"/>
<path fill="#84d44b" d="M390.8 47.8h2.4v2.4h-2.4z"/>
<path fill="#86d549" d="M387.6 53.2h2.4v2.4h-2.4zM392.7 55.1h2.4v2.4h-2.4z"/>
<path fill="#8bd646" d="M387.3 55.1h2.4v2.4h-2.4z"/>
<path fill="#8ed645" d="M392.8 49.6h2.4v2.4h-2.4z"/>
<path fill="#90d743" d="M389 51.3h2.4v2.4h-2.4z"/>
<path fill="#95d840" d="M389.2 53.4h2.4v2.4h-2.4zM392.8 57.1h2.4v2.4h-2.4z"/>
<path fill="#98d83e" d="M389.3 49.4h2.4v2.4h-2.4z"/>
<path fill="#9bd93c" d="M387.6 49.6h2.4v2.4h-2.4z"/>
<path fill="#a2da37" d="M390.8 51.4h2.4v2.4h-2.4z"/>
<path fill="#aadc32" d="M391 53.5h2.4v2.4h-2.4z"/>
<path fill="#b0dd2f" d="M391.1 57.2h2.4v2.4h-2.4z"/>
<path fill="#b2dd2d" d="M391 43.8h2.4v2.4h-2.4z"/>
<path fill="#c5e021" d="M389.4 55h2.4v2.4h-2.4z"/>
<path fill="#c8e020" d="M391 58.9h2.4v2.4h-2.4z"/>
<path fill="#cae11f" d="M391 55.1h2.4v2.4h-2.4z"/>
<path fill="#cde11d" d="M389.3 60.8h2.4v2.4h-2.4z"/>
<path fill="#d0e11c" d="M389.2 59h2.4v2.4h-2.4z"/>
<path fill="#e7e419" d="M389.4 57.2h2.4v2.4h-2.4zM390.8 60.6h2.4v2.4h-2.4z"/>
</g>
<path d="M385.30 234.40v-3.9M385.30 234.40h3.9M391.30 234.40v-2.0M385.30 228.54h2.0M397.31 234.40v-2.0M385.30 222.68h2.0M403.31 234.40v-2.0M385.30 216.82h2.0M409.31 234.40v-2.0M385.30 210.96h2.0M415.31 234.40v-3.9M385.30 205.10h3.9M421.31 234.40v-2.0M385.30 199.24h2.0M427.32 234.40v-2.0M385.30 193.38h2.0M433.32 234.40v-2.0M385.30 187.52h2.0M439.32 234.40v-2.0M385.30 181.66h2.0M445.32 234.40v-3.9M385.30 175.80h3.9M451.33 234.40v-2.0M385.30 169.94h2.0M457.33 234.40v-2.0M385.30 164.08h2.0M463.33 234.40v-2.0M385.30 158.22h2.0M469.34 234.40v-2.0M385.30 152.36h2.0M475.34 234.40v-3.9M385.30 146.50h3.9M481.34 234.40v-2.0M385.30 140.64h2.0M487.34 234.40v-2.0M385.30 134.78h2.0M493.35 234.40v-2.0M385.30 128.92h2.0M499.35 234.40v-2.0M385.30 123.06h2.0M505.35 234.40v-3.9M385.30 117.20h3.9M511.35 234.40v-2.0M385.30 111.34h2.0M517.36 234.40v-2.0M385.30 105.48h2.0M523.36 234.40v-2.0M385.30 99.62h2.0M529.36 234.40v-2.0M385.30 93.76h2.0M535.36 234.40v-3.9M385.30 87.90h3.9M541.37 234.40v-2.0M385.30 82.04h2.0M547.37 234.40v-2.0M385.30 76.18h2.0M553.37 234.40v-2.0M385.30 70.32h2.0M559.37 234.40v-2.0M385.30 64.46h2.0M565.38 234.40v-3.9M385.30 58.60h3.9M571.38 234.40v-2.0M385.30 52.74h2.0M577.38 234.40v-2.0M385.30 46.88h2.0M583.38 234.40v-2.0M385.30 41.02h2.0M589.38 234.40v-2.0M385.30 35.16h2.0M595.39 234.40v-3.9M385.30 29.30h3.9M601.39 234.40v-2.0M385.30 23.44h2.0M607.39 234.40v-2.0M385.30 17.58h2.0M613.39 234.40v-2.0M385.30 11.72h2.0M619.40 234.40v-2.0M385.30 5.86h2.0M625.40 234.40v-3.9M385.30 0.00h3.9" stroke="#000" stroke-width="0.8" fill="none"/>
<rect x="385.30" y="0.10" width="240.10" height="234.30" fill="none" stroke="#000" stroke-width="0.6"/>
<g font-family="Liberation Sans, sans-serif" stroke="#000" stroke-width="0.3" fill="#000"><text x="378.94" y="244.30" font-size="10.30" textLength="12.72" lengthAdjust="spacingAndGlyphs">10</text><text x="370.28" y="238.80" font-size="10.30" textLength="12.72" lengthAdjust="spacingAndGlyphs">10</text><text x="408.95" y="244.30" font-size="10.30" textLength="12.72" lengthAdjust="spacingAndGlyphs">20</text><text x="370.28" y="209.50" font-size="10.30" textLength="12.72" lengthAdjust="spacingAndGlyphs">20</text><text x="438.96" y="244.30" font-size="10.30" textLength="12.72" lengthAdjust="spacingAndGlyphs">30</text><text x="370.28" y="180.20" font-size="10.30" textLength="12.72" lengthAdjust="spacingAndGlyphs">30</text><text x="468.98" y="244.30" font-size="10.30" textLength="12.72" lengthAdjust="spacingAndGlyphs">40</text><text x="370.28" y="150.90" font-size="10.30" textLength="12.72" lengthAdjust="spacingAndGlyphs">40</text><text x="498.99" y="244.30" font-size="10.30" textLength="12.72" lengthAdjust="spacingAndGlyphs">50</text><text x="370.28" y="121.60" font-size="10.30" textLength="12.72" lengthAdjust="spacingAndGlyphs">50</text><text x="529.00" y="244.30" font-size="10.30" textLength="12.72" lengthAdjust="spacingAndGlyphs">60</text><text x="370.28" y="92.30" font-size="10.30" textLength="12.72" lengthAdjust="spacingAndGlyphs">60</text><text x="559.01" y="244.30" font-size="10.30" textLength="12.72" lengthAdjust="spacingAndGlyphs">70</text><text x="370.28" y="63.00" font-size="10.30" textLength="12.72" lengthAdjust="spacingAndGlyphs">70</text><text x="589.03" y="244.30" font-size="10.30" textLength="12.72" lengthAdjust="spacingAndGlyphs">80</text><text x="370.28" y="33.70" font-size="10.30" textLength="12.72" lengthAdjust="spacingAndGlyphs">80</text></g>
<g font-family="Liberation Sans, sans-serif" stroke="#000" stroke-width="0.3" fill="#000">
<text x="42.93" y="160.90" font-size="10.30" textLength="4.50" lengthAdjust="spacingAndGlyphs">Γ</text>
<text x="48.44" y="160.90" font-size="10.30" textLength="3.01" lengthAdjust="spacingAndGlyphs">(</text>
<text x="52.39" y="160.90" font-size="10.30" font-style="italic" textLength="5.94" lengthAdjust="spacingAndGlyphs">Z</text>
<text x="67.13" y="160.90" font-size="10.30" font-style="italic" textLength="5.74" lengthAdjust="spacingAndGlyphs">h</text>
<text x="72.77" y="160.90" font-size="10.30" font-style="italic" textLength="5.79" lengthAdjust="spacingAndGlyphs">a</text>
<text x="79.85" y="160.90" font-size="10.30" textLength="2.89" lengthAdjust="spacingAndGlyphs">)</text>
<text x="85.36" y="160.90" font-size="10.30" textLength="7.57" lengthAdjust="spacingAndGlyphs">&gt;</text>
<text x="94.47" y="160.90" font-size="10.30" font-style="italic" textLength="5.64" lengthAdjust="spacingAndGlyphs">δ</text>
<text x="101.10" y="160.90" font-size="10.30" textLength="5.37" lengthAdjust="spacingAndGlyphs">Γ</text>
<text x="106.74" y="162.30" font-size="7.21" font-style="italic" textLength="4.27" lengthAdjust="spacingAndGlyphs">Z</text>
<path d="M66.40 157.55 L66.40 157.98 L64.54 159.90 L63.98 159.32 L65.07 158.18 L59.30 158.18 L59.30 157.35 L65.07 157.35 L63.98 156.21 L64.54 155.63Z"/>
<text x="199.62" y="204.80" font-size="10.30" font-style="italic" textLength="6.08" lengthAdjust="spacingAndGlyphs">h</text>
<text x="214.07" y="204.80" font-size="10.30" font-style="italic" textLength="5.57" lengthAdjust="spacingAndGlyphs">a</text>
<text x="219.76" y="204.80" font-size="10.30" font-style="italic" textLength="6.01" lengthAdjust="spacingAndGlyphs">a</text>
<path d="M213.10 201.45 L213.10 201.88 L211.21 203.80 L210.64 203.22 L211.75 202.08 L205.90 202.08 L205.90 201.25 L211.75 201.25 L210.64 200.11 L211.21 199.53Z"/>
<text x="99.88" y="107.90" font-size="8.24" textLength="4.52" lengthAdjust="spacingAndGlyphs">1</text>
<text x="104.51" y="107.90" font-size="8.24" font-style="italic" textLength="5.22" lengthAdjust="spacingAndGlyphs">σ</text>
<text x="93.10" y="113.70" font-size="8.24" textLength="5.49" lengthAdjust="spacingAndGlyphs">2</text>
<text x="98.52" y="113.70" font-size="8.24" font-style="italic" textLength="5.02" lengthAdjust="spacingAndGlyphs">σ</text>
</g>
<g font-family="Liberation Sans, sans-serif" stroke="#000" stroke-width="0.3" fill="#000">
<text x="400.06" y="160.90" font-size="10.30" textLength="4.50" lengthAdjust="spacingAndGlyphs">Γ</text>
<text x="405.57" y="160.90" font-size="10.30" textLength="3.01" lengthAdjust="spacingAndGlyphs">(</text>
<text x="409.52" y="160.90" font-size="10.30" font-style="italic" textLength="5.94" lengthAdjust="spacingAndGlyphs">Z</text>
<text x="424.26" y="160.90" font-size="10.30" font-style="italic" textLength="5.74" lengthAdjust="spacingAndGlyphs">h</text>
<text x="429.90" y="160.90" font-size="10.30" font-style="italic" textLength="5.79" lengthAdjust="spacingAndGlyphs">a</text>
<text x="436.98" y="160.90" font-size="10.30" textLength="2.89" lengthAdjust="spacingAndGlyphs">)</text>
<text x="442.49" y="160.90" font-size="10.30" textLength="7.57" lengthAdjust="spacingAndGlyphs">&gt;</text>
<text x="451.60" y="160.90" font-size="10.30" font-style="italic" textLength="5.64" lengthAdjust="spacingAndGlyphs">δ</text>
<text x="458.23" y="160.90" font-size="10.30" textLength="5.37" lengthAdjust="spacingAndGlyphs">Γ</text>
<text x="463.87" y="162.30" font-size="7.21" font-style="italic" textLength="4.27" lengthAdjust="spacingAndGlyphs">Z</text>
<path d="M423.53 157.55 L423.53 157.98 L421.67 159.90 L421.11 159.32 L422.20 158.18 L416.43 158.18 L416.43 157.35 L422.20 157.35 L421.11 156.21 L421.67 155.63Z"/>
<text x="550.27" y="204.80" font-size="10.30" font-style="italic" textLength="6.08" lengthAdjust="spacingAndGlyphs">h</text>
<text x="564.72" y="204.80" font-size="10.30" font-style="italic" textLength="5.57" lengthAdjust="spacingAndGlyphs">a</text>
<text x="570.40" y="204.80" font-size="10.30" font-style="italic" textLength="6.01" lengthAdjust="spacingAndGlyphs">a</text>
<path d="M563.75 201.45 L563.75 201.88 L561.86 203.80 L561.29 203.22 L562.40 202.08 L556.55 202.08 L556.55 201.25 L562.40 201.25 L561.29 200.11 L561.86 199.53Z"/>
<text x="454.94" y="107.90" font-size="8.24" textLength="4.52" lengthAdjust="spacingAndGlyphs">1</text>
<text x="459.57" y="107.90" font-size="8.24" font-style="italic" textLength="5.22" lengthAdjust="spacingAndGlyphs">σ</text>
<text x="448.16" y="113.70" font-size="8.24" textLength="5.49" lengthAdjust="spacingAndGlyphs">2</text>
<text x="453.58" y="113.70" font-size="8.24" font-style="italic" textLength="5.02" lengthAdjust="spacingAndGlyphs">σ</text>
</g>
<g font-family="Liberation Sans, sans-serif" stroke="#000" stroke-width="0.3" fill="#000">
<text x="129.91" y="257.00" font-size="10.30" font-style="italic" textLength="9.42" lengthAdjust="spacingAndGlyphs">m</text><text x="139.61" y="258.64" font-size="7.21" font-style="italic" textLength="4.19" lengthAdjust="spacingAndGlyphs">h</text><text x="147.38" y="257.00" font-size="10.30" textLength="28.54" lengthAdjust="spacingAndGlyphs">[GeV]</text>
<g transform="translate(7.80 140.2) rotate(-90)"><text x="0.16" y="0.00" font-size="10.30" font-style="italic" textLength="9.42" lengthAdjust="spacingAndGlyphs">m</text><text x="9.87" y="1.64" font-size="7.21" font-style="italic" textLength="3.94" lengthAdjust="spacingAndGlyphs">a</text><text x="17.48" y="0.00" font-size="10.30" textLength="28.54" lengthAdjust="spacingAndGlyphs">[GeV]</text></g>
</g>
<g font-family="Liberation Sans, sans-serif" stroke="#000" stroke-width="0.3" fill="#000">
<text x="482.51" y="257.00" font-size="10.30" font-style="italic" textLength="9.42" lengthAdjust="spacingAndGlyphs">m</text><text x="492.21" y="258.64" font-size="7.21" font-style="italic" textLength="4.19" lengthAdjust="spacingAndGlyphs">h</text><text x="499.98" y="257.00" font-size="10.30" textLength="28.54" lengthAdjust="spacingAndGlyphs">[GeV]</text>
<g transform="translate(365.60 140.2) rotate(-90)"><text x="0.16" y="0.00" font-size="10.30" font-style="italic" textLength="9.42" lengthAdjust="spacingAndGlyphs">m</text><text x="9.87" y="1.64" font-size="7.21" font-style="italic" textLength="3.94" lengthAdjust="spacingAndGlyphs">a</text><text x="17.48" y="0.00" font-size="10.30" textLength="28.54" lengthAdjust="spacingAndGlyphs">[GeV]</text></g>
</g>
<rect x="280.40" y="0.00" width="12.30" height="234.40" fill="url(#gL)"/>
<path d="M280.40 0.10H292.70V234.40H280.40" fill="none" stroke="#000" stroke-width="0.6"/>
<path d="M280.40 0.00V234.40" fill="none" stroke="#000" stroke-opacity="0.4" stroke-width="0.6"/>
<path d="M292.70 216.35h-3.5M292.70 187.69h-3.5M292.70 159.04h-3.5M292.70 130.38h-3.5M292.70 101.73h-3.5M292.70 73.07h-3.5M292.70 44.42h-3.5M292.70 15.76h-3.5" stroke="#000" stroke-width="0.8"/>
<g font-family="Liberation Sans, sans-serif" stroke="#000" stroke-width="0.3"><text x="295.30" y="220.60" font-size="10.30" textLength="15.90" lengthAdjust="spacingAndGlyphs">0.1</text><text x="295.30" y="191.94" font-size="10.30" textLength="15.90" lengthAdjust="spacingAndGlyphs">0.2</text><text x="295.30" y="163.29" font-size="10.30" textLength="15.90" lengthAdjust="spacingAndGlyphs">0.3</text><text x="295.30" y="134.63" font-size="10.30" textLength="15.90" lengthAdjust="spacingAndGlyphs">0.4</text><text x="295.30" y="105.98" font-size="10.30" textLength="15.90" lengthAdjust="spacingAndGlyphs">0.5</text><text x="295.30" y="77.32" font-size="10.30" textLength="15.90" lengthAdjust="spacingAndGlyphs">0.6</text><text x="295.30" y="48.67" font-size="10.30" textLength="15.90" lengthAdjust="spacingAndGlyphs">0.7</text><text x="295.30" y="20.01" font-size="10.30" textLength="15.90" lengthAdjust="spacingAndGlyphs">0.8</text></g>
<rect x="628.10" y="0.00" width="11.80" height="234.40" fill="url(#gR)"/>
<path d="M628.10 0.10H639.90V234.40H628.10" fill="none" stroke="#000" stroke-width="0.6"/>
<path d="M628.10 0.00V234.40" fill="none" stroke="#000" stroke-opacity="0.4" stroke-width="0.6"/>
<path d="M639.90 196.13h-3.5M639.90 156.27h-3.5M639.90 116.40h-3.5M639.90 76.54h-3.5M639.90 36.67h-3.5" stroke="#000" stroke-width="0.8"/>
<g font-family="Liberation Sans, sans-serif" stroke="#000" stroke-width="0.3"><text x="642.50" y="200.38" font-size="10.30" textLength="28.63" lengthAdjust="spacingAndGlyphs">0.001</text><text x="642.50" y="160.52" font-size="10.30" textLength="28.63" lengthAdjust="spacingAndGlyphs">0.002</text><text x="642.50" y="120.65" font-size="10.30" textLength="28.63" lengthAdjust="spacingAndGlyphs">0.003</text><text x="642.50" y="80.79" font-size="10.30" textLength="28.63" lengthAdjust="spacingAndGlyphs">0.004</text><text x="642.50" y="40.92" font-size="10.30" textLength="28.63" lengthAdjust="spacingAndGlyphs">0.005</text></g>
<g font-family="Liberation Sans, sans-serif" stroke="#000" stroke-width="0.3" fill="#000" transform="translate(323.6 136.6) rotate(-90)">
<text x="-0.30" y="0.00" font-size="10.30" font-style="italic" textLength="6.54" lengthAdjust="spacingAndGlyphs">B</text>
<text x="6.06" y="0.00" font-size="10.30" textLength="2.89" lengthAdjust="spacingAndGlyphs">(</text>
<text x="9.82" y="0.00" font-size="10.30" font-style="italic" textLength="5.97" lengthAdjust="spacingAndGlyphs">h</text>
<text x="23.75" y="0.00" font-size="10.30" font-style="italic" textLength="5.98" lengthAdjust="spacingAndGlyphs">b</text>
<text x="29.84" y="0.00" font-size="10.30" font-style="italic" textLength="6.09" lengthAdjust="spacingAndGlyphs">b</text>
<text x="36.95" y="0.00" font-size="10.30" textLength="2.89" lengthAdjust="spacingAndGlyphs">)</text>
<path d="M22.90 -3.35 L22.90 -2.92 L20.99 -1.00 L20.41 -1.58 L21.53 -2.72 L15.60 -2.72 L15.60 -3.55 L21.53 -3.55 L20.41 -4.69 L20.99 -5.27Z"/>
<rect x="30.60" y="-9.90" width="5.20" height="0.8"/>
</g>
<g font-family="Liberation Sans, sans-serif" stroke="#000" stroke-width="0.3" fill="#000" transform="translate(682.90 200.90) rotate(-90)">
<text x="-0.10" y="0.00" font-size="10.30" font-style="italic" textLength="5.42" lengthAdjust="spacingAndGlyphs">σ</text>
<text x="6.06" y="0.00" font-size="10.30" textLength="2.89" lengthAdjust="spacingAndGlyphs">(</text>
<text x="9.68" y="0.00" font-size="10.30" font-style="italic" textLength="4.90" lengthAdjust="spacingAndGlyphs">g</text>
<text x="14.98" y="0.00" font-size="10.30" font-style="italic" textLength="4.69" lengthAdjust="spacingAndGlyphs">g</text>
<text x="30.09" y="0.00" font-size="10.30" font-style="italic" textLength="7.20" lengthAdjust="spacingAndGlyphs">H</text>
<text x="45.77" y="0.00" font-size="10.30" font-style="italic" textLength="5.79" lengthAdjust="spacingAndGlyphs">a</text>
<text x="51.79" y="0.00" font-size="10.30" font-style="italic" textLength="5.85" lengthAdjust="spacingAndGlyphs">Z</text>
<text x="70.93" y="0.00" font-size="10.30" font-style="italic" textLength="5.86" lengthAdjust="spacingAndGlyphs">h</text>
<text x="76.90" y="0.00" font-size="10.30" font-style="italic" textLength="6.22" lengthAdjust="spacingAndGlyphs">Z</text>
<text x="87.50" y="0.00" font-size="10.30" font-style="italic" textLength="6.12" lengthAdjust="spacingAndGlyphs">Z</text>
<text x="107.09" y="0.00" font-size="10.30" font-style="italic" textLength="6.03" lengthAdjust="spacingAndGlyphs">Z</text>
<text x="117.60" y="0.00" font-size="10.30" font-style="italic" textLength="6.31" lengthAdjust="spacingAndGlyphs">Z</text>
<text x="128.05" y="0.00" font-size="10.30" font-style="italic" textLength="5.77" lengthAdjust="spacingAndGlyphs">b</text>
<text x="133.85" y="0.00" font-size="10.30" font-style="italic" textLength="5.87" lengthAdjust="spacingAndGlyphs">b</text>
<text x="142.45" y="0.00" font-size="10.30" textLength="2.89" lengthAdjust="spacingAndGlyphs">)</text>
<text x="148.61" y="0.00" font-size="10.30" textLength="3.08" lengthAdjust="spacingAndGlyphs">[</text>
<text x="151.58" y="0.00" font-size="10.30" textLength="6.18" lengthAdjust="spacingAndGlyphs">p</text>
<text x="157.28" y="0.00" font-size="10.30" textLength="6.18" lengthAdjust="spacingAndGlyphs">b</text>
<text x="164.21" y="0.00" font-size="10.30" textLength="3.08" lengthAdjust="spacingAndGlyphs">]</text>
<text x="58.46" y="-4.30" font-size="7.21" textLength="3.27" lengthAdjust="spacingAndGlyphs">*</text>
<text x="83.86" y="-4.30" font-size="7.21" textLength="3.27" lengthAdjust="spacingAndGlyphs">*</text>
<text x="94.86" y="-4.30" font-size="7.21" textLength="3.27" lengthAdjust="spacingAndGlyphs">*</text>
<text x="114.16" y="-4.30" font-size="7.21" textLength="3.27" lengthAdjust="spacingAndGlyphs">*</text>
<text x="125.06" y="-4.30" font-size="7.21" textLength="3.27" lengthAdjust="spacingAndGlyphs">*</text>
<path d="M27.20 -3.35 L27.20 -2.92 L25.29 -1.00 L24.71 -1.58 L25.83 -2.72 L19.90 -2.72 L19.90 -3.55 L25.83 -3.55 L24.71 -4.69 L25.29 -5.27Z"/>
<path d="M45.20 -3.35 L45.20 -2.92 L43.29 -1.00 L42.71 -1.58 L43.83 -2.72 L37.90 -2.72 L37.90 -3.55 L43.83 -3.55 L42.71 -4.69 L43.29 -5.27Z"/>
<path d="M70.20 -3.35 L70.20 -2.92 L68.29 -1.00 L67.71 -1.58 L68.83 -2.72 L62.90 -2.72 L62.90 -3.55 L68.83 -3.55 L67.71 -4.69 L68.29 -5.27Z"/>
<path d="M106.40 -3.35 L106.40 -2.92 L104.49 -1.00 L103.91 -1.58 L105.03 -2.72 L99.10 -2.72 L99.10 -3.55 L105.03 -3.55 L103.91 -4.69 L104.49 -5.27Z"/>
<rect x="134.00" y="-9.90" width="5.40" height="0.8"/>
</g>
</svg>
</body></html>
